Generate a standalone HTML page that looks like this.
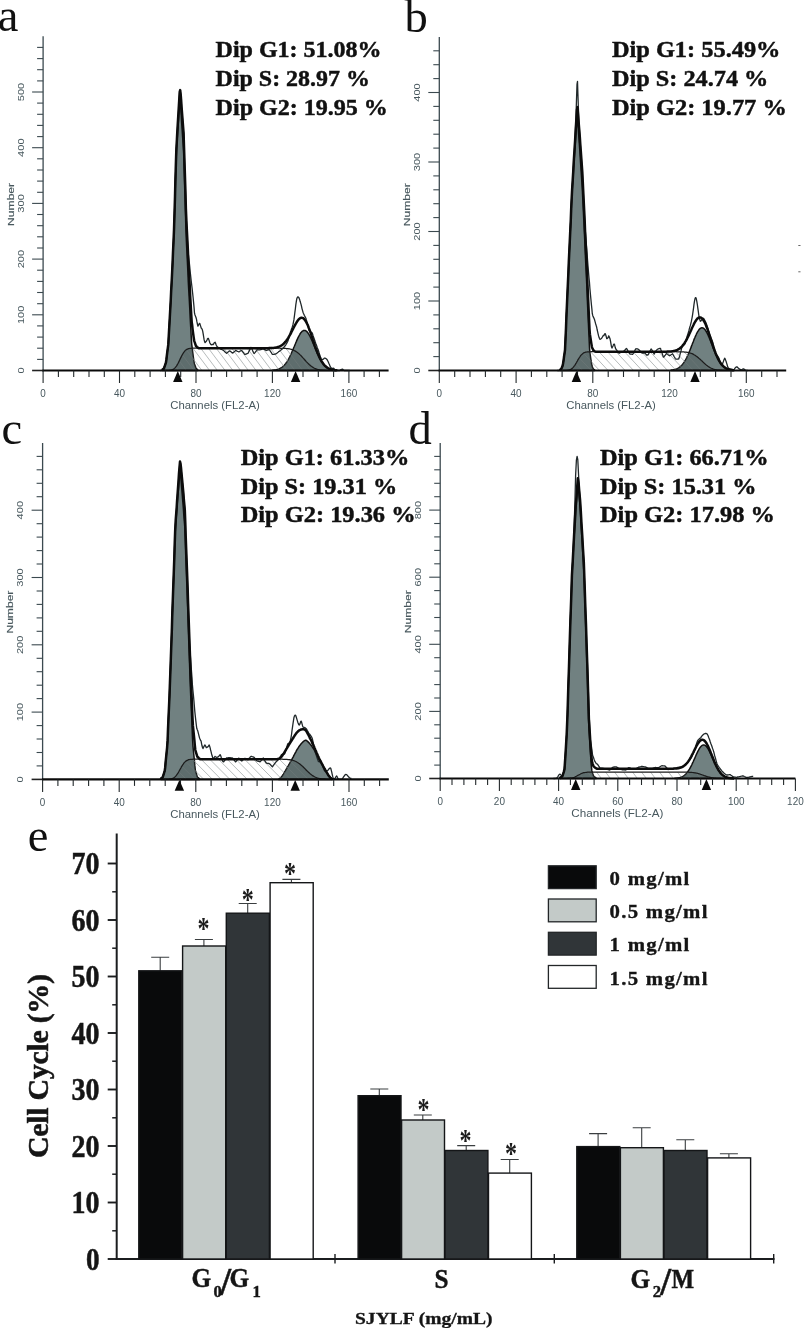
<!DOCTYPE html>
<html lang="en"><head><meta charset="utf-8"><title>Cell cycle figure</title>
<style>html,body{margin:0;padding:0;background:#fff}svg{display:block;will-change:transform}</style></head><body>
<svg width="805" height="1329" viewBox="0 0 805 1329">
<rect width="805" height="1329" fill="#fff"/>
<defs><filter id="soft" x="0" y="0" width="805" height="1329" filterUnits="userSpaceOnUse" color-interpolation-filters="sRGB"><feGaussianBlur stdDeviation="0.55"/></filter></defs>
<g filter="url(#soft)">
<rect width="805" height="1329" fill="#fff"/>
<g id="panel-a">
<line x1="43.1" y1="36.3" x2="43.1" y2="371.5" stroke="#3b494f" stroke-width="1.3"/>
<line x1="32.1" y1="370.5" x2="43.1" y2="370.5" stroke="#222" stroke-width="1.6"/>
<text transform="translate(23.8 370.5) rotate(-90)" text-anchor="middle" font-family='"Liberation Sans", "DejaVu Sans", sans-serif' font-size="9.3" fill="#48585e" textLength="6.2" lengthAdjust="spacingAndGlyphs">0</text>
<line x1="37.1" y1="359.4" x2="43.1" y2="359.4" stroke="#3b494f" stroke-width="1.1"/>
<line x1="37.1" y1="348.2" x2="43.1" y2="348.2" stroke="#3b494f" stroke-width="1.1"/>
<line x1="37.1" y1="337.1" x2="43.1" y2="337.1" stroke="#3b494f" stroke-width="1.1"/>
<line x1="37.1" y1="325.9" x2="43.1" y2="325.9" stroke="#3b494f" stroke-width="1.1"/>
<line x1="32.1" y1="314.8" x2="43.1" y2="314.8" stroke="#3b494f" stroke-width="1.1"/>
<text transform="translate(23.8 314.8) rotate(-90)" text-anchor="middle" font-family='"Liberation Sans", "DejaVu Sans", sans-serif' font-size="9.3" fill="#48585e" textLength="18.5" lengthAdjust="spacingAndGlyphs">100</text>
<line x1="37.1" y1="303.7" x2="43.1" y2="303.7" stroke="#3b494f" stroke-width="1.1"/>
<line x1="37.1" y1="292.5" x2="43.1" y2="292.5" stroke="#3b494f" stroke-width="1.1"/>
<line x1="37.1" y1="281.4" x2="43.1" y2="281.4" stroke="#3b494f" stroke-width="1.1"/>
<line x1="37.1" y1="270.2" x2="43.1" y2="270.2" stroke="#3b494f" stroke-width="1.1"/>
<line x1="32.1" y1="259.1" x2="43.1" y2="259.1" stroke="#3b494f" stroke-width="1.1"/>
<text transform="translate(23.8 259.1) rotate(-90)" text-anchor="middle" font-family='"Liberation Sans", "DejaVu Sans", sans-serif' font-size="9.3" fill="#48585e" textLength="18.5" lengthAdjust="spacingAndGlyphs">200</text>
<line x1="37.1" y1="248" x2="43.1" y2="248" stroke="#3b494f" stroke-width="1.1"/>
<line x1="37.1" y1="236.8" x2="43.1" y2="236.8" stroke="#3b494f" stroke-width="1.1"/>
<line x1="37.1" y1="225.7" x2="43.1" y2="225.7" stroke="#3b494f" stroke-width="1.1"/>
<line x1="37.1" y1="214.5" x2="43.1" y2="214.5" stroke="#3b494f" stroke-width="1.1"/>
<line x1="32.1" y1="203.4" x2="43.1" y2="203.4" stroke="#3b494f" stroke-width="1.1"/>
<text transform="translate(23.8 203.4) rotate(-90)" text-anchor="middle" font-family='"Liberation Sans", "DejaVu Sans", sans-serif' font-size="9.3" fill="#48585e" textLength="18.5" lengthAdjust="spacingAndGlyphs">300</text>
<line x1="37.1" y1="192.3" x2="43.1" y2="192.3" stroke="#3b494f" stroke-width="1.1"/>
<line x1="37.1" y1="181.1" x2="43.1" y2="181.1" stroke="#3b494f" stroke-width="1.1"/>
<line x1="37.1" y1="170" x2="43.1" y2="170" stroke="#3b494f" stroke-width="1.1"/>
<line x1="37.1" y1="158.8" x2="43.1" y2="158.8" stroke="#3b494f" stroke-width="1.1"/>
<line x1="32.1" y1="147.7" x2="43.1" y2="147.7" stroke="#3b494f" stroke-width="1.1"/>
<text transform="translate(23.8 147.7) rotate(-90)" text-anchor="middle" font-family='"Liberation Sans", "DejaVu Sans", sans-serif' font-size="9.3" fill="#48585e" textLength="18.5" lengthAdjust="spacingAndGlyphs">400</text>
<line x1="37.1" y1="136.6" x2="43.1" y2="136.6" stroke="#3b494f" stroke-width="1.1"/>
<line x1="37.1" y1="125.4" x2="43.1" y2="125.4" stroke="#3b494f" stroke-width="1.1"/>
<line x1="37.1" y1="114.3" x2="43.1" y2="114.3" stroke="#3b494f" stroke-width="1.1"/>
<line x1="37.1" y1="103.1" x2="43.1" y2="103.1" stroke="#3b494f" stroke-width="1.1"/>
<line x1="32.1" y1="92" x2="43.1" y2="92" stroke="#3b494f" stroke-width="1.1"/>
<text transform="translate(23.8 92) rotate(-90)" text-anchor="middle" font-family='"Liberation Sans", "DejaVu Sans", sans-serif' font-size="9.3" fill="#48585e" textLength="18.5" lengthAdjust="spacingAndGlyphs">500</text>
<line x1="37.1" y1="80.9" x2="43.1" y2="80.9" stroke="#3b494f" stroke-width="1.1"/>
<line x1="37.1" y1="69.7" x2="43.1" y2="69.7" stroke="#3b494f" stroke-width="1.1"/>
<line x1="37.1" y1="58.6" x2="43.1" y2="58.6" stroke="#3b494f" stroke-width="1.1"/>
<line x1="37.1" y1="47.4" x2="43.1" y2="47.4" stroke="#3b494f" stroke-width="1.1"/>
<text transform="translate(13.8 204.4) rotate(-90)" text-anchor="middle" font-family='"Liberation Sans", "DejaVu Sans", sans-serif' font-size="9.4" font-weight="normal" stroke="#48585e" stroke-width="0.18" fill="#48585e" textLength="43" lengthAdjust="spacingAndGlyphs">Number</text>
<clipPath id="clipa"><path d="M169.2 370.4 L169.7 370.3 L170.2 370.3 L170.7 370.2 L171.1 370.1 L171.6 370 L172.1 369.8 L172.6 369.6 L173 369.4 L173.5 369.1 L174 368.8 L174.5 368.4 L175 367.9 L175.4 367.4 L175.9 366.8 L176.4 366.2 L176.9 365.4 L177.3 364.6 L177.8 363.8 L178.3 362.9 L178.8 361.9 L179.3 360.9 L179.7 359.9 L180.2 358.9 L180.7 357.9 L181.2 356.9 L181.6 356 L182.1 355.1 L182.6 354.2 L183.1 353.4 L183.6 352.7 L184 352 L184.5 351.4 L185 350.8 L185.5 350.4 L185.9 350 L186.4 349.6 L186.9 349.3 L187.4 349.1 L187.9 348.9 L188.3 348.7 L188.8 348.6 L189.3 348.5 L189.8 348.4 L190.2 348.4 L190.7 348.3 L191.2 348.3 L191.7 348.3 L192.2 348.3 L192.6 348.2 L193.1 348.2 L193.6 348.2 L194.1 348.2 L194.5 348.2 L195 348.2 L195.5 348.2 L196 348.2 L196.5 348.2 L196.9 348.2 L197.4 348.2 L197.9 348.2 L198.4 348.2 L198.8 348.2 L199.3 348.2 L199.8 348.2 L200.3 348.2 L200.8 348.2 L201.2 348.2 L201.7 348.2 L202.2 348.2 L202.7 348.2 L203.1 348.2 L203.6 348.2 L204.1 348.2 L204.6 348.2 L205.1 348.2 L205.5 348.2 L206 348.2 L206.5 348.2 L207 348.2 L207.4 348.2 L207.9 348.2 L208.4 348.2 L208.9 348.2 L209.4 348.2 L209.8 348.2 L210.3 348.2 L210.8 348.2 L211.3 348.2 L211.7 348.2 L212.2 348.2 L212.7 348.2 L213.2 348.2 L213.7 348.2 L214.1 348.2 L214.6 348.2 L215.1 348.2 L215.6 348.2 L216 348.2 L216.5 348.2 L217 348.2 L217.5 348.2 L218 348.2 L218.4 348.2 L218.9 348.2 L219.4 348.2 L219.9 348.2 L220.3 348.2 L220.8 348.2 L221.3 348.2 L221.8 348.2 L222.3 348.2 L222.7 348.2 L223.2 348.2 L223.7 348.2 L224.2 348.2 L224.6 348.2 L225.1 348.2 L225.6 348.2 L226.1 348.2 L226.6 348.2 L227 348.2 L227.5 348.2 L228 348.2 L228.5 348.2 L228.9 348.2 L229.4 348.2 L229.9 348.2 L230.4 348.2 L230.9 348.2 L231.3 348.2 L231.8 348.2 L232.3 348.2 L232.8 348.2 L233.2 348.2 L233.7 348.2 L234.2 348.2 L234.7 348.2 L235.2 348.2 L235.6 348.2 L236.1 348.2 L236.6 348.2 L237.1 348.2 L237.5 348.2 L238 348.2 L238.5 348.2 L239 348.2 L239.5 348.2 L239.9 348.2 L240.4 348.2 L240.9 348.2 L241.4 348.2 L241.8 348.2 L242.3 348.2 L242.8 348.2 L243.3 348.2 L243.8 348.2 L244.2 348.2 L244.7 348.2 L245.2 348.2 L245.7 348.2 L246.1 348.2 L246.6 348.2 L247.1 348.2 L247.6 348.2 L248.1 348.2 L248.5 348.2 L249 348.2 L249.5 348.2 L250 348.2 L250.4 348.2 L250.9 348.2 L251.4 348.2 L251.9 348.2 L252.4 348.2 L252.8 348.2 L253.3 348.2 L253.8 348.2 L254.3 348.2 L254.7 348.2 L255.2 348.2 L255.7 348.2 L256.2 348.2 L256.7 348.2 L257.1 348.2 L257.6 348.2 L258.1 348.2 L258.6 348.2 L259 348.2 L259.5 348.2 L260 348.2 L260.5 348.2 L261 348.2 L261.4 348.2 L261.9 348.2 L262.4 348.2 L262.9 348.2 L263.3 348.2 L263.8 348.2 L264.3 348.2 L264.8 348.2 L265.3 348.2 L265.7 348.2 L266.2 348.2 L266.7 348.2 L267.2 348.2 L267.6 348.2 L268.1 348.2 L268.6 348.2 L269.1 348.2 L269.6 348.2 L270 348.2 L270.5 348.2 L271 348.2 L271.5 348.2 L271.9 348.2 L272.4 348.2 L272.9 348.2 L273.4 348.2 L273.9 348.2 L274.3 348.2 L274.8 348.2 L275.3 348.2 L275.8 348.2 L276.2 348.2 L276.7 348.2 L277.2 348.2 L277.7 348.2 L278.2 348.2 L278.6 348.2 L279.1 348.2 L279.6 348.2 L280.1 348.2 L280.5 348.3 L281 348.3 L281.5 348.3 L282 348.3 L282.5 348.3 L282.9 348.3 L283.4 348.3 L283.9 348.3 L284.4 348.4 L284.8 348.4 L285.3 348.4 L285.8 348.4 L286.3 348.5 L286.8 348.5 L287.2 348.6 L287.7 348.6 L288.2 348.7 L288.7 348.8 L289.1 348.8 L289.6 348.9 L290.1 349 L290.6 349.2 L291.1 349.3 L291.5 349.4 L292 349.6 L292.5 349.7 L293 349.9 L293.4 350.1 L293.9 350.3 L294.4 350.6 L294.9 350.8 L295.4 351.1 L295.8 351.4 L296.3 351.7 L296.8 352 L297.3 352.4 L297.7 352.8 L298.2 353.1 L298.7 353.5 L299.2 354 L299.7 354.4 L300.1 354.9 L300.6 355.3 L301.1 355.8 L301.6 356.3 L302 356.8 L302.5 357.3 L303 357.9 L303.5 358.4 L304 358.9 L304.4 359.5 L304.9 360 L305.4 360.5 L305.9 361.1 L306.3 361.6 L306.8 362.1 L307.3 362.6 L307.8 363.1 L308.3 363.6 L308.7 364 L309.2 364.5 L309.7 364.9 L310.2 365.3 L310.6 365.7 L311.1 366.1 L311.6 366.5 L312.1 366.8 L312.6 367.1 L313 367.4 L313.5 367.7 L314 368 L314.5 368.2 L314.9 368.5 L315.4 368.7 L315.9 368.9 L316.4 369.1 L316.9 369.2 L317.3 369.4 L317.8 369.5 L318.3 369.6 L318.8 369.7 L319.2 369.8 L319.7 369.9 L320.2 370 L320.7 370.1 L321.2 370.1 L321.6 370.2 L322.1 370.2 L322.6 370.3 L323.1 370.3 L323.5 370.3 L324 370.4 L324.5 370.4 L325 370.4 L325.5 370.4 L325.5 370.5 L169.2 370.5 Z"/></clipPath>
<path d="M162.1 370 L162.5 369.6 L163 369.2 L163.5 368.8 L164 368.4 L164.4 367 L164.9 365.6 L165.4 364.2 L165.9 362.7 L166.4 359.5 L166.8 355.8 L167.3 352 L167.8 348.2 L168.3 344.4 L168.7 337 L169.2 328 L169.7 319.1 L170.2 310.2 L170.7 301.3 L171.1 292.4 L171.6 283.5 L172.1 273.3 L172.6 263.2 L173 253 L173.5 242.9 L174 231.5 L174.5 215.3 L175 199.1 L175.4 182.9 L175.9 166.7 L176.4 152.1 L176.9 144.8 L177.3 137.4 L177.8 130.1 L178.3 122.8 L178.8 115.4 L179.3 108.1 L179.7 102.4 L180.2 101.7 L180.7 107.2 L181.2 114.5 L181.6 121.9 L182.1 129.2 L182.6 136.6 L183.1 143.9 L183.6 151.3 L184 164.8 L184.5 181 L185 197.2 L185.5 213.4 L185.9 229.6 L186.4 241.7 L186.9 251.8 L187.4 262 L187.9 272.1 L188.3 282.3 L188.8 291.3 L189.3 300.2 L189.8 309.2 L190.2 318.1 L190.7 327 L191.2 335.9 L191.7 344 L192.2 347.8 L192.6 351.5 L193.1 355.3 L193.6 359.1 L194.1 362.6 L194.5 364 L195 365.4 L195.5 366.8 L196 368.3 L196.5 368.7 L196.9 369.1 L197.4 369.6 L197.9 370 L197.9 370.5 L162.1 370.5 Z" fill="#718181" stroke="#111" stroke-width="1.5" stroke-linejoin="round"/>
<path d="M272.4 370.3 L272.9 370.2 L273.4 370.2 L273.9 370.1 L274.3 370.1 L274.8 370 L275.3 369.9 L275.8 369.9 L276.2 369.8 L276.7 369.7 L277.2 369.5 L277.7 369.4 L278.2 369.3 L278.6 369.1 L279.1 368.9 L279.6 368.7 L280.1 368.5 L280.5 368.2 L281 367.9 L281.5 367.6 L282 367.3 L282.5 366.9 L282.9 366.6 L283.4 366.1 L283.9 365.7 L284.4 365.2 L284.8 364.6 L285.3 364.1 L285.8 363.5 L286.3 362.8 L286.8 362.1 L287.2 361.4 L287.7 360.6 L288.2 359.8 L288.7 358.9 L289.1 358 L289.6 357.1 L290.1 356.1 L290.6 355.1 L291.1 354.1 L291.5 353 L292 351.9 L292.5 350.8 L293 349.7 L293.4 348.5 L293.9 347.3 L294.4 346.2 L294.9 345 L295.4 343.8 L295.8 342.7 L296.3 341.6 L296.8 340.4 L297.3 339.4 L297.7 338.3 L298.2 337.3 L298.7 336.4 L299.2 335.5 L299.7 334.6 L300.1 333.8 L300.6 333.1 L301.1 332.5 L301.6 331.9 L302 331.4 L302.5 331.1 L303 330.8 L303.5 330.5 L304 330.4 L304.4 330.4 L304.9 330.5 L305.4 330.6 L305.9 330.9 L306.3 331.2 L306.8 331.6 L307.3 332.1 L307.8 332.7 L308.3 333.4 L308.7 334.1 L309.2 334.9 L309.7 335.8 L310.2 336.7 L310.6 337.7 L311.1 338.7 L311.6 339.8 L312.1 340.9 L312.6 342 L313 343.2 L313.5 344.3 L314 345.5 L314.5 346.6 L314.9 347.8 L315.4 349 L315.9 350.1 L316.4 351.2 L316.9 352.4 L317.3 353.4 L317.8 354.5 L318.3 355.5 L318.8 356.5 L319.2 357.5 L319.7 358.4 L320.2 359.3 L320.7 360.1 L321.2 360.9 L321.6 361.7 L322.1 362.4 L322.6 363.1 L323.1 363.7 L323.5 364.3 L324 364.9 L324.5 365.4 L325 365.9 L325.5 366.3 L325.9 366.7 L326.4 367.1 L326.9 367.4 L327.4 367.8 L327.8 368.1 L328.3 368.3 L328.8 368.6 L329.3 368.8 L329.8 369 L330.2 369.2 L330.7 369.3 L331.2 369.5 L331.7 369.6 L332.1 369.7 L332.6 369.8 L333.1 369.9 L333.6 370 L334 370 L334.5 370.1 L335 370.2 L335.5 370.2 L336 370.2 L336 370.5 L272.4 370.5 Z" fill="#718181" stroke="#111" stroke-width="1.5" stroke-linejoin="round"/>
<path d="M144.9 346.2 l18.2 24.3 M152.7 346.2 l18.2 24.3 M160.4 346.2 l18.2 24.3 M168.2 346.2 l18.2 24.3 M175.9 346.2 l18.2 24.3 M183.7 346.2 l18.2 24.3 M191.4 346.2 l18.2 24.3 M199.2 346.2 l18.2 24.3 M206.9 346.2 l18.2 24.3 M214.7 346.2 l18.2 24.3 M222.4 346.2 l18.2 24.3 M230.2 346.2 l18.2 24.3 M237.9 346.2 l18.2 24.3 M245.7 346.2 l18.2 24.3 M253.4 346.2 l18.2 24.3 M261.2 346.2 l18.2 24.3 M268.9 346.2 l18.2 24.3 M276.7 346.2 l18.2 24.3 M284.4 346.2 l18.2 24.3 M292.2 346.2 l18.2 24.3 M299.9 346.2 l18.2 24.3 M307.7 346.2 l18.2 24.3 M315.4 346.2 l18.2 24.3 M323.2 346.2 l18.2 24.3" stroke="#8f9797" stroke-width="0.65" fill="none" clip-path="url(#clipa)"/>
<path d="M170.2 370.3 L170.7 370.2 L171.1 370.1 L171.6 370 L172.1 369.8 L172.6 369.6 L173 369.4 L173.5 369.1 L174 368.8 L174.5 368.4 L175 367.9 L175.4 367.4 L175.9 366.8 L176.4 366.2 L176.9 365.4 L177.3 364.6 L177.8 363.8 L178.3 362.9 L178.8 361.9 L179.3 360.9 L179.7 359.9 L180.2 358.9 L180.7 357.9 L181.2 356.9 L181.6 356 L182.1 355.1 L182.6 354.2 L183.1 353.4 L183.6 352.7 L184 352 L184.5 351.4 L185 350.8 L185.5 350.4 L185.9 350 L186.4 349.6 L186.9 349.3 L187.4 349.1 L187.9 348.9 L188.3 348.7 L188.8 348.6 L189.3 348.5 L189.8 348.4 L190.2 348.4 L190.7 348.3 L191.2 348.3 L191.7 348.3 L192.2 348.3 L192.6 351.5 L193.1 355.3 L193.6 359.1 L194.1 362.6 L194.5 364 L195 365.4 L195.5 366.8 L196 368.3 L196.5 368.7 L196.9 369.1 L197.4 369.6 L197.9 370 L197.9 370.5 L170.2 370.5 Z" fill="#465454" fill-opacity="0.45" stroke="none"/>
<path d="M271.5 370.3 L271.9 370.3 L272.4 370.3 L272.9 370.2 L273.4 370.2 L273.9 370.1 L274.3 370.1 L274.8 370 L275.3 369.9 L275.8 369.9 L276.2 369.8 L276.7 369.7 L277.2 369.5 L277.7 369.4 L278.2 369.3 L278.6 369.1 L279.1 368.9 L279.6 368.7 L280.1 368.5 L280.5 368.2 L281 367.9 L281.5 367.6 L282 367.3 L282.5 366.9 L282.9 366.6 L283.4 366.1 L283.9 365.7 L284.4 365.2 L284.8 364.6 L285.3 364.1 L285.8 363.5 L286.3 362.8 L286.8 362.1 L287.2 361.4 L287.7 360.6 L288.2 359.8 L288.7 358.9 L289.1 358 L289.6 357.1 L290.1 356.1 L290.6 355.1 L291.1 354.1 L291.5 353 L292 351.9 L292.5 350.8 L293 349.9 L293.4 350.1 L293.9 350.3 L294.4 350.6 L294.9 350.8 L295.4 351.1 L295.8 351.4 L296.3 351.7 L296.8 352 L297.3 352.4 L297.7 352.8 L298.2 353.1 L298.7 353.5 L299.2 354 L299.7 354.4 L300.1 354.9 L300.6 355.3 L301.1 355.8 L301.6 356.3 L302 356.8 L302.5 357.3 L303 357.9 L303.5 358.4 L304 358.9 L304.4 359.5 L304.9 360 L305.4 360.5 L305.9 361.1 L306.3 361.6 L306.8 362.1 L307.3 362.6 L307.8 363.1 L308.3 363.6 L308.7 364 L309.2 364.5 L309.7 364.9 L310.2 365.3 L310.6 365.7 L311.1 366.1 L311.6 366.5 L312.1 366.8 L312.6 367.1 L313 367.4 L313.5 367.7 L314 368 L314.5 368.2 L314.9 368.5 L315.4 368.7 L315.9 368.9 L316.4 369.1 L316.9 369.2 L317.3 369.4 L317.8 369.5 L318.3 369.6 L318.8 369.7 L319.2 369.8 L319.7 369.9 L320.2 370 L320.7 370.1 L321.2 370.1 L321.6 370.2 L322.1 370.2 L322.6 370.3 L323.1 370.3 L323.5 370.3 L323.5 370.5 L271.5 370.5 Z" fill="#465454" fill-opacity="0.45" stroke="none"/>
<path d="M169.2 370.4 L169.7 370.3 L170.2 370.3 L170.7 370.2 L171.1 370.1 L171.6 370 L172.1 369.8 L172.6 369.6 L173 369.4 L173.5 369.1 L174 368.8 L174.5 368.4 L175 367.9 L175.4 367.4 L175.9 366.8 L176.4 366.2 L176.9 365.4 L177.3 364.6 L177.8 363.8 L178.3 362.9 L178.8 361.9 L179.3 360.9 L179.7 359.9 L180.2 358.9 L180.7 357.9 L181.2 356.9 L181.6 356 L182.1 355.1 L182.6 354.2 L183.1 353.4 L183.6 352.7 L184 352 L184.5 351.4 L185 350.8 L185.5 350.4 L185.9 350 L186.4 349.6 L186.9 349.3 L187.4 349.1 L187.9 348.9 L188.3 348.7 L188.8 348.6 L189.3 348.5 L189.8 348.4 L190.2 348.4 L190.7 348.3 L191.2 348.3 L191.7 348.3 L192.2 348.3 L192.6 348.2 L193.1 348.2 L193.6 348.2 L194.1 348.2 L194.5 348.2 L195 348.2 L195.5 348.2 L196 348.2 L196.5 348.2 L196.9 348.2 L197.4 348.2 L197.9 348.2 L198.4 348.2 L198.8 348.2 L199.3 348.2 L199.8 348.2 L200.3 348.2 L200.8 348.2 L201.2 348.2 L201.7 348.2 L202.2 348.2 L202.7 348.2 L203.1 348.2 L203.6 348.2 L204.1 348.2 L204.6 348.2 L205.1 348.2 L205.5 348.2 L206 348.2 L206.5 348.2 L207 348.2 L207.4 348.2 L207.9 348.2 L208.4 348.2 L208.9 348.2 L209.4 348.2 L209.8 348.2 L210.3 348.2 L210.8 348.2 L211.3 348.2 L211.7 348.2 L212.2 348.2 L212.7 348.2 L213.2 348.2 L213.7 348.2 L214.1 348.2 L214.6 348.2 L215.1 348.2 L215.6 348.2 L216 348.2 L216.5 348.2 L217 348.2 L217.5 348.2 L218 348.2 L218.4 348.2 L218.9 348.2 L219.4 348.2 L219.9 348.2 L220.3 348.2 L220.8 348.2 L221.3 348.2 L221.8 348.2 L222.3 348.2 L222.7 348.2 L223.2 348.2 L223.7 348.2 L224.2 348.2 L224.6 348.2 L225.1 348.2 L225.6 348.2 L226.1 348.2 L226.6 348.2 L227 348.2 L227.5 348.2 L228 348.2 L228.5 348.2 L228.9 348.2 L229.4 348.2 L229.9 348.2 L230.4 348.2 L230.9 348.2 L231.3 348.2 L231.8 348.2 L232.3 348.2 L232.8 348.2 L233.2 348.2 L233.7 348.2 L234.2 348.2 L234.7 348.2 L235.2 348.2 L235.6 348.2 L236.1 348.2 L236.6 348.2 L237.1 348.2 L237.5 348.2 L238 348.2 L238.5 348.2 L239 348.2 L239.5 348.2 L239.9 348.2 L240.4 348.2 L240.9 348.2 L241.4 348.2 L241.8 348.2 L242.3 348.2 L242.8 348.2 L243.3 348.2 L243.8 348.2 L244.2 348.2 L244.7 348.2 L245.2 348.2 L245.7 348.2 L246.1 348.2 L246.6 348.2 L247.1 348.2 L247.6 348.2 L248.1 348.2 L248.5 348.2 L249 348.2 L249.5 348.2 L250 348.2 L250.4 348.2 L250.9 348.2 L251.4 348.2 L251.9 348.2 L252.4 348.2 L252.8 348.2 L253.3 348.2 L253.8 348.2 L254.3 348.2 L254.7 348.2 L255.2 348.2 L255.7 348.2 L256.2 348.2 L256.7 348.2 L257.1 348.2 L257.6 348.2 L258.1 348.2 L258.6 348.2 L259 348.2 L259.5 348.2 L260 348.2 L260.5 348.2 L261 348.2 L261.4 348.2 L261.9 348.2 L262.4 348.2 L262.9 348.2 L263.3 348.2 L263.8 348.2 L264.3 348.2 L264.8 348.2 L265.3 348.2 L265.7 348.2 L266.2 348.2 L266.7 348.2 L267.2 348.2 L267.6 348.2 L268.1 348.2 L268.6 348.2 L269.1 348.2 L269.6 348.2 L270 348.2 L270.5 348.2 L271 348.2 L271.5 348.2 L271.9 348.2 L272.4 348.2 L272.9 348.2 L273.4 348.2 L273.9 348.2 L274.3 348.2 L274.8 348.2 L275.3 348.2 L275.8 348.2 L276.2 348.2 L276.7 348.2 L277.2 348.2 L277.7 348.2 L278.2 348.2 L278.6 348.2 L279.1 348.2 L279.6 348.2 L280.1 348.2 L280.5 348.3 L281 348.3 L281.5 348.3 L282 348.3 L282.5 348.3 L282.9 348.3 L283.4 348.3 L283.9 348.3 L284.4 348.4 L284.8 348.4 L285.3 348.4 L285.8 348.4 L286.3 348.5 L286.8 348.5 L287.2 348.6 L287.7 348.6 L288.2 348.7 L288.7 348.8 L289.1 348.8 L289.6 348.9 L290.1 349 L290.6 349.2 L291.1 349.3 L291.5 349.4 L292 349.6 L292.5 349.7 L293 349.9 L293.4 350.1 L293.9 350.3 L294.4 350.6 L294.9 350.8 L295.4 351.1 L295.8 351.4 L296.3 351.7 L296.8 352 L297.3 352.4 L297.7 352.8 L298.2 353.1 L298.7 353.5 L299.2 354 L299.7 354.4 L300.1 354.9 L300.6 355.3 L301.1 355.8 L301.6 356.3 L302 356.8 L302.5 357.3 L303 357.9 L303.5 358.4 L304 358.9 L304.4 359.5 L304.9 360 L305.4 360.5 L305.9 361.1 L306.3 361.6 L306.8 362.1 L307.3 362.6 L307.8 363.1 L308.3 363.6 L308.7 364 L309.2 364.5 L309.7 364.9 L310.2 365.3 L310.6 365.7 L311.1 366.1 L311.6 366.5 L312.1 366.8 L312.6 367.1 L313 367.4 L313.5 367.7 L314 368 L314.5 368.2 L314.9 368.5 L315.4 368.7 L315.9 368.9 L316.4 369.1 L316.9 369.2 L317.3 369.4 L317.8 369.5 L318.3 369.6 L318.8 369.7 L319.2 369.8 L319.7 369.9 L320.2 370 L320.7 370.1 L321.2 370.1 L321.6 370.2 L322.1 370.2 L322.6 370.3 L323.1 370.3 L323.5 370.3 L324 370.4 L324.5 370.4 L325 370.4 L325.5 370.4" fill="none" stroke="#1c1c1c" stroke-width="1.25"/>
<path d="M160.1 370.5 L160.6 370.5 L161.1 370.5 L161.6 370.4 L162.1 370 L162.5 369.6 L163 369.2 L163.5 368.8 L164 368.4 L164.4 367 L164.9 365.6 L165.4 364.1 L165.9 362.7 L166.4 359.5 L166.8 355.8 L167.3 352 L167.8 348.2 L168.3 344.4 L168.7 336.9 L169.2 327.9 L169.7 319 L170.2 310 L170.7 301 L171.1 292 L171.6 283 L172.1 272.7 L172.6 262.3 L173 252 L173.5 241.5 L174 229.8 L174.5 213.2 L175 196.5 L175.4 179.8 L175.9 163 L176.4 147.8 L176.9 139.7 L177.3 131.6 L177.8 123.4 L178.3 115.1 L178.8 106.8 L179.3 98.5 L179.7 91.8 L180.2 90.1 L180.7 94.7 L181.2 101 L181.6 107.4 L182.1 113.8 L182.6 120.3 L183.1 126.8 L183.6 133.4 L184 146.2 L184.5 161.8 L185 177.5 L185.5 193.2 L185.9 209 L186.4 220.8 L186.9 230.7 L187.4 240.6 L187.9 249.2 L188.3 253.7 L188.8 258.2 L189.3 262.6 L189.8 267.2 L190.2 271.8 L190.7 276.3 L191.2 280.8 L191.7 285 L192.2 289 L192.6 292.9 L193.1 297.5 L193.6 302.6 L194.1 307.9 L194.5 313.2 L195 315 L195.5 316.2 L196 317.5 L196.5 319.4 L196.9 321.7 L197.4 324 L197.9 326.1 L198.4 325.3 L198.8 324.5 L199.3 323.5 L199.8 323.5 L200.3 325.1 L200.8 326.6 L201.2 328.1 L201.7 328.5 L202.2 329.4 L202.7 331.1 L203.1 333.3 L203.6 336.5 L204.1 339.7 L204.6 341.6 L205.1 342.6 L205.5 342.2 L206 341.6 L206.5 341 L207 340 L207.4 339 L207.9 338.3 L208.4 338.4 L208.9 339.9 L209.4 341.3 L209.8 342.7 L210.3 343.7 L210.8 344.4 L211.3 344.8 L211.7 344.6 L212.2 344.5 L212.7 344.5 L213.2 344.5 L213.7 343.9 L214.1 343 L214.6 342.5 L215.1 342.2 L215.6 343.3 L216 344.5 L216.5 345.6 L217 346.5 L217.5 347 L218 347.3 L218.4 347.6 L218.9 347.9 L219.4 348.2 L219.9 348.5 L220.3 348.8 L220.8 349.1 L221.3 349.3 L221.8 349.5 L222.3 349.8 L222.7 350 L223.2 350.2 L223.7 350.6 L224.2 351.1 L224.6 351.5 L225.1 352 L225.6 352.4 L226.1 352.9 L226.6 353.3 L227 352.9 L227.5 352.5 L228 352.1 L228.5 351.7 L228.9 351.3 L229.4 350.9 L229.9 351 L230.4 351.3 L230.9 351.7 L231.3 352.1 L231.8 352.5 L232.3 352.9 L232.8 353.1 L233.2 352.6 L233.7 352.2 L234.2 351.8 L234.7 351.3 L235.2 350.9 L235.6 350.5 L236.1 350.6 L236.6 350.8 L237.1 351.1 L237.5 351.3 L238 351.5 L238.5 351.8 L239 351.8 L239.5 351.6 L239.9 351.3 L240.4 351 L240.9 350.7 L241.4 350.7 L241.8 350.6 L242.3 351.2 L242.8 351.8 L243.3 352.4 L243.8 353 L244.2 353.6 L244.7 354.3 L245.2 354.4 L245.7 354.2 L246.1 354.1 L246.6 353.9 L247.1 353.7 L247.6 353.5 L248.1 353.2 L248.5 352.3 L249 351.3 L249.5 350.4 L250 349.4 L250.4 348.4 L250.9 347.4 L251.4 348 L251.9 349 L252.4 350.1 L252.8 351.1 L253.3 352.1 L253.8 353.2 L254.3 353.5 L254.7 352.9 L255.2 352.3 L255.7 351.6 L256.2 351 L256.7 350.3 L257.1 349.7 L257.6 349.8 L258.1 349.8 L258.6 349.8 L259 349.8 L259.5 349.8 L260 349.8 L260.5 349.7 L261 349.5 L261.4 349.4 L261.9 349.2 L262.4 349 L262.9 348.9 L263.3 348.8 L263.8 349.1 L264.3 349.3 L264.8 349.6 L265.3 349.9 L265.7 350.2 L266.2 350.5 L266.7 350.3 L267.2 350.2 L267.6 350 L268.1 349.9 L268.6 349.8 L269.1 349.6 L269.6 349.8 L270 350.6 L270.5 351.3 L271 352.1 L271.5 352.8 L271.9 353.6 L272.4 354.3 L272.9 354.3 L273.4 354.3 L273.9 354.3 L274.3 354.3 L274.8 354.2 L275.3 354.2 L275.8 353.9 L276.2 353.6 L276.7 353.3 L277.2 353 L277.7 352.6 L278.2 352.1 L278.6 351.6 L279.1 351.4 L279.6 351.1 L280.1 350.7 L280.5 350.4 L281 350 L281.5 349.6 L282 349.2 L282.5 348.8 L282.9 348.3 L283.4 347.8 L283.9 347.3 L284.4 346.8 L284.8 346.2 L285.3 345.5 L285.8 344.8 L286.3 344 L286.8 343.2 L287.2 342.4 L287.7 341.5 L288.2 340 L288.7 338.4 L289.1 336.8 L289.6 335.1 L290.1 333.4 L290.6 331.5 L291.1 330.2 L291.5 329 L292 327.7 L292.5 326.2 L293 324.4 L293.4 322.4 L293.9 319.9 L294.4 316.1 L294.9 312.2 L295.4 308.5 L295.8 304.9 L296.3 301.6 L296.8 298.7 L297.3 297.4 L297.7 296.9 L298.2 296.9 L298.7 297.4 L299.2 298.4 L299.7 299.7 L300.1 301.3 L300.6 302.9 L301.1 304.7 L301.6 306.7 L302 308.6 L302.5 310.4 L303 312.2 L303.5 313.4 L304 314.5 L304.4 315.5 L304.9 316.4 L305.4 317.3 L305.9 318.2 L306.3 319.7 L306.8 321.4 L307.3 323.2 L307.8 325.1 L308.3 327 L308.7 328.9 L309.2 330.6 L309.7 331.1 L310.2 331.4 L310.6 331.7 L311.1 332 L311.6 332.4 L312.1 332.8 L312.6 334 L313 335.4 L313.5 336.9 L314 338.3 L314.5 339.7 L314.9 341.1 L315.4 342.4 L315.9 343.8 L316.4 345.1 L316.9 346.4 L317.3 347.7 L317.8 348.9 L318.3 350.1 L318.8 351.7 L319.2 353.3 L319.7 354.8 L320.2 356.2 L320.7 357.6 L321.2 358.8 L321.6 359.4 L322.1 359.5 L322.6 359.5 L323.1 359.3 L323.5 359 L324 358.5 L324.5 358.1 L325 358.2 L325.5 358.3 L325.9 358.5 L326.4 358.9 L326.9 359.5 L327.4 360.2 L327.8 361 L328.3 362 L328.8 363.2 L329.3 364.3 L329.8 365.5 L330.2 366.6 L330.7 367.4 L331.2 367.9 L331.7 368.1 L332.1 368.3 L332.6 368.4 L333.1 368.3 L333.6 368.2 L334 368.7 L334.5 369.2 L335 369.6 L335.5 370 L336 370.2 L336.4 370.3 L336.9 370.4 L337.4 370.4 L337.9 370.5 L338.3 370.5 L338.8 370.5 L339.3 370.5 L339.8 370.5 L340.3 370.1 L340.7 369.7 L341.2 369.5 L341.7 369.3 L342.2 369.2 L342.6 369.2 L343.1 369.6 L343.6 370.1 L344.1 370.5 L344.6 370.5 L345 370.5 L345.5 370.5 L346 370.5 L346.5 370.5 L346.9 370.5 L347.4 370.5 L347.9 370.5 L348.4 370.5 L348.9 370.5 L349.3 370.5 L349.8 370.5" fill="none" stroke="#20282a" stroke-width="1.3" stroke-linejoin="round"/>
<path d="M162.1 370 L162.5 369.6 L163 369.2 L163.5 368.8 L164 368.4 L164.4 367 L164.9 365.6 L165.4 364.1 L165.9 362.7 L166.4 359.5 L166.8 355.8 L167.3 352 L167.8 348.2 L168.3 344.4 L168.7 336.9 L169.2 327.9 L169.7 319 L170.2 310 L170.7 301 L171.1 292 L171.6 283 L172.1 272.7 L172.6 262.3 L173 252 L173.5 241.5 L174 229.8 L174.5 213.2 L175 196.5 L175.4 179.8 L175.9 163 L176.4 147.8 L176.9 139.7 L177.3 131.6 L177.8 123.4 L178.3 115.1 L178.8 106.8 L179.3 98.5 L179.7 91.8 L180.2 90.1 L180.7 94.7 L181.2 101 L181.6 107.4 L182.1 113.8 L182.6 120.3 L183.1 126.8 L183.6 133.4 L184 146.2 L184.5 161.8 L185 177.5 L185.5 193.2 L185.9 209 L186.4 220.8 L186.9 230.7 L187.4 240.6 L187.9 250.5 L188.3 260.5 L188.8 269.5 L189.3 278.3 L189.8 287.1 L190.2 296 L190.7 304.8 L191.2 313.7 L191.7 321.8 L192.2 325.5 L192.6 329.3 L193.1 333.1 L193.6 336.8 L194.1 340.3 L194.5 341.7 L195 343.1 L195.5 344.6 L196 346 L196.5 346.4 L196.9 346.9 L197.4 347.3 L197.9 347.7 L198.4 348.1 L198.8 348.2 L199.3 348.2 L199.8 348.2 L200.3 348.2 L200.8 348.2 L201.2 348.2 L201.7 348.2 L202.2 348.2 L202.7 348.2 L203.1 348.2 L203.6 348.2 L204.1 348.2 L204.6 348.2 L205.1 348.2 L205.5 348.2 L206 348.2 L206.5 348.2 L207 348.2 L207.4 348.2 L207.9 348.2 L208.4 348.2 L208.9 348.2 L209.4 348.2 L209.8 348.2 L210.3 348.2 L210.8 348.2 L211.3 348.2 L211.7 348.2 L212.2 348.2 L212.7 348.2 L213.2 348.2 L213.7 348.2 L214.1 348.2 L214.6 348.2 L215.1 348.2 L215.6 348.2 L216 348.2 L216.5 348.2 L217 348.2 L217.5 348.2 L218 348.2 L218.4 348.2 L218.9 348.2 L219.4 348.2 L219.9 348.2 L220.3 348.2 L220.8 348.2 L221.3 348.2 L221.8 348.2 L222.3 348.2 L222.7 348.2 L223.2 348.2 L223.7 348.2 L224.2 348.2 L224.6 348.2 L225.1 348.2 L225.6 348.2 L226.1 348.2 L226.6 348.2 L227 348.2 L227.5 348.2 L228 348.2 L228.5 348.2 L228.9 348.2 L229.4 348.2 L229.9 348.2 L230.4 348.2 L230.9 348.2 L231.3 348.2 L231.8 348.2 L232.3 348.2 L232.8 348.2 L233.2 348.2 L233.7 348.2 L234.2 348.2 L234.7 348.2 L235.2 348.2 L235.6 348.2 L236.1 348.2 L236.6 348.2 L237.1 348.2 L237.5 348.2 L238 348.2 L238.5 348.2 L239 348.2 L239.5 348.2 L239.9 348.2 L240.4 348.2 L240.9 348.2 L241.4 348.2 L241.8 348.2 L242.3 348.2 L242.8 348.2 L243.3 348.2 L243.8 348.2 L244.2 348.2 L244.7 348.2 L245.2 348.2 L245.7 348.2 L246.1 348.2 L246.6 348.2 L247.1 348.2 L247.6 348.2 L248.1 348.2 L248.5 348.2 L249 348.2 L249.5 348.2 L250 348.2 L250.4 348.2 L250.9 348.2 L251.4 348.2 L251.9 348.2 L252.4 348.2 L252.8 348.2 L253.3 348.2 L253.8 348.2 L254.3 348.2 L254.7 348.2 L255.2 348.2 L255.7 348.2 L256.2 348.2 L256.7 348.2 L257.1 348.2 L257.6 348.2 L258.1 348.2 L258.6 348.2 L259 348.2 L259.5 348.2 L260 348.2 L260.5 348.2 L261 348.2 L261.4 348.2 L261.9 348.2 L262.4 348.2 L262.9 348.2 L263.3 348.2 L263.8 348.2 L264.3 348.2 L264.8 348.2 L265.3 348.2 L265.7 348.2 L266.2 348.2 L266.7 348.2 L267.2 348.2 L267.6 348.2 L268.1 348.2 L268.6 348.2 L269.1 348.1 L269.6 348.1 L270 348.1 L270.5 348.1 L271 348.1 L271.5 348.1 L271.9 348 L272.4 348 L272.9 348 L273.4 347.9 L273.9 347.9 L274.3 347.8 L274.8 347.7 L275.3 347.7 L275.8 347.6 L276.2 347.5 L276.7 347.4 L277.2 347.3 L277.7 347.1 L278.2 347 L278.6 346.8 L279.1 346.6 L279.6 346.4 L280.1 346.2 L280.5 346 L281 345.7 L281.5 345.4 L282 345.1 L282.5 344.7 L282.9 344.4 L283.4 343.9 L283.9 343.5 L284.4 343 L284.8 342.5 L285.3 342 L285.8 341.4 L286.3 340.8 L286.8 340.1 L287.2 339.5 L287.7 338.7 L288.2 338 L288.7 337.2 L289.1 336.4 L289.6 335.5 L290.1 334.7 L290.6 333.8 L291.1 332.9 L291.5 331.9 L292 331 L292.5 330 L293 329.1 L293.4 328.1 L293.9 327.2 L294.4 326.2 L294.9 325.3 L295.4 324.4 L295.8 323.6 L296.3 322.8 L296.8 322 L297.3 321.2 L297.7 320.6 L298.2 320 L298.7 319.4 L299.2 318.9 L299.7 318.5 L300.1 318.2 L300.6 318 L301.1 317.8 L301.6 317.7 L302 317.8 L302.5 317.9 L303 318.1 L303.5 318.4 L304 318.9 L304.4 319.4 L304.9 320 L305.4 320.7 L305.9 321.4 L306.3 322.3 L306.8 323.2 L307.3 324.2 L307.8 325.3 L308.3 326.5 L308.7 327.7 L309.2 328.9 L309.7 330.2 L310.2 331.6 L310.6 332.9 L311.1 334.3 L311.6 335.8 L312.1 337.2 L312.6 338.7 L313 340.1 L313.5 341.5 L314 343 L314.5 344.4 L314.9 345.8 L315.4 347.2 L315.9 348.5 L316.4 349.8 L316.9 351.1 L317.3 352.3 L317.8 353.5 L318.3 354.6 L318.8 355.7 L319.2 356.8 L319.7 357.8 L320.2 358.8 L320.7 359.7 L321.2 360.5 L321.6 361.4 L322.1 362.1 L322.6 362.8 L323.1 363.5 L323.5 364.1 L324 364.7 L324.5 365.3 L325 365.8 L325.5 366.2 L325.9 366.6 L326.4 367 L326.9 367.4 L327.4 367.7 L327.8 368 L328.3 368.3 L328.8 368.5 L329.3 368.8 L329.8 369 L330.2 369.1 L330.7 369.3 L331.2 369.4 L331.7 369.6 L332.1 369.7 L332.6 369.8 L333.1 369.9 L333.6 370 L334 370 L334.5 370.1 L335 370.2 L335.5 370.2 L336 370.2 L336.4 370.3 L336.9 370.3 L337.4 370.3" fill="none" stroke="#0c0c0c" stroke-width="2.5" stroke-linejoin="round"/>
<line x1="42.5" y1="370.5" x2="388.6" y2="370.5" stroke="#0a0a0a" stroke-width="2.2"/>
<line x1="43.1" y1="370.5" x2="43.1" y2="383" stroke="#23292b" stroke-width="1.1"/>
<text x="43.1" y="396.9" text-anchor="middle" font-family='"Liberation Sans", "DejaVu Sans", sans-serif' font-size="10.9" fill="#48585e" textLength="5.5" lengthAdjust="spacingAndGlyphs">0</text>
<line x1="58.4" y1="370.5" x2="58.4" y2="377" stroke="#23292b" stroke-width="1.1"/>
<line x1="73.7" y1="370.5" x2="73.7" y2="377" stroke="#23292b" stroke-width="1.1"/>
<line x1="89" y1="370.5" x2="89" y2="377" stroke="#23292b" stroke-width="1.1"/>
<line x1="104.3" y1="370.5" x2="104.3" y2="377" stroke="#23292b" stroke-width="1.1"/>
<line x1="119.5" y1="370.5" x2="119.5" y2="383" stroke="#23292b" stroke-width="1.1"/>
<text x="119.5" y="396.9" text-anchor="middle" font-family='"Liberation Sans", "DejaVu Sans", sans-serif' font-size="10.9" fill="#48585e" textLength="11.1" lengthAdjust="spacingAndGlyphs">40</text>
<line x1="134.8" y1="370.5" x2="134.8" y2="377" stroke="#23292b" stroke-width="1.1"/>
<line x1="150.1" y1="370.5" x2="150.1" y2="377" stroke="#23292b" stroke-width="1.1"/>
<line x1="165.4" y1="370.5" x2="165.4" y2="377" stroke="#23292b" stroke-width="1.1"/>
<line x1="180.7" y1="370.5" x2="180.7" y2="377" stroke="#23292b" stroke-width="1.1"/>
<line x1="196" y1="370.5" x2="196" y2="383" stroke="#23292b" stroke-width="1.1"/>
<text x="196" y="396.9" text-anchor="middle" font-family='"Liberation Sans", "DejaVu Sans", sans-serif' font-size="10.9" fill="#48585e" textLength="11.1" lengthAdjust="spacingAndGlyphs">80</text>
<line x1="211.3" y1="370.5" x2="211.3" y2="377" stroke="#23292b" stroke-width="1.1"/>
<line x1="226.6" y1="370.5" x2="226.6" y2="377" stroke="#23292b" stroke-width="1.1"/>
<line x1="241.8" y1="370.5" x2="241.8" y2="377" stroke="#23292b" stroke-width="1.1"/>
<line x1="257.1" y1="370.5" x2="257.1" y2="377" stroke="#23292b" stroke-width="1.1"/>
<line x1="272.4" y1="370.5" x2="272.4" y2="383" stroke="#23292b" stroke-width="1.1"/>
<text x="272.4" y="396.9" text-anchor="middle" font-family='"Liberation Sans", "DejaVu Sans", sans-serif' font-size="10.9" fill="#48585e" textLength="16.6" lengthAdjust="spacingAndGlyphs">120</text>
<line x1="287.7" y1="370.5" x2="287.7" y2="377" stroke="#23292b" stroke-width="1.1"/>
<line x1="303" y1="370.5" x2="303" y2="377" stroke="#23292b" stroke-width="1.1"/>
<line x1="318.3" y1="370.5" x2="318.3" y2="377" stroke="#23292b" stroke-width="1.1"/>
<line x1="333.6" y1="370.5" x2="333.6" y2="377" stroke="#23292b" stroke-width="1.1"/>
<line x1="348.9" y1="370.5" x2="348.9" y2="383" stroke="#23292b" stroke-width="1.1"/>
<text x="348.9" y="396.9" text-anchor="middle" font-family='"Liberation Sans", "DejaVu Sans", sans-serif' font-size="10.9" fill="#48585e" textLength="16.6" lengthAdjust="spacingAndGlyphs">160</text>
<line x1="364.1" y1="370.5" x2="364.1" y2="377" stroke="#23292b" stroke-width="1.1"/>
<line x1="379.4" y1="370.5" x2="379.4" y2="377" stroke="#23292b" stroke-width="1.1"/>
<text x="215" y="408.9" text-anchor="middle" font-family='"Liberation Sans", "DejaVu Sans", sans-serif' font-size="11.2" fill="#48585e" textLength="89.5" lengthAdjust="spacingAndGlyphs">Channels (FL2-A)</text>
<path d="M177.8 371.1 l4.7 10.8 h-9.4 z" fill="#0a0a0a"/>
<path d="M295.6 371.1 l4.7 10.8 h-9.4 z" fill="#0a0a0a"/>
<text x="215.6" y="57.3" font-family='"Liberation Serif", "DejaVu Serif", serif' font-weight="bold" font-size="22.6" fill="#111" stroke="#111" stroke-width="0.45" textLength="166" lengthAdjust="spacingAndGlyphs">Dip G1: 51.08%</text>
<text x="215.6" y="85.9" font-family='"Liberation Serif", "DejaVu Serif", serif' font-weight="bold" font-size="22.6" fill="#111" stroke="#111" stroke-width="0.45" textLength="154.3" lengthAdjust="spacingAndGlyphs">Dip S: 28.97 %</text>
<text x="215.6" y="114.5" font-family='"Liberation Serif", "DejaVu Serif", serif' font-weight="bold" font-size="22.6" fill="#111" stroke="#111" stroke-width="0.45" textLength="172.3" lengthAdjust="spacingAndGlyphs">Dip G2: 19.95 %</text>
</g>
<g id="panel-b">
<line x1="439.3" y1="36.9" x2="439.3" y2="371.5" stroke="#3b494f" stroke-width="1.3"/>
<line x1="428.3" y1="370.5" x2="439.3" y2="370.5" stroke="#222" stroke-width="1.6"/>
<text transform="translate(420 370.5) rotate(-90)" text-anchor="middle" font-family='"Liberation Sans", "DejaVu Sans", sans-serif' font-size="9.3" fill="#48585e" textLength="6.2" lengthAdjust="spacingAndGlyphs">0</text>
<line x1="433.3" y1="356.6" x2="439.3" y2="356.6" stroke="#3b494f" stroke-width="1.1"/>
<line x1="433.3" y1="342.7" x2="439.3" y2="342.7" stroke="#3b494f" stroke-width="1.1"/>
<line x1="433.3" y1="328.8" x2="439.3" y2="328.8" stroke="#3b494f" stroke-width="1.1"/>
<line x1="433.3" y1="314.9" x2="439.3" y2="314.9" stroke="#3b494f" stroke-width="1.1"/>
<line x1="428.3" y1="301" x2="439.3" y2="301" stroke="#3b494f" stroke-width="1.1"/>
<text transform="translate(420 301) rotate(-90)" text-anchor="middle" font-family='"Liberation Sans", "DejaVu Sans", sans-serif' font-size="9.3" fill="#48585e" textLength="18.5" lengthAdjust="spacingAndGlyphs">100</text>
<line x1="433.3" y1="287.1" x2="439.3" y2="287.1" stroke="#3b494f" stroke-width="1.1"/>
<line x1="433.3" y1="273.2" x2="439.3" y2="273.2" stroke="#3b494f" stroke-width="1.1"/>
<line x1="433.3" y1="259.3" x2="439.3" y2="259.3" stroke="#3b494f" stroke-width="1.1"/>
<line x1="433.3" y1="245.4" x2="439.3" y2="245.4" stroke="#3b494f" stroke-width="1.1"/>
<line x1="428.3" y1="231.5" x2="439.3" y2="231.5" stroke="#3b494f" stroke-width="1.1"/>
<text transform="translate(420 231.5) rotate(-90)" text-anchor="middle" font-family='"Liberation Sans", "DejaVu Sans", sans-serif' font-size="9.3" fill="#48585e" textLength="18.5" lengthAdjust="spacingAndGlyphs">200</text>
<line x1="433.3" y1="217.6" x2="439.3" y2="217.6" stroke="#3b494f" stroke-width="1.1"/>
<line x1="433.3" y1="203.7" x2="439.3" y2="203.7" stroke="#3b494f" stroke-width="1.1"/>
<line x1="433.3" y1="189.8" x2="439.3" y2="189.8" stroke="#3b494f" stroke-width="1.1"/>
<line x1="433.3" y1="175.9" x2="439.3" y2="175.9" stroke="#3b494f" stroke-width="1.1"/>
<line x1="428.3" y1="162" x2="439.3" y2="162" stroke="#3b494f" stroke-width="1.1"/>
<text transform="translate(420 162) rotate(-90)" text-anchor="middle" font-family='"Liberation Sans", "DejaVu Sans", sans-serif' font-size="9.3" fill="#48585e" textLength="18.5" lengthAdjust="spacingAndGlyphs">300</text>
<line x1="433.3" y1="148.1" x2="439.3" y2="148.1" stroke="#3b494f" stroke-width="1.1"/>
<line x1="433.3" y1="134.2" x2="439.3" y2="134.2" stroke="#3b494f" stroke-width="1.1"/>
<line x1="433.3" y1="120.3" x2="439.3" y2="120.3" stroke="#3b494f" stroke-width="1.1"/>
<line x1="433.3" y1="106.4" x2="439.3" y2="106.4" stroke="#3b494f" stroke-width="1.1"/>
<line x1="428.3" y1="92.5" x2="439.3" y2="92.5" stroke="#3b494f" stroke-width="1.1"/>
<text transform="translate(420 92.5) rotate(-90)" text-anchor="middle" font-family='"Liberation Sans", "DejaVu Sans", sans-serif' font-size="9.3" fill="#48585e" textLength="18.5" lengthAdjust="spacingAndGlyphs">400</text>
<line x1="433.3" y1="78.6" x2="439.3" y2="78.6" stroke="#3b494f" stroke-width="1.1"/>
<line x1="433.3" y1="64.7" x2="439.3" y2="64.7" stroke="#3b494f" stroke-width="1.1"/>
<line x1="433.3" y1="50.8" x2="439.3" y2="50.8" stroke="#3b494f" stroke-width="1.1"/>
<text transform="translate(410 204.7) rotate(-90)" text-anchor="middle" font-family='"Liberation Sans", "DejaVu Sans", sans-serif' font-size="9.4" font-weight="normal" stroke="#48585e" stroke-width="0.18" fill="#48585e" textLength="43" lengthAdjust="spacingAndGlyphs">Number</text>
<clipPath id="clipb"><path d="M566.9 370.4 L567.4 370.3 L567.9 370.3 L568.4 370.2 L568.8 370.1 L569.3 369.9 L569.8 369.8 L570.3 369.6 L570.8 369.4 L571.2 369.1 L571.7 368.7 L572.2 368.4 L572.7 367.9 L573.2 367.4 L573.6 366.9 L574.1 366.2 L574.6 365.6 L575.1 364.9 L575.5 364.1 L576 363.3 L576.5 362.5 L577 361.6 L577.5 360.8 L577.9 359.9 L578.4 359.1 L578.9 358.3 L579.4 357.5 L579.9 356.8 L580.3 356.1 L580.8 355.5 L581.3 354.9 L581.8 354.4 L582.3 354 L582.7 353.6 L583.2 353.2 L583.7 352.9 L584.2 352.7 L584.7 352.5 L585.1 352.3 L585.6 352.2 L586.1 352.1 L586.6 352 L587.1 351.9 L587.5 351.9 L588 351.8 L588.5 351.8 L589 351.8 L589.5 351.8 L589.9 351.8 L590.4 351.8 L590.9 351.7 L591.4 351.7 L591.9 351.7 L592.3 351.7 L592.8 351.7 L593.3 351.7 L593.8 351.7 L594.3 351.7 L594.7 351.7 L595.2 351.7 L595.7 351.7 L596.2 351.7 L596.7 351.7 L597.1 351.7 L597.6 351.7 L598.1 351.7 L598.6 351.7 L599.1 351.7 L599.5 351.7 L600 351.7 L600.5 351.7 L601 351.7 L601.5 351.7 L601.9 351.7 L602.4 351.7 L602.9 351.7 L603.4 351.7 L603.9 351.7 L604.3 351.7 L604.8 351.7 L605.3 351.7 L605.8 351.7 L606.3 351.7 L606.7 351.7 L607.2 351.7 L607.7 351.7 L608.2 351.7 L608.7 351.7 L609.1 351.7 L609.6 351.7 L610.1 351.7 L610.6 351.7 L611.1 351.7 L611.5 351.7 L612 351.7 L612.5 351.7 L613 351.7 L613.4 351.7 L613.9 351.7 L614.4 351.7 L614.9 351.7 L615.4 351.7 L615.8 351.7 L616.3 351.7 L616.8 351.7 L617.3 351.7 L617.8 351.7 L618.2 351.7 L618.7 351.7 L619.2 351.7 L619.7 351.7 L620.2 351.7 L620.6 351.7 L621.1 351.7 L621.6 351.7 L622.1 351.7 L622.6 351.7 L623 351.7 L623.5 351.7 L624 351.7 L624.5 351.7 L625 351.7 L625.4 351.7 L625.9 351.7 L626.4 351.7 L626.9 351.7 L627.4 351.7 L627.8 351.7 L628.3 351.7 L628.8 351.7 L629.3 351.7 L629.8 351.7 L630.2 351.7 L630.7 351.7 L631.2 351.7 L631.7 351.7 L632.2 351.7 L632.6 351.7 L633.1 351.7 L633.6 351.7 L634.1 351.7 L634.6 351.7 L635 351.7 L635.5 351.7 L636 351.7 L636.5 351.7 L637 351.7 L637.4 351.7 L637.9 351.7 L638.4 351.7 L638.9 351.7 L639.4 351.7 L639.8 351.7 L640.3 351.7 L640.8 351.7 L641.3 351.7 L641.8 351.7 L642.2 351.7 L642.7 351.7 L643.2 351.7 L643.7 351.7 L644.2 351.7 L644.6 351.7 L645.1 351.7 L645.6 351.7 L646.1 351.7 L646.6 351.7 L647 351.7 L647.5 351.7 L648 351.7 L648.5 351.7 L649 351.7 L649.4 351.7 L649.9 351.7 L650.4 351.7 L650.9 351.7 L651.3 351.7 L651.8 351.7 L652.3 351.7 L652.8 351.7 L653.3 351.7 L653.7 351.7 L654.2 351.7 L654.7 351.7 L655.2 351.7 L655.7 351.7 L656.1 351.7 L656.6 351.7 L657.1 351.7 L657.6 351.7 L658.1 351.7 L658.5 351.7 L659 351.7 L659.5 351.7 L660 351.7 L660.5 351.7 L660.9 351.7 L661.4 351.7 L661.9 351.7 L662.4 351.7 L662.9 351.7 L663.3 351.7 L663.8 351.7 L664.3 351.7 L664.8 351.7 L665.3 351.7 L665.7 351.7 L666.2 351.7 L666.7 351.7 L667.2 351.7 L667.7 351.7 L668.1 351.7 L668.6 351.7 L669.1 351.7 L669.6 351.7 L670.1 351.7 L670.5 351.7 L671 351.7 L671.5 351.7 L672 351.7 L672.5 351.7 L672.9 351.7 L673.4 351.7 L673.9 351.7 L674.4 351.7 L674.9 351.7 L675.3 351.7 L675.8 351.7 L676.3 351.7 L676.8 351.7 L677.3 351.8 L677.7 351.8 L678.2 351.8 L678.7 351.8 L679.2 351.8 L679.7 351.8 L680.1 351.8 L680.6 351.8 L681.1 351.8 L681.6 351.8 L682.1 351.8 L682.5 351.9 L683 351.9 L683.5 351.9 L684 351.9 L684.5 352 L684.9 352 L685.4 352.1 L685.9 352.1 L686.4 352.2 L686.9 352.3 L687.3 352.3 L687.8 352.4 L688.3 352.5 L688.8 352.6 L689.2 352.7 L689.7 352.9 L690.2 353 L690.7 353.2 L691.2 353.3 L691.6 353.5 L692.1 353.7 L692.6 353.9 L693.1 354.2 L693.6 354.4 L694 354.7 L694.5 355 L695 355.3 L695.5 355.6 L696 355.9 L696.4 356.3 L696.9 356.6 L697.4 357 L697.9 357.4 L698.4 357.8 L698.8 358.2 L699.3 358.6 L699.8 359.1 L700.3 359.5 L700.8 359.9 L701.2 360.4 L701.7 360.8 L702.2 361.3 L702.7 361.8 L703.2 362.2 L703.6 362.7 L704.1 363.1 L704.6 363.5 L705.1 364 L705.6 364.4 L706 364.8 L706.5 365.2 L707 365.5 L707.5 365.9 L708 366.3 L708.4 366.6 L708.9 366.9 L709.4 367.2 L709.9 367.5 L710.4 367.8 L710.8 368 L711.3 368.3 L711.8 368.5 L712.3 368.7 L712.8 368.9 L713.2 369 L713.7 369.2 L714.2 369.3 L714.7 369.5 L715.2 369.6 L715.6 369.7 L716.1 369.8 L716.6 369.9 L717.1 370 L717.6 370 L718 370.1 L718.5 370.2 L719 370.2 L719.5 370.2 L720 370.3 L720.4 370.3 L720.9 370.3 L721.4 370.4 L721.9 370.4 L721.9 370.5 L566.9 370.5 Z"/></clipPath>
<path d="M559.7 370.1 L560.2 369.7 L560.7 369.4 L561.2 369 L561.6 368.1 L562.1 367 L562.6 365.8 L563.1 363.3 L563.6 360.1 L564 356.9 L564.5 353.6 L565 350.1 L565.5 339 L566 327.8 L566.4 316.7 L566.9 305.6 L567.4 294.5 L567.9 283.4 L568.4 272.9 L568.8 262.4 L569.3 251.9 L569.8 241.4 L570.3 230.9 L570.8 220.4 L571.2 209.9 L571.7 199.3 L572.2 190.2 L572.7 182.7 L573.2 175.2 L573.6 167.7 L574.1 160.2 L574.6 153.1 L575.1 146.1 L575.5 139.1 L576 132.2 L576.5 125.2 L577 118.2 L577.5 116.8 L577.9 123.8 L578.4 130.8 L578.9 137.7 L579.4 144.7 L579.9 151.7 L580.3 158.7 L580.8 166.2 L581.3 173.7 L581.8 181.2 L582.3 188.7 L582.7 197.2 L583.2 207.8 L583.7 218.3 L584.2 228.8 L584.7 239.3 L585.1 249.8 L585.6 260.3 L586.1 270.8 L586.6 281.3 L587.1 292.3 L587.5 303.4 L588 314.5 L588.5 325.6 L589 336.7 L589.5 347.8 L589.9 353 L590.4 356.2 L590.9 359.5 L591.4 362.7 L591.9 365.6 L592.3 366.7 L592.8 367.9 L593.3 369 L593.8 369.3 L594.3 369.6 L594.7 370 L594.7 370.5 L559.7 370.5 Z" fill="#718181" stroke="#111" stroke-width="1.5" stroke-linejoin="round"/>
<path d="M671 370.2 L671.5 370.1 L672 370.1 L672.5 370 L672.9 369.9 L673.4 369.8 L673.9 369.8 L674.4 369.6 L674.9 369.5 L675.3 369.4 L675.8 369.2 L676.3 369.1 L676.8 368.9 L677.3 368.6 L677.7 368.4 L678.2 368.1 L678.7 367.9 L679.2 367.5 L679.7 367.2 L680.1 366.8 L680.6 366.4 L681.1 365.9 L681.6 365.5 L682.1 364.9 L682.5 364.4 L683 363.8 L683.5 363.1 L684 362.4 L684.5 361.7 L684.9 360.9 L685.4 360.1 L685.9 359.2 L686.4 358.3 L686.9 357.3 L687.3 356.3 L687.8 355.3 L688.3 354.2 L688.8 353.1 L689.2 351.9 L689.7 350.8 L690.2 349.5 L690.7 348.3 L691.2 347.1 L691.6 345.8 L692.1 344.6 L692.6 343.3 L693.1 342.1 L693.6 340.8 L694 339.6 L694.5 338.4 L695 337.3 L695.5 336.1 L696 335 L696.4 334 L696.9 333.1 L697.4 332.2 L697.9 331.3 L698.4 330.6 L698.8 329.9 L699.3 329.3 L699.8 328.8 L700.3 328.4 L700.8 328.1 L701.2 327.9 L701.7 327.8 L702.2 327.8 L702.7 327.9 L703.2 328 L703.6 328.3 L704.1 328.7 L704.6 329.2 L705.1 329.8 L705.6 330.4 L706 331.2 L706.5 332 L707 332.9 L707.5 333.8 L708 334.8 L708.4 335.9 L708.9 337 L709.4 338.2 L709.9 339.4 L710.4 340.6 L710.8 341.8 L711.3 343.1 L711.8 344.3 L712.3 345.6 L712.8 346.8 L713.2 348.1 L713.7 349.3 L714.2 350.5 L714.7 351.7 L715.2 352.9 L715.6 354 L716.1 355.1 L716.6 356.1 L717.1 357.1 L717.6 358.1 L718 359 L718.5 359.9 L719 360.7 L719.5 361.5 L720 362.3 L720.4 363 L720.9 363.6 L721.4 364.3 L721.9 364.8 L722.4 365.4 L722.8 365.9 L723.3 366.3 L723.8 366.7 L724.3 367.1 L724.8 367.5 L725.2 367.8 L725.7 368.1 L726.2 368.4 L726.7 368.6 L727.2 368.8 L727.6 369 L728.1 369.2 L728.6 369.4 L729.1 369.5 L729.5 369.6 L730 369.7 L730.5 369.8 L731 369.9 L731.5 370 L731.9 370.1 L732.4 370.1 L732.9 370.2 L732.9 370.5 L671 370.5 Z" fill="#718181" stroke="#111" stroke-width="1.5" stroke-linejoin="round"/>
<path d="M546.1 349.7 l19.5 20.8 M554.6 349.7 l19.5 20.8 M563.1 349.7 l19.5 20.8 M571.6 349.7 l19.5 20.8 M580.1 349.7 l19.5 20.8 M588.6 349.7 l19.5 20.8 M597.1 349.7 l19.5 20.8 M605.6 349.7 l19.5 20.8 M614.1 349.7 l19.5 20.8 M622.6 349.7 l19.5 20.8 M631.1 349.7 l19.5 20.8 M639.6 349.7 l19.5 20.8 M648.1 349.7 l19.5 20.8 M656.6 349.7 l19.5 20.8 M665.1 349.7 l19.5 20.8 M673.6 349.7 l19.5 20.8 M682.1 349.7 l19.5 20.8 M690.6 349.7 l19.5 20.8 M699.1 349.7 l19.5 20.8 M707.6 349.7 l19.5 20.8 M716.1 349.7 l19.5 20.8" stroke="#8f9797" stroke-width="0.65" fill="none" clip-path="url(#clipb)"/>
<path d="M567.9 370.3 L568.4 370.2 L568.8 370.1 L569.3 369.9 L569.8 369.8 L570.3 369.6 L570.8 369.4 L571.2 369.1 L571.7 368.7 L572.2 368.4 L572.7 367.9 L573.2 367.4 L573.6 366.9 L574.1 366.2 L574.6 365.6 L575.1 364.9 L575.5 364.1 L576 363.3 L576.5 362.5 L577 361.6 L577.5 360.8 L577.9 359.9 L578.4 359.1 L578.9 358.3 L579.4 357.5 L579.9 356.8 L580.3 356.1 L580.8 355.5 L581.3 354.9 L581.8 354.4 L582.3 354 L582.7 353.6 L583.2 353.2 L583.7 352.9 L584.2 352.7 L584.7 352.5 L585.1 352.3 L585.6 352.2 L586.1 352.1 L586.6 352 L587.1 351.9 L587.5 351.9 L588 351.8 L588.5 351.8 L589 351.8 L589.5 351.8 L589.9 353 L590.4 356.2 L590.9 359.5 L591.4 362.7 L591.9 365.6 L592.3 366.7 L592.8 367.9 L593.3 369 L593.8 369.3 L594.3 369.6 L594.7 370 L594.7 370.5 L567.9 370.5 Z" fill="#465454" fill-opacity="0.45" stroke="none"/>
<path d="M670.1 370.3 L670.5 370.2 L671 370.2 L671.5 370.1 L672 370.1 L672.5 370 L672.9 369.9 L673.4 369.8 L673.9 369.8 L674.4 369.6 L674.9 369.5 L675.3 369.4 L675.8 369.2 L676.3 369.1 L676.8 368.9 L677.3 368.6 L677.7 368.4 L678.2 368.1 L678.7 367.9 L679.2 367.5 L679.7 367.2 L680.1 366.8 L680.6 366.4 L681.1 365.9 L681.6 365.5 L682.1 364.9 L682.5 364.4 L683 363.8 L683.5 363.1 L684 362.4 L684.5 361.7 L684.9 360.9 L685.4 360.1 L685.9 359.2 L686.4 358.3 L686.9 357.3 L687.3 356.3 L687.8 355.3 L688.3 354.2 L688.8 353.1 L689.2 352.7 L689.7 352.9 L690.2 353 L690.7 353.2 L691.2 353.3 L691.6 353.5 L692.1 353.7 L692.6 353.9 L693.1 354.2 L693.6 354.4 L694 354.7 L694.5 355 L695 355.3 L695.5 355.6 L696 355.9 L696.4 356.3 L696.9 356.6 L697.4 357 L697.9 357.4 L698.4 357.8 L698.8 358.2 L699.3 358.6 L699.8 359.1 L700.3 359.5 L700.8 359.9 L701.2 360.4 L701.7 360.8 L702.2 361.3 L702.7 361.8 L703.2 362.2 L703.6 362.7 L704.1 363.1 L704.6 363.5 L705.1 364 L705.6 364.4 L706 364.8 L706.5 365.2 L707 365.5 L707.5 365.9 L708 366.3 L708.4 366.6 L708.9 366.9 L709.4 367.2 L709.9 367.5 L710.4 367.8 L710.8 368 L711.3 368.3 L711.8 368.5 L712.3 368.7 L712.8 368.9 L713.2 369 L713.7 369.2 L714.2 369.3 L714.7 369.5 L715.2 369.6 L715.6 369.7 L716.1 369.8 L716.6 369.9 L717.1 370 L717.6 370 L718 370.1 L718.5 370.2 L719 370.2 L719.5 370.2 L720 370.3 L720 370.5 L670.1 370.5 Z" fill="#465454" fill-opacity="0.45" stroke="none"/>
<path d="M566.9 370.4 L567.4 370.3 L567.9 370.3 L568.4 370.2 L568.8 370.1 L569.3 369.9 L569.8 369.8 L570.3 369.6 L570.8 369.4 L571.2 369.1 L571.7 368.7 L572.2 368.4 L572.7 367.9 L573.2 367.4 L573.6 366.9 L574.1 366.2 L574.6 365.6 L575.1 364.9 L575.5 364.1 L576 363.3 L576.5 362.5 L577 361.6 L577.5 360.8 L577.9 359.9 L578.4 359.1 L578.9 358.3 L579.4 357.5 L579.9 356.8 L580.3 356.1 L580.8 355.5 L581.3 354.9 L581.8 354.4 L582.3 354 L582.7 353.6 L583.2 353.2 L583.7 352.9 L584.2 352.7 L584.7 352.5 L585.1 352.3 L585.6 352.2 L586.1 352.1 L586.6 352 L587.1 351.9 L587.5 351.9 L588 351.8 L588.5 351.8 L589 351.8 L589.5 351.8 L589.9 351.8 L590.4 351.8 L590.9 351.7 L591.4 351.7 L591.9 351.7 L592.3 351.7 L592.8 351.7 L593.3 351.7 L593.8 351.7 L594.3 351.7 L594.7 351.7 L595.2 351.7 L595.7 351.7 L596.2 351.7 L596.7 351.7 L597.1 351.7 L597.6 351.7 L598.1 351.7 L598.6 351.7 L599.1 351.7 L599.5 351.7 L600 351.7 L600.5 351.7 L601 351.7 L601.5 351.7 L601.9 351.7 L602.4 351.7 L602.9 351.7 L603.4 351.7 L603.9 351.7 L604.3 351.7 L604.8 351.7 L605.3 351.7 L605.8 351.7 L606.3 351.7 L606.7 351.7 L607.2 351.7 L607.7 351.7 L608.2 351.7 L608.7 351.7 L609.1 351.7 L609.6 351.7 L610.1 351.7 L610.6 351.7 L611.1 351.7 L611.5 351.7 L612 351.7 L612.5 351.7 L613 351.7 L613.4 351.7 L613.9 351.7 L614.4 351.7 L614.9 351.7 L615.4 351.7 L615.8 351.7 L616.3 351.7 L616.8 351.7 L617.3 351.7 L617.8 351.7 L618.2 351.7 L618.7 351.7 L619.2 351.7 L619.7 351.7 L620.2 351.7 L620.6 351.7 L621.1 351.7 L621.6 351.7 L622.1 351.7 L622.6 351.7 L623 351.7 L623.5 351.7 L624 351.7 L624.5 351.7 L625 351.7 L625.4 351.7 L625.9 351.7 L626.4 351.7 L626.9 351.7 L627.4 351.7 L627.8 351.7 L628.3 351.7 L628.8 351.7 L629.3 351.7 L629.8 351.7 L630.2 351.7 L630.7 351.7 L631.2 351.7 L631.7 351.7 L632.2 351.7 L632.6 351.7 L633.1 351.7 L633.6 351.7 L634.1 351.7 L634.6 351.7 L635 351.7 L635.5 351.7 L636 351.7 L636.5 351.7 L637 351.7 L637.4 351.7 L637.9 351.7 L638.4 351.7 L638.9 351.7 L639.4 351.7 L639.8 351.7 L640.3 351.7 L640.8 351.7 L641.3 351.7 L641.8 351.7 L642.2 351.7 L642.7 351.7 L643.2 351.7 L643.7 351.7 L644.2 351.7 L644.6 351.7 L645.1 351.7 L645.6 351.7 L646.1 351.7 L646.6 351.7 L647 351.7 L647.5 351.7 L648 351.7 L648.5 351.7 L649 351.7 L649.4 351.7 L649.9 351.7 L650.4 351.7 L650.9 351.7 L651.3 351.7 L651.8 351.7 L652.3 351.7 L652.8 351.7 L653.3 351.7 L653.7 351.7 L654.2 351.7 L654.7 351.7 L655.2 351.7 L655.7 351.7 L656.1 351.7 L656.6 351.7 L657.1 351.7 L657.6 351.7 L658.1 351.7 L658.5 351.7 L659 351.7 L659.5 351.7 L660 351.7 L660.5 351.7 L660.9 351.7 L661.4 351.7 L661.9 351.7 L662.4 351.7 L662.9 351.7 L663.3 351.7 L663.8 351.7 L664.3 351.7 L664.8 351.7 L665.3 351.7 L665.7 351.7 L666.2 351.7 L666.7 351.7 L667.2 351.7 L667.7 351.7 L668.1 351.7 L668.6 351.7 L669.1 351.7 L669.6 351.7 L670.1 351.7 L670.5 351.7 L671 351.7 L671.5 351.7 L672 351.7 L672.5 351.7 L672.9 351.7 L673.4 351.7 L673.9 351.7 L674.4 351.7 L674.9 351.7 L675.3 351.7 L675.8 351.7 L676.3 351.7 L676.8 351.7 L677.3 351.8 L677.7 351.8 L678.2 351.8 L678.7 351.8 L679.2 351.8 L679.7 351.8 L680.1 351.8 L680.6 351.8 L681.1 351.8 L681.6 351.8 L682.1 351.8 L682.5 351.9 L683 351.9 L683.5 351.9 L684 351.9 L684.5 352 L684.9 352 L685.4 352.1 L685.9 352.1 L686.4 352.2 L686.9 352.3 L687.3 352.3 L687.8 352.4 L688.3 352.5 L688.8 352.6 L689.2 352.7 L689.7 352.9 L690.2 353 L690.7 353.2 L691.2 353.3 L691.6 353.5 L692.1 353.7 L692.6 353.9 L693.1 354.2 L693.6 354.4 L694 354.7 L694.5 355 L695 355.3 L695.5 355.6 L696 355.9 L696.4 356.3 L696.9 356.6 L697.4 357 L697.9 357.4 L698.4 357.8 L698.8 358.2 L699.3 358.6 L699.8 359.1 L700.3 359.5 L700.8 359.9 L701.2 360.4 L701.7 360.8 L702.2 361.3 L702.7 361.8 L703.2 362.2 L703.6 362.7 L704.1 363.1 L704.6 363.5 L705.1 364 L705.6 364.4 L706 364.8 L706.5 365.2 L707 365.5 L707.5 365.9 L708 366.3 L708.4 366.6 L708.9 366.9 L709.4 367.2 L709.9 367.5 L710.4 367.8 L710.8 368 L711.3 368.3 L711.8 368.5 L712.3 368.7 L712.8 368.9 L713.2 369 L713.7 369.2 L714.2 369.3 L714.7 369.5 L715.2 369.6 L715.6 369.7 L716.1 369.8 L716.6 369.9 L717.1 370 L717.6 370 L718 370.1 L718.5 370.2 L719 370.2 L719.5 370.2 L720 370.3 L720.4 370.3 L720.9 370.3 L721.4 370.4 L721.9 370.4" fill="none" stroke="#1c1c1c" stroke-width="1.25"/>
<path d="M557.3 370.5 L557.8 370.5 L558.3 370.5 L558.8 370.5 L559.2 370.4 L559.7 370.1 L560.2 369.7 L560.7 369.4 L561.2 369 L561.6 368.1 L562.1 366.9 L562.6 365.8 L563.1 363.3 L563.6 360.1 L564 356.8 L564.5 353.6 L565 350 L565.5 338.9 L566 327.8 L566.4 316.6 L566.9 305.5 L567.4 294.3 L567.9 283.1 L568.4 272.5 L568.8 261.9 L569.3 251.3 L569.8 240.6 L570.3 229.9 L570.8 219.2 L571.2 208.4 L571.7 197.6 L572.2 188.1 L572.7 180.1 L573.2 172.1 L573.6 164.1 L574.1 156 L574.6 148 L575.1 139.5 L575.5 129.2 L576 115.7 L576.5 99.4 L577 84.4 L577.5 81.3 L577.9 93.7 L578.4 108.5 L578.9 121.1 L579.4 130.4 L579.9 137.7 L580.3 144.3 L580.8 151.2 L581.3 158.1 L581.8 165.1 L582.3 172.2 L582.7 180.3 L583.2 190.5 L583.7 200.7 L584.2 210.9 L584.7 221.2 L585.1 228.4 L585.6 234.7 L586.1 241 L586.6 247.3 L587.1 253.5 L587.5 259.6 L588 265.8 L588.5 272 L589 277.7 L589.5 282.9 L589.9 288.6 L590.4 294.1 L590.9 299.3 L591.4 304.5 L591.9 309.1 L592.3 313.7 L592.8 315.7 L593.3 316.9 L593.8 317.9 L594.3 319 L594.7 320.3 L595.2 322.1 L595.7 324 L596.2 325.6 L596.7 327.3 L597.1 329.5 L597.6 331.7 L598.1 333.9 L598.6 335.9 L599.1 337.6 L599.5 338.5 L600 339.3 L600.5 339.2 L601 338.8 L601.5 338.5 L601.9 337.8 L602.4 337 L602.9 336.2 L603.4 335.3 L603.9 335.6 L604.3 334.8 L604.8 333.7 L605.3 333.7 L605.8 335.2 L606.3 336.8 L606.7 338.5 L607.2 338.5 L607.7 338 L608.2 337.5 L608.7 335.8 L609.1 336.5 L609.6 337.8 L610.1 339.1 L610.6 341.6 L611.1 344.7 L611.5 346.8 L612 348.1 L612.5 347 L613 346 L613.4 344.9 L613.9 344.1 L614.4 344.2 L614.9 346.1 L615.4 348.1 L615.8 349 L616.3 349.6 L616.8 350.2 L617.3 351.2 L617.8 352 L618.2 352.5 L618.7 352.9 L619.2 353.1 L619.7 353 L620.2 352.7 L620.6 352.5 L621.1 352.3 L621.6 352.1 L622.1 352 L622.6 351.8 L623 351.6 L623.5 351.5 L624 351 L624.5 350.5 L625 350 L625.4 349.5 L625.9 349 L626.4 348.5 L626.9 348.9 L627.4 349.8 L627.8 350.6 L628.3 351.4 L628.8 352.3 L629.3 353.1 L629.8 353.9 L630.2 354 L630.7 354.1 L631.2 354.1 L631.7 354.2 L632.2 354.3 L632.6 354.3 L633.1 353.6 L633.6 352.8 L634.1 351.9 L634.6 351 L635 350.1 L635.5 349.2 L636 348.7 L636.5 348.8 L637 348.8 L637.4 348.9 L637.9 349 L638.4 349.4 L638.9 349.8 L639.4 350.3 L639.8 350.8 L640.3 351.3 L640.8 351.8 L641.3 352.3 L641.8 352.9 L642.2 353.1 L642.7 353.1 L643.2 353 L643.7 353 L644.2 353 L644.6 353 L645.1 353.1 L645.6 353.8 L646.1 354.4 L646.6 355 L647 355 L647.5 355 L648 354.9 L648.5 354.1 L649 353.1 L649.4 352.2 L649.9 351.2 L650.4 350.2 L650.9 349.2 L651.3 349 L651.8 349.8 L652.3 350.7 L652.8 351.5 L653.3 352.4 L653.7 353.2 L654.2 354.1 L654.7 352.9 L655.2 351.8 L655.7 351.2 L656.1 350.6 L656.6 350.1 L657.1 349.5 L657.6 349.2 L658.1 349 L658.5 348.8 L659 348.6 L659.5 348.5 L660 348.3 L660.5 348.4 L660.9 349.8 L661.4 351.3 L661.9 352.7 L662.4 354.1 L662.9 355.6 L663.3 357 L663.8 357 L664.3 356.4 L664.8 355.7 L665.3 355.1 L665.7 354.5 L666.2 353.8 L666.7 353.6 L667.2 354 L667.7 354.3 L668.1 354.7 L668.6 355.1 L669.1 355.4 L669.6 355.8 L670.1 355.5 L670.5 355.2 L671 354.8 L671.5 354.5 L672 354.2 L672.5 353.8 L672.9 354.3 L673.4 355.2 L673.9 356.1 L674.4 357 L674.9 357.8 L675.3 358.6 L675.8 359.2 L676.3 359.2 L676.8 359.2 L677.3 359.2 L677.7 359.1 L678.2 359 L678.7 358.9 L679.2 357.6 L679.7 355.9 L680.1 354.1 L680.6 352.3 L681.1 350.5 L681.6 348.2 L682.1 346.6 L682.5 346.2 L683 345.8 L683.5 345.4 L684 344.9 L684.5 344.3 L684.9 343.7 L685.4 342.2 L685.9 340.6 L686.4 339 L686.9 337.4 L687.3 335.8 L687.8 334.2 L688.3 332.6 L688.8 331 L689.2 329.3 L689.7 327.5 L690.2 325.9 L690.7 324.1 L691.2 322 L691.6 320.1 L692.1 317.6 L692.6 314.6 L693.1 311.2 L693.6 307.7 L694 304.3 L694.5 301.1 L695 298.7 L695.5 297.6 L696 297.9 L696.4 299.3 L696.9 301.8 L697.4 305 L697.9 308.6 L698.4 312.1 L698.8 315.1 L699.3 317.6 L699.8 319.6 L700.3 321.3 L700.8 321 L701.2 320.5 L701.7 319.9 L702.2 319.3 L702.7 318.8 L703.2 318.2 L703.6 318.5 L704.1 319.2 L704.6 320.1 L705.1 321 L705.6 322 L706 323.1 L706.5 324.3 L707 325.8 L707.5 327.3 L708 328.8 L708.4 330.4 L708.9 332.1 L709.4 333.7 L709.9 335 L710.4 336.2 L710.8 337.4 L711.3 338.6 L711.8 339.8 L712.3 341 L712.8 342.4 L713.2 344.3 L713.7 346.1 L714.2 347.9 L714.7 349.7 L715.2 351.4 L715.6 353.1 L716.1 353.9 L716.6 354.7 L717.1 355.4 L717.6 356.1 L718 356.7 L718.5 357.3 L719 358.4 L719.5 359.9 L720 361.3 L720.4 362.7 L720.9 363.9 L721.4 365 L721.9 365.5 L722.4 364.3 L722.8 363 L723.3 361.7 L723.8 360.3 L724.3 359 L724.8 358.2 L725.2 359 L725.7 360.4 L726.2 361.8 L726.7 363.4 L727.2 365 L727.6 366.6 L728.1 367.8 L728.6 368.2 L729.1 368.6 L729.5 368.9 L730 369.1 L730.5 369.2 L731 369.1 L731.5 369.4 L731.9 369.6 L732.4 369.7 L732.9 369.7 L733.4 369.7 L733.9 369.6 L734.3 369.1 L734.8 368.4 L735.3 367.8 L735.8 367.3 L736.3 367 L736.7 366.9 L737.2 367 L737.7 367.5 L738.2 368 L738.7 368.4 L739.1 368.9 L739.6 369.2 L740.1 369.4 L740.6 369.6 L741.1 369.8 L741.5 369.8 L742 369.5 L742.5 369.2 L743 369 L743.5 368.9 L743.9 369.1 L744.4 369.4 L744.9 369.7 L745.4 370.1 L745.9 370.4 L746.3 370.5 L746.8 370.5 L747.3 370.5 L747.8 370.5" fill="none" stroke="#20282a" stroke-width="1.3" stroke-linejoin="round"/>
<path d="M559.7 370.1 L560.2 369.7 L560.7 369.4 L561.2 369 L561.6 368.1 L562.1 366.9 L562.6 365.8 L563.1 363.3 L563.6 360.1 L564 356.8 L564.5 353.6 L565 350 L565.5 338.9 L566 327.8 L566.4 316.6 L566.9 305.5 L567.4 294.3 L567.9 283.1 L568.4 272.5 L568.8 261.9 L569.3 251.3 L569.8 240.6 L570.3 229.9 L570.8 219.2 L571.2 208.4 L571.7 197.6 L572.2 188.1 L572.7 180.1 L573.2 172.1 L573.6 164.1 L574.1 156 L574.6 148.2 L575.1 140.5 L575.5 132.7 L576 125 L576.5 117.2 L577 109.4 L577.5 107.1 L577.9 113.2 L578.4 119.4 L578.9 125.5 L579.4 131.7 L579.9 138 L580.3 144.4 L580.8 151.2 L581.3 158.1 L581.8 165.1 L582.3 172.2 L582.7 180.3 L583.2 190.5 L583.7 200.7 L584.2 210.9 L584.7 221.2 L585.1 231.6 L585.6 242 L586.1 252.3 L586.6 262.8 L587.1 273.7 L587.5 284.8 L588 295.8 L588.5 306.9 L589 318 L589.5 329.1 L589.9 334.2 L590.4 337.5 L590.9 340.7 L591.4 343.9 L591.9 346.8 L592.3 348 L592.8 349.1 L593.3 350.2 L593.8 350.5 L594.3 350.9 L594.7 351.2 L595.2 351.6 L595.7 351.7 L596.2 351.7 L596.7 351.7 L597.1 351.7 L597.6 351.7 L598.1 351.7 L598.6 351.7 L599.1 351.7 L599.5 351.7 L600 351.7 L600.5 351.7 L601 351.7 L601.5 351.7 L601.9 351.7 L602.4 351.7 L602.9 351.7 L603.4 351.7 L603.9 351.7 L604.3 351.7 L604.8 351.7 L605.3 351.7 L605.8 351.7 L606.3 351.7 L606.7 351.7 L607.2 351.7 L607.7 351.7 L608.2 351.7 L608.7 351.7 L609.1 351.7 L609.6 351.7 L610.1 351.7 L610.6 351.7 L611.1 351.7 L611.5 351.7 L612 351.7 L612.5 351.7 L613 351.7 L613.4 351.7 L613.9 351.7 L614.4 351.7 L614.9 351.7 L615.4 351.7 L615.8 351.7 L616.3 351.7 L616.8 351.7 L617.3 351.7 L617.8 351.7 L618.2 351.7 L618.7 351.7 L619.2 351.7 L619.7 351.7 L620.2 351.7 L620.6 351.7 L621.1 351.7 L621.6 351.7 L622.1 351.7 L622.6 351.7 L623 351.7 L623.5 351.7 L624 351.7 L624.5 351.7 L625 351.7 L625.4 351.7 L625.9 351.7 L626.4 351.7 L626.9 351.7 L627.4 351.7 L627.8 351.7 L628.3 351.7 L628.8 351.7 L629.3 351.7 L629.8 351.7 L630.2 351.7 L630.7 351.7 L631.2 351.7 L631.7 351.7 L632.2 351.7 L632.6 351.7 L633.1 351.7 L633.6 351.7 L634.1 351.7 L634.6 351.7 L635 351.7 L635.5 351.7 L636 351.7 L636.5 351.7 L637 351.7 L637.4 351.7 L637.9 351.7 L638.4 351.7 L638.9 351.7 L639.4 351.7 L639.8 351.7 L640.3 351.7 L640.8 351.7 L641.3 351.7 L641.8 351.7 L642.2 351.7 L642.7 351.7 L643.2 351.7 L643.7 351.7 L644.2 351.7 L644.6 351.7 L645.1 351.7 L645.6 351.7 L646.1 351.7 L646.6 351.7 L647 351.7 L647.5 351.7 L648 351.7 L648.5 351.7 L649 351.7 L649.4 351.7 L649.9 351.7 L650.4 351.7 L650.9 351.7 L651.3 351.7 L651.8 351.7 L652.3 351.7 L652.8 351.7 L653.3 351.7 L653.7 351.7 L654.2 351.7 L654.7 351.7 L655.2 351.7 L655.7 351.7 L656.1 351.7 L656.6 351.7 L657.1 351.7 L657.6 351.7 L658.1 351.7 L658.5 351.7 L659 351.7 L659.5 351.7 L660 351.7 L660.5 351.7 L660.9 351.7 L661.4 351.7 L661.9 351.7 L662.4 351.7 L662.9 351.7 L663.3 351.7 L663.8 351.7 L664.3 351.7 L664.8 351.7 L665.3 351.7 L665.7 351.7 L666.2 351.7 L666.7 351.7 L667.2 351.6 L667.7 351.6 L668.1 351.6 L668.6 351.6 L669.1 351.6 L669.6 351.5 L670.1 351.5 L670.5 351.5 L671 351.4 L671.5 351.4 L672 351.3 L672.5 351.2 L672.9 351.2 L673.4 351.1 L673.9 351 L674.4 350.9 L674.9 350.8 L675.3 350.6 L675.8 350.5 L676.3 350.3 L676.8 350.1 L677.3 349.9 L677.7 349.7 L678.2 349.4 L678.7 349.1 L679.2 348.8 L679.7 348.5 L680.1 348.1 L680.6 347.7 L681.1 347.3 L681.6 346.8 L682.1 346.3 L682.5 345.7 L683 345.2 L683.5 344.5 L684 343.9 L684.5 343.2 L684.9 342.4 L685.4 341.6 L685.9 340.8 L686.4 340 L686.9 339.1 L687.3 338.1 L687.8 337.2 L688.3 336.2 L688.8 335.2 L689.2 334.2 L689.7 333.1 L690.2 332.1 L690.7 331 L691.2 329.9 L691.6 328.9 L692.1 327.8 L692.6 326.8 L693.1 325.7 L693.6 324.7 L694 323.8 L694.5 322.9 L695 322 L695.5 321.2 L696 320.5 L696.4 319.8 L696.9 319.2 L697.4 318.6 L697.9 318.2 L698.4 317.9 L698.8 317.6 L699.3 317.4 L699.8 317.4 L700.3 317.4 L700.8 317.5 L701.2 317.8 L701.7 318.1 L702.2 318.6 L702.7 319.1 L703.2 319.8 L703.6 320.5 L704.1 321.3 L704.6 322.2 L705.1 323.2 L705.6 324.3 L706 325.4 L706.5 326.7 L707 327.9 L707.5 329.2 L708 330.6 L708.4 332 L708.9 333.4 L709.4 334.9 L709.9 336.4 L710.4 337.9 L710.8 339.3 L711.3 340.8 L711.8 342.3 L712.3 343.8 L712.8 345.2 L713.2 346.6 L713.7 348 L714.2 349.4 L714.7 350.7 L715.2 351.9 L715.6 353.2 L716.1 354.4 L716.6 355.5 L717.1 356.6 L717.6 357.6 L718 358.6 L718.5 359.6 L719 360.4 L719.5 361.3 L720 362.1 L720.4 362.8 L720.9 363.5 L721.4 364.1 L721.9 364.7 L722.4 365.3 L722.8 365.8 L723.3 366.2 L723.8 366.7 L724.3 367.1 L724.8 367.4 L725.2 367.8 L725.7 368.1 L726.2 368.3 L726.7 368.6 L727.2 368.8 L727.6 369 L728.1 369.2 L728.6 369.3 L729.1 369.5 L729.5 369.6 L730 369.7 L730.5 369.8 L731 369.9 L731.5 370 L731.9 370.1 L732.4 370.1 L732.9 370.2 L733.4 370.2 L733.9 370.3 L734.3 370.3" fill="none" stroke="#0c0c0c" stroke-width="2.5" stroke-linejoin="round"/>
<line x1="438.7" y1="370.5" x2="786.2" y2="370.5" stroke="#0a0a0a" stroke-width="2.2"/>
<line x1="439.3" y1="370.5" x2="439.3" y2="383" stroke="#23292b" stroke-width="1.1"/>
<text x="439.3" y="396.9" text-anchor="middle" font-family='"Liberation Sans", "DejaVu Sans", sans-serif' font-size="10.9" fill="#48585e" textLength="5.5" lengthAdjust="spacingAndGlyphs">0</text>
<line x1="454.7" y1="370.5" x2="454.7" y2="377" stroke="#23292b" stroke-width="1.1"/>
<line x1="470" y1="370.5" x2="470" y2="377" stroke="#23292b" stroke-width="1.1"/>
<line x1="485.4" y1="370.5" x2="485.4" y2="377" stroke="#23292b" stroke-width="1.1"/>
<line x1="500.7" y1="370.5" x2="500.7" y2="377" stroke="#23292b" stroke-width="1.1"/>
<line x1="516.1" y1="370.5" x2="516.1" y2="383" stroke="#23292b" stroke-width="1.1"/>
<text x="516.1" y="396.9" text-anchor="middle" font-family='"Liberation Sans", "DejaVu Sans", sans-serif' font-size="10.9" fill="#48585e" textLength="11.1" lengthAdjust="spacingAndGlyphs">40</text>
<line x1="531.4" y1="370.5" x2="531.4" y2="377" stroke="#23292b" stroke-width="1.1"/>
<line x1="546.8" y1="370.5" x2="546.8" y2="377" stroke="#23292b" stroke-width="1.1"/>
<line x1="562.1" y1="370.5" x2="562.1" y2="377" stroke="#23292b" stroke-width="1.1"/>
<line x1="577.5" y1="370.5" x2="577.5" y2="377" stroke="#23292b" stroke-width="1.1"/>
<line x1="592.8" y1="370.5" x2="592.8" y2="383" stroke="#23292b" stroke-width="1.1"/>
<text x="592.8" y="396.9" text-anchor="middle" font-family='"Liberation Sans", "DejaVu Sans", sans-serif' font-size="10.9" fill="#48585e" textLength="11.1" lengthAdjust="spacingAndGlyphs">80</text>
<line x1="608.2" y1="370.5" x2="608.2" y2="377" stroke="#23292b" stroke-width="1.1"/>
<line x1="623.5" y1="370.5" x2="623.5" y2="377" stroke="#23292b" stroke-width="1.1"/>
<line x1="638.9" y1="370.5" x2="638.9" y2="377" stroke="#23292b" stroke-width="1.1"/>
<line x1="654.2" y1="370.5" x2="654.2" y2="377" stroke="#23292b" stroke-width="1.1"/>
<line x1="669.6" y1="370.5" x2="669.6" y2="383" stroke="#23292b" stroke-width="1.1"/>
<text x="669.6" y="396.9" text-anchor="middle" font-family='"Liberation Sans", "DejaVu Sans", sans-serif' font-size="10.9" fill="#48585e" textLength="16.6" lengthAdjust="spacingAndGlyphs">120</text>
<line x1="684.9" y1="370.5" x2="684.9" y2="377" stroke="#23292b" stroke-width="1.1"/>
<line x1="700.3" y1="370.5" x2="700.3" y2="377" stroke="#23292b" stroke-width="1.1"/>
<line x1="715.6" y1="370.5" x2="715.6" y2="377" stroke="#23292b" stroke-width="1.1"/>
<line x1="731" y1="370.5" x2="731" y2="377" stroke="#23292b" stroke-width="1.1"/>
<line x1="746.3" y1="370.5" x2="746.3" y2="383" stroke="#23292b" stroke-width="1.1"/>
<text x="746.3" y="396.9" text-anchor="middle" font-family='"Liberation Sans", "DejaVu Sans", sans-serif' font-size="10.9" fill="#48585e" textLength="16.6" lengthAdjust="spacingAndGlyphs">160</text>
<line x1="761.7" y1="370.5" x2="761.7" y2="377" stroke="#23292b" stroke-width="1.1"/>
<line x1="777" y1="370.5" x2="777" y2="377" stroke="#23292b" stroke-width="1.1"/>
<text x="611" y="408.9" text-anchor="middle" font-family='"Liberation Sans", "DejaVu Sans", sans-serif' font-size="11.2" fill="#48585e" textLength="89.5" lengthAdjust="spacingAndGlyphs">Channels (FL2-A)</text>
<path d="M576.4 371.1 l4.7 10.8 h-9.4 z" fill="#0a0a0a"/>
<path d="M695 371.1 l4.7 10.8 h-9.4 z" fill="#0a0a0a"/>
<text x="611.9" y="57.3" font-family='"Liberation Serif", "DejaVu Serif", serif' font-weight="bold" font-size="22.6" fill="#111" stroke="#111" stroke-width="0.45" textLength="168.6" lengthAdjust="spacingAndGlyphs">Dip G1: 55.49%</text>
<text x="611.9" y="85.9" font-family='"Liberation Serif", "DejaVu Serif", serif' font-weight="bold" font-size="22.6" fill="#111" stroke="#111" stroke-width="0.45" textLength="156.5" lengthAdjust="spacingAndGlyphs">Dip S: 24.74 %</text>
<text x="611.9" y="114.5" font-family='"Liberation Serif", "DejaVu Serif", serif' font-weight="bold" font-size="22.6" fill="#111" stroke="#111" stroke-width="0.45" textLength="174.9" lengthAdjust="spacingAndGlyphs">Dip G2: 19.77 %</text>
</g>
<g id="panel-c">
<line x1="42.6" y1="442.9" x2="42.6" y2="780.4" stroke="#3b494f" stroke-width="1.3"/>
<line x1="31.6" y1="779.4" x2="42.6" y2="779.4" stroke="#222" stroke-width="1.6"/>
<text transform="translate(23.3 779.4) rotate(-90)" text-anchor="middle" font-family='"Liberation Sans", "DejaVu Sans", sans-serif' font-size="9.3" fill="#48585e" textLength="6.2" lengthAdjust="spacingAndGlyphs">0</text>
<line x1="36.6" y1="765.9" x2="42.6" y2="765.9" stroke="#3b494f" stroke-width="1.1"/>
<line x1="36.6" y1="752.5" x2="42.6" y2="752.5" stroke="#3b494f" stroke-width="1.1"/>
<line x1="36.6" y1="739" x2="42.6" y2="739" stroke="#3b494f" stroke-width="1.1"/>
<line x1="36.6" y1="725.6" x2="42.6" y2="725.6" stroke="#3b494f" stroke-width="1.1"/>
<line x1="31.6" y1="712.1" x2="42.6" y2="712.1" stroke="#3b494f" stroke-width="1.1"/>
<text transform="translate(23.3 712.1) rotate(-90)" text-anchor="middle" font-family='"Liberation Sans", "DejaVu Sans", sans-serif' font-size="9.3" fill="#48585e" textLength="18.5" lengthAdjust="spacingAndGlyphs">100</text>
<line x1="36.6" y1="698.6" x2="42.6" y2="698.6" stroke="#3b494f" stroke-width="1.1"/>
<line x1="36.6" y1="685.2" x2="42.6" y2="685.2" stroke="#3b494f" stroke-width="1.1"/>
<line x1="36.6" y1="671.7" x2="42.6" y2="671.7" stroke="#3b494f" stroke-width="1.1"/>
<line x1="36.6" y1="658.3" x2="42.6" y2="658.3" stroke="#3b494f" stroke-width="1.1"/>
<line x1="31.6" y1="644.8" x2="42.6" y2="644.8" stroke="#3b494f" stroke-width="1.1"/>
<text transform="translate(23.3 644.8) rotate(-90)" text-anchor="middle" font-family='"Liberation Sans", "DejaVu Sans", sans-serif' font-size="9.3" fill="#48585e" textLength="18.5" lengthAdjust="spacingAndGlyphs">200</text>
<line x1="36.6" y1="631.3" x2="42.6" y2="631.3" stroke="#3b494f" stroke-width="1.1"/>
<line x1="36.6" y1="617.9" x2="42.6" y2="617.9" stroke="#3b494f" stroke-width="1.1"/>
<line x1="36.6" y1="604.4" x2="42.6" y2="604.4" stroke="#3b494f" stroke-width="1.1"/>
<line x1="36.6" y1="591" x2="42.6" y2="591" stroke="#3b494f" stroke-width="1.1"/>
<line x1="31.6" y1="577.5" x2="42.6" y2="577.5" stroke="#3b494f" stroke-width="1.1"/>
<text transform="translate(23.3 577.5) rotate(-90)" text-anchor="middle" font-family='"Liberation Sans", "DejaVu Sans", sans-serif' font-size="9.3" fill="#48585e" textLength="18.5" lengthAdjust="spacingAndGlyphs">300</text>
<line x1="36.6" y1="564" x2="42.6" y2="564" stroke="#3b494f" stroke-width="1.1"/>
<line x1="36.6" y1="550.6" x2="42.6" y2="550.6" stroke="#3b494f" stroke-width="1.1"/>
<line x1="36.6" y1="537.1" x2="42.6" y2="537.1" stroke="#3b494f" stroke-width="1.1"/>
<line x1="36.6" y1="523.7" x2="42.6" y2="523.7" stroke="#3b494f" stroke-width="1.1"/>
<line x1="31.6" y1="510.2" x2="42.6" y2="510.2" stroke="#3b494f" stroke-width="1.1"/>
<text transform="translate(23.3 510.2) rotate(-90)" text-anchor="middle" font-family='"Liberation Sans", "DejaVu Sans", sans-serif' font-size="9.3" fill="#48585e" textLength="18.5" lengthAdjust="spacingAndGlyphs">400</text>
<line x1="36.6" y1="496.7" x2="42.6" y2="496.7" stroke="#3b494f" stroke-width="1.1"/>
<line x1="36.6" y1="483.3" x2="42.6" y2="483.3" stroke="#3b494f" stroke-width="1.1"/>
<line x1="36.6" y1="469.8" x2="42.6" y2="469.8" stroke="#3b494f" stroke-width="1.1"/>
<line x1="36.6" y1="456.4" x2="42.6" y2="456.4" stroke="#3b494f" stroke-width="1.1"/>
<text transform="translate(13.3 612.1) rotate(-90)" text-anchor="middle" font-family='"Liberation Sans", "DejaVu Sans", sans-serif' font-size="9.4" font-weight="normal" stroke="#48585e" stroke-width="0.18" fill="#48585e" textLength="43" lengthAdjust="spacingAndGlyphs">Number</text>
<clipPath id="clipc"><path d="M169 779.3 L169.5 779.2 L169.9 779.2 L170.4 779.1 L170.9 779 L171.4 778.9 L171.9 778.8 L172.3 778.6 L172.8 778.4 L173.3 778.2 L173.8 777.9 L174.3 777.5 L174.7 777.1 L175.2 776.7 L175.7 776.2 L176.2 775.6 L176.7 775 L177.1 774.3 L177.6 773.6 L178.1 772.9 L178.6 772.1 L179 771.2 L179.5 770.4 L180 769.5 L180.5 768.6 L181 767.7 L181.4 766.9 L181.9 766.1 L182.4 765.3 L182.9 764.5 L183.4 763.9 L183.8 763.2 L184.3 762.6 L184.8 762.1 L185.3 761.6 L185.7 761.2 L186.2 760.9 L186.7 760.6 L187.2 760.3 L187.7 760.1 L188.1 759.9 L188.6 759.7 L189.1 759.6 L189.6 759.5 L190.1 759.4 L190.5 759.4 L191 759.3 L191.5 759.3 L192 759.3 L192.4 759.3 L192.9 759.2 L193.4 759.2 L193.9 759.2 L194.4 759.2 L194.8 759.2 L195.3 759.2 L195.8 759.2 L196.3 759.2 L196.8 759.2 L197.2 759.2 L197.7 759.2 L198.2 759.2 L198.7 759.2 L199.2 759.2 L199.6 759.2 L200.1 759.2 L200.6 759.2 L201.1 759.2 L201.5 759.2 L202 759.2 L202.5 759.2 L203 759.2 L203.5 759.2 L203.9 759.2 L204.4 759.2 L204.9 759.2 L205.4 759.2 L205.9 759.2 L206.3 759.2 L206.8 759.2 L207.3 759.2 L207.8 759.2 L208.2 759.2 L208.7 759.2 L209.2 759.2 L209.7 759.2 L210.2 759.2 L210.6 759.2 L211.1 759.2 L211.6 759.2 L212.1 759.2 L212.6 759.2 L213 759.2 L213.5 759.2 L214 759.2 L214.5 759.2 L214.9 759.2 L215.4 759.2 L215.9 759.2 L216.4 759.2 L216.9 759.2 L217.3 759.2 L217.8 759.2 L218.3 759.2 L218.8 759.2 L219.3 759.2 L219.7 759.2 L220.2 759.2 L220.7 759.2 L221.2 759.2 L221.7 759.2 L222.1 759.2 L222.6 759.2 L223.1 759.2 L223.6 759.2 L224 759.2 L224.5 759.2 L225 759.2 L225.5 759.2 L226 759.2 L226.4 759.2 L226.9 759.2 L227.4 759.2 L227.9 759.2 L228.4 759.2 L228.8 759.2 L229.3 759.2 L229.8 759.2 L230.3 759.2 L230.7 759.2 L231.2 759.2 L231.7 759.2 L232.2 759.2 L232.7 759.2 L233.1 759.2 L233.6 759.2 L234.1 759.2 L234.6 759.2 L235.1 759.2 L235.5 759.2 L236 759.2 L236.5 759.2 L237 759.2 L237.5 759.2 L237.9 759.2 L238.4 759.2 L238.9 759.2 L239.4 759.2 L239.8 759.2 L240.3 759.2 L240.8 759.2 L241.3 759.2 L241.8 759.2 L242.2 759.2 L242.7 759.2 L243.2 759.2 L243.7 759.2 L244.2 759.2 L244.6 759.2 L245.1 759.2 L245.6 759.2 L246.1 759.2 L246.5 759.2 L247 759.2 L247.5 759.2 L248 759.2 L248.5 759.2 L248.9 759.2 L249.4 759.2 L249.9 759.2 L250.4 759.2 L250.9 759.2 L251.3 759.2 L251.8 759.2 L252.3 759.2 L252.8 759.2 L253.2 759.2 L253.7 759.2 L254.2 759.2 L254.7 759.2 L255.2 759.2 L255.6 759.2 L256.1 759.2 L256.6 759.2 L257.1 759.2 L257.6 759.2 L258 759.2 L258.5 759.2 L259 759.2 L259.5 759.2 L260 759.2 L260.4 759.2 L260.9 759.2 L261.4 759.2 L261.9 759.2 L262.3 759.2 L262.8 759.2 L263.3 759.2 L263.8 759.2 L264.3 759.2 L264.7 759.2 L265.2 759.2 L265.7 759.2 L266.2 759.2 L266.7 759.2 L267.1 759.2 L267.6 759.2 L268.1 759.2 L268.6 759.2 L269 759.2 L269.5 759.2 L270 759.2 L270.5 759.2 L271 759.2 L271.4 759.2 L271.9 759.2 L272.4 759.2 L272.9 759.2 L273.4 759.2 L273.8 759.2 L274.3 759.2 L274.8 759.2 L275.3 759.2 L275.8 759.2 L276.2 759.2 L276.7 759.2 L277.2 759.2 L277.7 759.2 L278.1 759.2 L278.6 759.2 L279.1 759.2 L279.6 759.2 L280.1 759.2 L280.5 759.2 L281 759.2 L281.5 759.2 L282 759.2 L282.5 759.2 L282.9 759.3 L283.4 759.3 L283.9 759.3 L284.4 759.3 L284.8 759.3 L285.3 759.3 L285.8 759.3 L286.3 759.4 L286.8 759.4 L287.2 759.4 L287.7 759.5 L288.2 759.5 L288.7 759.6 L289.2 759.6 L289.6 759.7 L290.1 759.7 L290.6 759.8 L291.1 759.9 L291.6 760 L292 760.1 L292.5 760.2 L293 760.4 L293.5 760.5 L293.9 760.7 L294.4 760.9 L294.9 761 L295.4 761.3 L295.9 761.5 L296.3 761.7 L296.8 762 L297.3 762.3 L297.8 762.5 L298.3 762.9 L298.7 763.2 L299.2 763.5 L299.7 763.9 L300.2 764.3 L300.6 764.7 L301.1 765.1 L301.6 765.5 L302.1 765.9 L302.6 766.4 L303 766.8 L303.5 767.3 L304 767.8 L304.5 768.2 L305 768.7 L305.4 769.2 L305.9 769.7 L306.4 770.2 L306.9 770.7 L307.3 771.1 L307.8 771.6 L308.3 772.1 L308.8 772.5 L309.3 772.9 L309.7 773.4 L310.2 773.8 L310.7 774.2 L311.2 774.6 L311.7 774.9 L312.1 775.3 L312.6 775.6 L313.1 775.9 L313.6 776.2 L314.1 776.5 L314.5 776.8 L315 777 L315.5 777.3 L316 777.5 L316.4 777.7 L316.9 777.9 L317.4 778 L317.9 778.2 L318.4 778.3 L318.8 778.4 L319.3 778.6 L319.8 778.7 L320.3 778.8 L320.8 778.8 L321.2 778.9 L321.7 779 L322.2 779 L322.7 779.1 L323.1 779.1 L323.6 779.2 L324.1 779.2 L324.6 779.2 L325.1 779.3 L325.5 779.3 L326 779.3 L326 779.4 L169 779.4 Z"/></clipPath>
<path d="M160.9 778.7 L161.3 778.3 L161.8 777.9 L162.3 777.5 L162.8 777 L163.2 775.7 L163.7 774.1 L164.2 772.5 L164.7 770.9 L165.2 767.4 L165.6 762.4 L166.1 757.5 L166.6 752.5 L167.1 747.5 L167.6 740.5 L168 729.2 L168.5 717.9 L169 706.6 L169.5 695.4 L169.9 684.1 L170.4 670.8 L170.9 656.7 L171.4 642.6 L171.9 628.5 L172.3 614.4 L172.8 600.5 L173.3 586.9 L173.8 573.3 L174.3 559.7 L174.7 546.1 L175.2 532.5 L175.7 523.6 L176.2 517.5 L176.7 511.4 L177.1 505.3 L177.6 499.2 L178.1 493.2 L178.6 487.1 L179 481.3 L179.5 476.4 L180 471.5 L180.5 474.4 L181 479.4 L181.4 484.6 L181.9 490.7 L182.4 496.8 L182.9 502.9 L183.4 509 L183.8 515.1 L184.3 521.1 L184.8 527.2 L185.3 540.7 L185.7 554.3 L186.2 567.8 L186.7 581.4 L187.2 595 L187.7 608.8 L188.1 622.9 L188.6 637 L189.1 651.1 L189.6 665.2 L190.1 679.3 L190.5 690.8 L191 702.1 L191.5 713.4 L192 724.7 L192.4 736 L192.9 745.5 L193.4 750.5 L193.9 755.5 L194.4 760.4 L194.8 765.4 L195.3 770.2 L195.8 771.8 L196.3 773.5 L196.8 775.1 L197.2 776.7 L197.7 777.3 L198.2 777.7 L198.7 778.1 L199.2 778.6 L199.6 779 L199.6 779.4 L160.9 779.4 Z" fill="#718181" stroke="#111" stroke-width="1.5" stroke-linejoin="round"/>
<path d="M278.6 779.1 L279.1 778.9 L279.6 778.6 L280.1 778.2 L280.5 777.8 L281 777.3 L281.5 776.8 L282 776.2 L282.5 775.5 L282.9 774.8 L283.4 774.1 L283.9 773.3 L284.4 772.5 L284.8 771.7 L285.3 770.9 L285.8 770 L286.3 769.2 L286.8 768.4 L287.2 767.6 L287.7 766.7 L288.2 765.9 L288.7 765 L289.2 764.2 L289.6 763.4 L290.1 762.5 L290.6 761.7 L291.1 760.8 L291.6 760 L292 759.1 L292.5 758.2 L293 757.3 L293.5 756.4 L293.9 755.4 L294.4 754.5 L294.9 753.6 L295.4 752.7 L295.9 751.8 L296.3 750.9 L296.8 750 L297.3 749.2 L297.8 748.5 L298.3 747.7 L298.7 747 L299.2 746.3 L299.7 745.6 L300.2 745 L300.6 744.4 L301.1 743.8 L301.6 743.3 L302.1 742.8 L302.6 742.3 L303 741.8 L303.5 741.4 L304 741 L304.5 740.6 L305 740.4 L305.4 740.3 L305.9 740.3 L306.4 740.5 L306.9 740.8 L307.3 741.2 L307.8 741.6 L308.3 742.1 L308.8 742.6 L309.3 743.1 L309.7 743.6 L310.2 744.2 L310.7 744.8 L311.2 745.4 L311.7 746 L312.1 746.7 L312.6 747.4 L313.1 748.2 L313.6 748.9 L314.1 749.7 L314.5 750.5 L315 751.4 L315.5 752.3 L316 753.2 L316.4 754.1 L316.9 755.1 L317.4 756 L317.9 756.9 L318.4 757.8 L318.8 758.7 L319.3 759.6 L319.8 760.5 L320.3 761.3 L320.8 762.2 L321.2 763 L321.7 763.9 L322.2 764.7 L322.7 765.5 L323.1 766.4 L323.6 767.2 L324.1 768 L324.6 768.9 L325.1 769.7 L325.5 770.5 L326 771.3 L326.5 772.2 L327 773 L327.5 773.8 L327.9 774.5 L328.4 775.2 L328.9 775.9 L329.4 776.6 L329.9 777.1 L330.3 777.6 L330.8 778.1 L331.3 778.5 L331.8 778.8 L332.2 779 L332.2 779.4 L278.6 779.4 Z" fill="#718181" stroke="#111" stroke-width="1.5" stroke-linejoin="round"/>
<path d="M146.8 757.2 l22.2 22.2 M155.5 757.2 l22.2 22.2 M164.2 757.2 l22.2 22.2 M172.9 757.2 l22.2 22.2 M181.6 757.2 l22.2 22.2 M190.3 757.2 l22.2 22.2 M199 757.2 l22.2 22.2 M207.7 757.2 l22.2 22.2 M216.4 757.2 l22.2 22.2 M225.1 757.2 l22.2 22.2 M233.8 757.2 l22.2 22.2 M242.5 757.2 l22.2 22.2 M251.2 757.2 l22.2 22.2 M259.9 757.2 l22.2 22.2 M268.6 757.2 l22.2 22.2 M277.3 757.2 l22.2 22.2 M286 757.2 l22.2 22.2 M294.7 757.2 l22.2 22.2 M303.4 757.2 l22.2 22.2 M312.1 757.2 l22.2 22.2 M320.8 757.2 l22.2 22.2" stroke="#8f9797" stroke-width="0.65" fill="none" clip-path="url(#clipc)"/>
<path d="M169.9 779.2 L170.4 779.1 L170.9 779 L171.4 778.9 L171.9 778.8 L172.3 778.6 L172.8 778.4 L173.3 778.2 L173.8 777.9 L174.3 777.5 L174.7 777.1 L175.2 776.7 L175.7 776.2 L176.2 775.6 L176.7 775 L177.1 774.3 L177.6 773.6 L178.1 772.9 L178.6 772.1 L179 771.2 L179.5 770.4 L180 769.5 L180.5 768.6 L181 767.7 L181.4 766.9 L181.9 766.1 L182.4 765.3 L182.9 764.5 L183.4 763.9 L183.8 763.2 L184.3 762.6 L184.8 762.1 L185.3 761.6 L185.7 761.2 L186.2 760.9 L186.7 760.6 L187.2 760.3 L187.7 760.1 L188.1 759.9 L188.6 759.7 L189.1 759.6 L189.6 759.5 L190.1 759.4 L190.5 759.4 L191 759.3 L191.5 759.3 L192 759.3 L192.4 759.3 L192.9 759.2 L193.4 759.2 L193.9 759.2 L194.4 760.4 L194.8 765.4 L195.3 770.2 L195.8 771.8 L196.3 773.5 L196.8 775.1 L197.2 776.7 L197.7 777.3 L198.2 777.7 L198.7 778.1 L199.2 778.6 L199.6 779 L199.6 779.4 L169.9 779.4 Z" fill="#465454" fill-opacity="0.45" stroke="none"/>
<path d="M278.6 779.1 L279.1 778.9 L279.6 778.6 L280.1 778.2 L280.5 777.8 L281 777.3 L281.5 776.8 L282 776.2 L282.5 775.5 L282.9 774.8 L283.4 774.1 L283.9 773.3 L284.4 772.5 L284.8 771.7 L285.3 770.9 L285.8 770 L286.3 769.2 L286.8 768.4 L287.2 767.6 L287.7 766.7 L288.2 765.9 L288.7 765 L289.2 764.2 L289.6 763.4 L290.1 762.5 L290.6 761.7 L291.1 760.8 L291.6 760 L292 760.1 L292.5 760.2 L293 760.4 L293.5 760.5 L293.9 760.7 L294.4 760.9 L294.9 761 L295.4 761.3 L295.9 761.5 L296.3 761.7 L296.8 762 L297.3 762.3 L297.8 762.5 L298.3 762.9 L298.7 763.2 L299.2 763.5 L299.7 763.9 L300.2 764.3 L300.6 764.7 L301.1 765.1 L301.6 765.5 L302.1 765.9 L302.6 766.4 L303 766.8 L303.5 767.3 L304 767.8 L304.5 768.2 L305 768.7 L305.4 769.2 L305.9 769.7 L306.4 770.2 L306.9 770.7 L307.3 771.1 L307.8 771.6 L308.3 772.1 L308.8 772.5 L309.3 772.9 L309.7 773.4 L310.2 773.8 L310.7 774.2 L311.2 774.6 L311.7 774.9 L312.1 775.3 L312.6 775.6 L313.1 775.9 L313.6 776.2 L314.1 776.5 L314.5 776.8 L315 777 L315.5 777.3 L316 777.5 L316.4 777.7 L316.9 777.9 L317.4 778 L317.9 778.2 L318.4 778.3 L318.8 778.4 L319.3 778.6 L319.8 778.7 L320.3 778.8 L320.8 778.8 L321.2 778.9 L321.7 779 L322.2 779 L322.7 779.1 L323.1 779.1 L323.6 779.2 L323.6 779.4 L278.6 779.4 Z" fill="#465454" fill-opacity="0.45" stroke="none"/>
<path d="M169 779.3 L169.5 779.2 L169.9 779.2 L170.4 779.1 L170.9 779 L171.4 778.9 L171.9 778.8 L172.3 778.6 L172.8 778.4 L173.3 778.2 L173.8 777.9 L174.3 777.5 L174.7 777.1 L175.2 776.7 L175.7 776.2 L176.2 775.6 L176.7 775 L177.1 774.3 L177.6 773.6 L178.1 772.9 L178.6 772.1 L179 771.2 L179.5 770.4 L180 769.5 L180.5 768.6 L181 767.7 L181.4 766.9 L181.9 766.1 L182.4 765.3 L182.9 764.5 L183.4 763.9 L183.8 763.2 L184.3 762.6 L184.8 762.1 L185.3 761.6 L185.7 761.2 L186.2 760.9 L186.7 760.6 L187.2 760.3 L187.7 760.1 L188.1 759.9 L188.6 759.7 L189.1 759.6 L189.6 759.5 L190.1 759.4 L190.5 759.4 L191 759.3 L191.5 759.3 L192 759.3 L192.4 759.3 L192.9 759.2 L193.4 759.2 L193.9 759.2 L194.4 759.2 L194.8 759.2 L195.3 759.2 L195.8 759.2 L196.3 759.2 L196.8 759.2 L197.2 759.2 L197.7 759.2 L198.2 759.2 L198.7 759.2 L199.2 759.2 L199.6 759.2 L200.1 759.2 L200.6 759.2 L201.1 759.2 L201.5 759.2 L202 759.2 L202.5 759.2 L203 759.2 L203.5 759.2 L203.9 759.2 L204.4 759.2 L204.9 759.2 L205.4 759.2 L205.9 759.2 L206.3 759.2 L206.8 759.2 L207.3 759.2 L207.8 759.2 L208.2 759.2 L208.7 759.2 L209.2 759.2 L209.7 759.2 L210.2 759.2 L210.6 759.2 L211.1 759.2 L211.6 759.2 L212.1 759.2 L212.6 759.2 L213 759.2 L213.5 759.2 L214 759.2 L214.5 759.2 L214.9 759.2 L215.4 759.2 L215.9 759.2 L216.4 759.2 L216.9 759.2 L217.3 759.2 L217.8 759.2 L218.3 759.2 L218.8 759.2 L219.3 759.2 L219.7 759.2 L220.2 759.2 L220.7 759.2 L221.2 759.2 L221.7 759.2 L222.1 759.2 L222.6 759.2 L223.1 759.2 L223.6 759.2 L224 759.2 L224.5 759.2 L225 759.2 L225.5 759.2 L226 759.2 L226.4 759.2 L226.9 759.2 L227.4 759.2 L227.9 759.2 L228.4 759.2 L228.8 759.2 L229.3 759.2 L229.8 759.2 L230.3 759.2 L230.7 759.2 L231.2 759.2 L231.7 759.2 L232.2 759.2 L232.7 759.2 L233.1 759.2 L233.6 759.2 L234.1 759.2 L234.6 759.2 L235.1 759.2 L235.5 759.2 L236 759.2 L236.5 759.2 L237 759.2 L237.5 759.2 L237.9 759.2 L238.4 759.2 L238.9 759.2 L239.4 759.2 L239.8 759.2 L240.3 759.2 L240.8 759.2 L241.3 759.2 L241.8 759.2 L242.2 759.2 L242.7 759.2 L243.2 759.2 L243.7 759.2 L244.2 759.2 L244.6 759.2 L245.1 759.2 L245.6 759.2 L246.1 759.2 L246.5 759.2 L247 759.2 L247.5 759.2 L248 759.2 L248.5 759.2 L248.9 759.2 L249.4 759.2 L249.9 759.2 L250.4 759.2 L250.9 759.2 L251.3 759.2 L251.8 759.2 L252.3 759.2 L252.8 759.2 L253.2 759.2 L253.7 759.2 L254.2 759.2 L254.7 759.2 L255.2 759.2 L255.6 759.2 L256.1 759.2 L256.6 759.2 L257.1 759.2 L257.6 759.2 L258 759.2 L258.5 759.2 L259 759.2 L259.5 759.2 L260 759.2 L260.4 759.2 L260.9 759.2 L261.4 759.2 L261.9 759.2 L262.3 759.2 L262.8 759.2 L263.3 759.2 L263.8 759.2 L264.3 759.2 L264.7 759.2 L265.2 759.2 L265.7 759.2 L266.2 759.2 L266.7 759.2 L267.1 759.2 L267.6 759.2 L268.1 759.2 L268.6 759.2 L269 759.2 L269.5 759.2 L270 759.2 L270.5 759.2 L271 759.2 L271.4 759.2 L271.9 759.2 L272.4 759.2 L272.9 759.2 L273.4 759.2 L273.8 759.2 L274.3 759.2 L274.8 759.2 L275.3 759.2 L275.8 759.2 L276.2 759.2 L276.7 759.2 L277.2 759.2 L277.7 759.2 L278.1 759.2 L278.6 759.2 L279.1 759.2 L279.6 759.2 L280.1 759.2 L280.5 759.2 L281 759.2 L281.5 759.2 L282 759.2 L282.5 759.2 L282.9 759.3 L283.4 759.3 L283.9 759.3 L284.4 759.3 L284.8 759.3 L285.3 759.3 L285.8 759.3 L286.3 759.4 L286.8 759.4 L287.2 759.4 L287.7 759.5 L288.2 759.5 L288.7 759.6 L289.2 759.6 L289.6 759.7 L290.1 759.7 L290.6 759.8 L291.1 759.9 L291.6 760 L292 760.1 L292.5 760.2 L293 760.4 L293.5 760.5 L293.9 760.7 L294.4 760.9 L294.9 761 L295.4 761.3 L295.9 761.5 L296.3 761.7 L296.8 762 L297.3 762.3 L297.8 762.5 L298.3 762.9 L298.7 763.2 L299.2 763.5 L299.7 763.9 L300.2 764.3 L300.6 764.7 L301.1 765.1 L301.6 765.5 L302.1 765.9 L302.6 766.4 L303 766.8 L303.5 767.3 L304 767.8 L304.5 768.2 L305 768.7 L305.4 769.2 L305.9 769.7 L306.4 770.2 L306.9 770.7 L307.3 771.1 L307.8 771.6 L308.3 772.1 L308.8 772.5 L309.3 772.9 L309.7 773.4 L310.2 773.8 L310.7 774.2 L311.2 774.6 L311.7 774.9 L312.1 775.3 L312.6 775.6 L313.1 775.9 L313.6 776.2 L314.1 776.5 L314.5 776.8 L315 777 L315.5 777.3 L316 777.5 L316.4 777.7 L316.9 777.9 L317.4 778 L317.9 778.2 L318.4 778.3 L318.8 778.4 L319.3 778.6 L319.8 778.7 L320.3 778.8 L320.8 778.8 L321.2 778.9 L321.7 779 L322.2 779 L322.7 779.1 L323.1 779.1 L323.6 779.2 L324.1 779.2 L324.6 779.2 L325.1 779.3 L325.5 779.3 L326 779.3" fill="none" stroke="#1c1c1c" stroke-width="1.25"/>
<path d="M160.4 779.2 L160.9 778.7 L161.3 778.3 L161.8 777.9 L162.3 777.5 L162.8 777 L163.2 775.7 L163.7 774.1 L164.2 772.5 L164.7 770.9 L165.2 767.4 L165.6 762.4 L166.1 757.4 L166.6 752.5 L167.1 747.5 L167.6 740.4 L168 729.1 L168.5 717.8 L169 706.5 L169.5 695.2 L169.9 683.9 L170.4 670.6 L170.9 656.4 L171.4 642.2 L171.9 627.9 L172.3 613.6 L172.8 599.5 L173.3 585.6 L173.8 571.8 L174.3 557.8 L174.7 543.9 L175.2 529.8 L175.7 520.4 L176.2 513.7 L176.7 507 L177.1 500.3 L177.6 493.5 L178.1 486.6 L178.6 479.7 L179 473.2 L179.5 467.4 L180 461.6 L180.5 463.6 L181 467.7 L181.4 472.1 L181.9 477.4 L182.4 482.7 L182.9 488 L183.4 493.4 L183.8 498.9 L184.3 504.4 L184.8 509.9 L185.3 522.9 L185.7 536.1 L186.2 549.3 L186.7 562.6 L187.2 575.9 L187.7 589.5 L188.1 603.4 L188.6 617.3 L189.1 631.3 L189.6 643.9 L190.1 650.7 L190.5 657.6 L191 664.4 L191.5 671.2 L192 677.9 L192.4 684.7 L192.9 690.3 L193.4 695 L193.9 700.6 L194.4 706.6 L194.8 711.4 L195.3 716.1 L195.8 720.6 L196.3 724.8 L196.8 728.6 L197.2 729.6 L197.7 730.7 L198.2 732.7 L198.7 734.6 L199.2 736.6 L199.6 738.2 L200.1 739.3 L200.6 740.5 L201.1 741 L201.5 743.3 L202 745.8 L202.5 747.5 L203 748.6 L203.5 747.5 L203.9 746.6 L204.4 745.7 L204.9 745 L205.4 745.7 L205.9 746.6 L206.3 747.7 L206.8 747.4 L207.3 747.2 L207.8 746.9 L208.2 746.5 L208.7 745.7 L209.2 745 L209.7 746.4 L210.2 748.2 L210.6 750 L211.1 751.8 L211.6 754 L212.1 755.8 L212.6 757.4 L213 758.1 L213.5 758.2 L214 757.9 L214.5 757.3 L214.9 756.4 L215.4 756.7 L215.9 757 L216.4 757.3 L216.9 757.3 L217.3 757.1 L217.8 757 L218.3 756.8 L218.8 756.3 L219.3 755.7 L219.7 755.1 L220.2 754.7 L220.7 755.8 L221.2 757.2 L221.7 758.5 L222.1 759.8 L222.6 761 L223.1 761.7 L223.6 761.9 L224 761.3 L224.5 760.6 L225 760 L225.5 759.3 L226 758.6 L226.4 758 L226.9 757.9 L227.4 757.9 L227.9 757.8 L228.4 757.7 L228.8 757.7 L229.3 757.6 L229.8 757.7 L230.3 757.7 L230.7 757.8 L231.2 757.8 L231.7 757.9 L232.2 757.9 L232.7 758.2 L233.1 758.8 L233.6 759.4 L234.1 760.1 L234.6 760.7 L235.1 761.3 L235.5 761.9 L236 761.5 L236.5 760.9 L237 760.2 L237.5 759.6 L237.9 759 L238.4 758.3 L238.9 758.1 L239.4 758.7 L239.8 759.2 L240.3 759.7 L240.8 760.3 L241.3 760.6 L241.8 761 L242.2 760.5 L242.7 760.1 L243.2 759.7 L243.7 759.3 L244.2 758.8 L244.6 758.4 L245.1 758.4 L245.6 758.7 L246.1 758.9 L246.5 759.2 L247 759.5 L247.5 759.7 L248 759.8 L248.5 759.2 L248.9 758.6 L249.4 758 L249.9 757.5 L250.4 756.9 L250.9 756.4 L251.3 756.4 L251.8 756.5 L252.3 756.7 L252.8 756.8 L253.2 757 L253.7 757.1 L254.2 757.5 L254.7 758.1 L255.2 758.7 L255.6 759.3 L256.1 760 L256.6 760.6 L257.1 761.2 L257.6 761.1 L258 761.1 L258.5 761.3 L259 761.5 L259.5 761.7 L260 761.9 L260.4 761.5 L260.9 760.9 L261.4 760.3 L261.9 759.6 L262.3 759 L262.8 758.4 L263.3 758 L263.8 758.8 L264.3 759.7 L264.7 760.5 L265.2 761.3 L265.7 762.1 L266.2 762.9 L266.7 763.2 L267.1 763.3 L267.6 763.4 L268.1 763.4 L268.6 763.5 L269 763.5 L269.5 763.8 L270 764.3 L270.5 764.8 L271 765.3 L271.4 765.8 L271.9 766.3 L272.4 766.8 L272.9 766.1 L273.4 765.4 L273.8 764.8 L274.3 764.1 L274.8 763.4 L275.3 762.8 L275.8 762.1 L276.2 761.7 L276.7 761.3 L277.2 760.8 L277.7 760.3 L278.1 759.8 L278.6 759.3 L279.1 758.7 L279.6 758 L280.1 757.2 L280.5 756.4 L281 755.5 L281.5 754.5 L282 754.3 L282.5 754.2 L282.9 754.1 L283.4 753.9 L283.9 753.8 L284.4 754 L284.8 753.5 L285.3 751.9 L285.8 750.4 L286.3 748.8 L286.8 747.2 L287.2 745.6 L287.7 743.9 L288.2 743.7 L288.7 743.4 L289.2 742.9 L289.6 742.1 L290.1 741 L290.6 739.5 L291.1 737.1 L291.6 734 L292 730.6 L292.5 727.2 L293 723.6 L293.5 720.4 L293.9 717.8 L294.4 716.1 L294.9 715.2 L295.4 715.2 L295.9 715.9 L296.3 717.2 L296.8 718.9 L297.3 720.6 L297.8 722.2 L298.3 723.6 L298.7 724.6 L299.2 725.1 L299.7 724.6 L300.2 723.3 L300.6 721.7 L301.1 721.1 L301.6 722.1 L302.1 724.1 L302.6 725.9 L303 727 L303.5 727.3 L304 727.4 L304.5 727.5 L305 727.7 L305.4 728 L305.9 728.4 L306.4 729 L306.9 729.7 L307.3 730.5 L307.8 731.3 L308.3 732.2 L308.8 733.1 L309.3 733.9 L309.7 734.2 L310.2 735 L310.7 735.7 L311.2 736.4 L311.7 737.2 L312.1 738 L312.6 739.9 L313.1 742.1 L313.6 744.3 L314.1 746.6 L314.5 748.8 L315 751 L315.5 753 L316 754.4 L316.4 755.9 L316.9 757.3 L317.4 758.7 L317.9 760.1 L318.4 761.5 L318.8 761.7 L319.3 761.8 L319.8 761.9 L320.3 761.9 L320.8 762 L321.2 762 L321.7 762.9 L322.2 764.3 L322.7 765.7 L323.1 767.1 L323.6 768.5 L324.1 769.9 L324.6 771 L325.1 771.2 L325.5 771.4 L326 771.4 L326.5 771.4 L327 771.1 L327.5 770.7 L327.9 770.2 L328.4 769.7 L328.9 769 L329.4 768.4 L329.9 768 L330.3 767.8 L330.8 768.5 L331.3 770.3 L331.8 772.3 L332.2 774.3 L332.7 776.4 L333.2 778.3 L333.7 779.4 L334.2 779.4 L334.6 778.9 L335.1 778.1 L335.6 777.2 L336.1 776.6 L336.6 776 L337 776.4 L337.5 777.6 L338 778.7 L338.5 779.4 L338.9 779.4 L339.4 779.4 L339.9 779.4 L340.4 779.4 L340.9 779.4 L341.3 779.4 L341.8 779.4 L342.3 779.1 L342.8 778 L343.3 777.3 L343.7 776.6 L344.2 776 L344.7 775.3 L345.2 774.7 L345.6 774.5 L346.1 774.5 L346.6 774.7 L347.1 775.1 L347.6 775.6 L348 776.2 L348.5 776.7 L349 777.2 L349.5 777.7 L350 778 L350.4 778.2 L350.9 778.4 L351.4 778.5" fill="none" stroke="#20282a" stroke-width="1.3" stroke-linejoin="round"/>
<path d="M160.4 779.2 L160.9 778.7 L161.3 778.3 L161.8 777.9 L162.3 777.5 L162.8 777 L163.2 775.7 L163.7 774.1 L164.2 772.5 L164.7 770.9 L165.2 767.4 L165.6 762.4 L166.1 757.4 L166.6 752.5 L167.1 747.5 L167.6 740.4 L168 729.1 L168.5 717.8 L169 706.5 L169.5 695.2 L169.9 683.9 L170.4 670.6 L170.9 656.4 L171.4 642.2 L171.9 627.9 L172.3 613.6 L172.8 599.5 L173.3 585.6 L173.8 571.8 L174.3 557.8 L174.7 543.9 L175.2 529.8 L175.7 520.4 L176.2 513.7 L176.7 507 L177.1 500.3 L177.6 493.5 L178.1 486.6 L178.6 479.7 L179 473.2 L179.5 467.4 L180 461.6 L180.5 463.6 L181 467.7 L181.4 472.1 L181.9 477.4 L182.4 482.7 L182.9 488 L183.4 493.4 L183.8 498.9 L184.3 504.4 L184.8 509.9 L185.3 522.9 L185.7 536.1 L186.2 549.3 L186.7 562.6 L187.2 575.9 L187.7 589.5 L188.1 603.4 L188.6 617.3 L189.1 631.3 L189.6 645.3 L190.1 659.4 L190.5 670.8 L191 682.1 L191.5 693.3 L192 704.6 L192.4 715.8 L192.9 725.4 L193.4 730.3 L193.9 735.3 L194.4 740.3 L194.8 745.2 L195.3 750 L195.8 751.7 L196.3 753.3 L196.8 754.9 L197.2 756.5 L197.7 757.1 L198.2 757.5 L198.7 758 L199.2 758.4 L199.6 758.8 L200.1 759.2 L200.6 759.2 L201.1 759.2 L201.5 759.2 L202 759.2 L202.5 759.2 L203 759.2 L203.5 759.2 L203.9 759.2 L204.4 759.2 L204.9 759.2 L205.4 759.2 L205.9 759.2 L206.3 759.2 L206.8 759.2 L207.3 759.2 L207.8 759.2 L208.2 759.2 L208.7 759.2 L209.2 759.2 L209.7 759.2 L210.2 759.2 L210.6 759.2 L211.1 759.2 L211.6 759.2 L212.1 759.2 L212.6 759.2 L213 759.2 L213.5 759.2 L214 759.2 L214.5 759.2 L214.9 759.2 L215.4 759.2 L215.9 759.2 L216.4 759.2 L216.9 759.2 L217.3 759.2 L217.8 759.2 L218.3 759.2 L218.8 759.2 L219.3 759.2 L219.7 759.2 L220.2 759.2 L220.7 759.2 L221.2 759.2 L221.7 759.2 L222.1 759.2 L222.6 759.2 L223.1 759.2 L223.6 759.2 L224 759.2 L224.5 759.2 L225 759.2 L225.5 759.2 L226 759.2 L226.4 759.2 L226.9 759.2 L227.4 759.2 L227.9 759.2 L228.4 759.2 L228.8 759.2 L229.3 759.2 L229.8 759.2 L230.3 759.2 L230.7 759.2 L231.2 759.2 L231.7 759.2 L232.2 759.2 L232.7 759.2 L233.1 759.2 L233.6 759.2 L234.1 759.2 L234.6 759.2 L235.1 759.2 L235.5 759.2 L236 759.2 L236.5 759.2 L237 759.2 L237.5 759.2 L237.9 759.2 L238.4 759.2 L238.9 759.2 L239.4 759.2 L239.8 759.2 L240.3 759.2 L240.8 759.2 L241.3 759.2 L241.8 759.2 L242.2 759.2 L242.7 759.2 L243.2 759.2 L243.7 759.2 L244.2 759.2 L244.6 759.2 L245.1 759.2 L245.6 759.2 L246.1 759.2 L246.5 759.2 L247 759.2 L247.5 759.2 L248 759.2 L248.5 759.2 L248.9 759.2 L249.4 759.2 L249.9 759.2 L250.4 759.2 L250.9 759.2 L251.3 759.2 L251.8 759.2 L252.3 759.2 L252.8 759.2 L253.2 759.2 L253.7 759.2 L254.2 759.2 L254.7 759.2 L255.2 759.2 L255.6 759.2 L256.1 759.2 L256.6 759.2 L257.1 759.2 L257.6 759.2 L258 759.2 L258.5 759.2 L259 759.2 L259.5 759.2 L260 759.2 L260.4 759.2 L260.9 759.2 L261.4 759.2 L261.9 759.2 L262.3 759.2 L262.8 759.2 L263.3 759.2 L263.8 759.2 L264.3 759.2 L264.7 759.2 L265.2 759.2 L265.7 759.2 L266.2 759.2 L266.7 759.2 L267.1 759.2 L267.6 759.2 L268.1 759.2 L268.6 759.2 L269 759.2 L269.5 759.2 L270 759.2 L270.5 759.2 L271 759.2 L271.4 759.2 L271.9 759.2 L272.4 759.2 L272.9 759.2 L273.4 759.2 L273.8 759.2 L274.3 759.2 L274.8 759.2 L275.3 759.2 L275.8 759.2 L276.2 759.2 L276.7 759.2 L277.2 759.2 L277.7 759.1 L278.1 759.1 L278.6 758.9 L279.1 758.7 L279.6 758.4 L280.1 758.1 L280.5 757.7 L281 757.2 L281.5 756.6 L282 756 L282.5 755.4 L282.9 754.7 L283.4 753.9 L283.9 753.2 L284.4 752.4 L284.8 751.6 L285.3 750.8 L285.8 750 L286.3 749.2 L286.8 748.4 L287.2 747.6 L287.7 746.8 L288.2 746 L288.7 745.2 L289.2 744.4 L289.6 743.6 L290.1 742.9 L290.6 742.1 L291.1 741.3 L291.6 740.6 L292 739.8 L292.5 739 L293 738.3 L293.5 737.5 L293.9 736.7 L294.4 736 L294.9 735.2 L295.4 734.5 L295.9 733.8 L296.3 733.2 L296.8 732.6 L297.3 732.1 L297.8 731.6 L298.3 731.2 L298.7 730.7 L299.2 730.4 L299.7 730.1 L300.2 729.9 L300.6 729.7 L301.1 729.5 L301.6 729.4 L302.1 729.3 L302.6 729.2 L303 729.2 L303.5 729.3 L304 729.3 L304.5 729.5 L305 729.7 L305.4 730.1 L305.9 730.6 L306.4 731.3 L306.9 732.1 L307.3 732.9 L307.8 733.8 L308.3 734.7 L308.8 735.7 L309.3 736.6 L309.7 737.6 L310.2 738.6 L310.7 739.5 L311.2 740.5 L311.7 741.5 L312.1 742.6 L312.6 743.6 L313.1 744.7 L313.6 745.8 L314.1 746.8 L314.5 747.9 L315 749 L315.5 750.2 L316 751.3 L316.4 752.4 L316.9 753.5 L317.4 754.6 L317.9 755.7 L318.4 756.7 L318.8 757.8 L319.3 758.8 L319.8 759.7 L320.3 760.7 L320.8 761.6 L321.2 762.5 L321.7 763.4 L322.2 764.3 L322.7 765.2 L323.1 766.1 L323.6 767 L324.1 767.9 L324.6 768.7 L325.1 769.6 L325.5 770.4 L326 771.2 L326.5 772.1 L327 772.9 L327.5 773.7 L327.9 774.5 L328.4 775.2 L328.9 775.9 L329.4 776.5 L329.9 777.1 L330.3 777.6 L330.8 778.1 L331.3 778.5 L331.8 778.8 L332.2 779 L332.7 779.2" fill="none" stroke="#0c0c0c" stroke-width="2.5" stroke-linejoin="round"/>
<line x1="42" y1="779.4" x2="388.8" y2="779.4" stroke="#0a0a0a" stroke-width="2.2"/>
<line x1="42.6" y1="779.4" x2="42.6" y2="791.9" stroke="#23292b" stroke-width="1.1"/>
<text x="42.6" y="805.8" text-anchor="middle" font-family='"Liberation Sans", "DejaVu Sans", sans-serif' font-size="10.9" fill="#48585e" textLength="5.5" lengthAdjust="spacingAndGlyphs">0</text>
<line x1="57.9" y1="779.4" x2="57.9" y2="785.9" stroke="#23292b" stroke-width="1.1"/>
<line x1="73.2" y1="779.4" x2="73.2" y2="785.9" stroke="#23292b" stroke-width="1.1"/>
<line x1="88.6" y1="779.4" x2="88.6" y2="785.9" stroke="#23292b" stroke-width="1.1"/>
<line x1="103.9" y1="779.4" x2="103.9" y2="785.9" stroke="#23292b" stroke-width="1.1"/>
<line x1="119.2" y1="779.4" x2="119.2" y2="791.9" stroke="#23292b" stroke-width="1.1"/>
<text x="119.2" y="805.8" text-anchor="middle" font-family='"Liberation Sans", "DejaVu Sans", sans-serif' font-size="10.9" fill="#48585e" textLength="11.1" lengthAdjust="spacingAndGlyphs">40</text>
<line x1="134.5" y1="779.4" x2="134.5" y2="785.9" stroke="#23292b" stroke-width="1.1"/>
<line x1="149.8" y1="779.4" x2="149.8" y2="785.9" stroke="#23292b" stroke-width="1.1"/>
<line x1="165.2" y1="779.4" x2="165.2" y2="785.9" stroke="#23292b" stroke-width="1.1"/>
<line x1="180.5" y1="779.4" x2="180.5" y2="785.9" stroke="#23292b" stroke-width="1.1"/>
<line x1="195.8" y1="779.4" x2="195.8" y2="791.9" stroke="#23292b" stroke-width="1.1"/>
<text x="195.8" y="805.8" text-anchor="middle" font-family='"Liberation Sans", "DejaVu Sans", sans-serif' font-size="10.9" fill="#48585e" textLength="11.1" lengthAdjust="spacingAndGlyphs">80</text>
<line x1="211.1" y1="779.4" x2="211.1" y2="785.9" stroke="#23292b" stroke-width="1.1"/>
<line x1="226.4" y1="779.4" x2="226.4" y2="785.9" stroke="#23292b" stroke-width="1.1"/>
<line x1="241.8" y1="779.4" x2="241.8" y2="785.9" stroke="#23292b" stroke-width="1.1"/>
<line x1="257.1" y1="779.4" x2="257.1" y2="785.9" stroke="#23292b" stroke-width="1.1"/>
<line x1="272.4" y1="779.4" x2="272.4" y2="791.9" stroke="#23292b" stroke-width="1.1"/>
<text x="272.4" y="805.8" text-anchor="middle" font-family='"Liberation Sans", "DejaVu Sans", sans-serif' font-size="10.9" fill="#48585e" textLength="16.6" lengthAdjust="spacingAndGlyphs">120</text>
<line x1="287.7" y1="779.4" x2="287.7" y2="785.9" stroke="#23292b" stroke-width="1.1"/>
<line x1="303" y1="779.4" x2="303" y2="785.9" stroke="#23292b" stroke-width="1.1"/>
<line x1="318.4" y1="779.4" x2="318.4" y2="785.9" stroke="#23292b" stroke-width="1.1"/>
<line x1="333.7" y1="779.4" x2="333.7" y2="785.9" stroke="#23292b" stroke-width="1.1"/>
<line x1="349" y1="779.4" x2="349" y2="791.9" stroke="#23292b" stroke-width="1.1"/>
<text x="349" y="805.8" text-anchor="middle" font-family='"Liberation Sans", "DejaVu Sans", sans-serif' font-size="10.9" fill="#48585e" textLength="16.6" lengthAdjust="spacingAndGlyphs">160</text>
<line x1="364.3" y1="779.4" x2="364.3" y2="785.9" stroke="#23292b" stroke-width="1.1"/>
<line x1="379.6" y1="779.4" x2="379.6" y2="785.9" stroke="#23292b" stroke-width="1.1"/>
<text x="215" y="817.8" text-anchor="middle" font-family='"Liberation Sans", "DejaVu Sans", sans-serif' font-size="11.2" fill="#48585e" textLength="89.5" lengthAdjust="spacingAndGlyphs">Channels (FL2-A)</text>
<path d="M179.4 780 l4.7 10.8 h-9.4 z" fill="#0a0a0a"/>
<path d="M295.2 780 l4.7 10.8 h-9.4 z" fill="#0a0a0a"/>
<text x="240.7" y="464.9" font-family='"Liberation Serif", "DejaVu Serif", serif' font-weight="bold" font-size="22.6" fill="#111" stroke="#111" stroke-width="0.45" textLength="168.6" lengthAdjust="spacingAndGlyphs">Dip G1: 61.33%</text>
<text x="240.7" y="493.5" font-family='"Liberation Serif", "DejaVu Serif", serif' font-weight="bold" font-size="22.6" fill="#111" stroke="#111" stroke-width="0.45" textLength="156.5" lengthAdjust="spacingAndGlyphs">Dip S: 19.31 %</text>
<text x="240.7" y="522.1" font-family='"Liberation Serif", "DejaVu Serif", serif' font-weight="bold" font-size="22.6" fill="#111" stroke="#111" stroke-width="0.45" textLength="174.9" lengthAdjust="spacingAndGlyphs">Dip G2: 19.36 %</text>
</g>
<g id="panel-d">
<line x1="440.2" y1="443" x2="440.2" y2="779.5" stroke="#3b494f" stroke-width="1.3"/>
<line x1="429.2" y1="778.5" x2="440.2" y2="778.5" stroke="#222" stroke-width="1.6"/>
<text transform="translate(420.9 778.5) rotate(-90)" text-anchor="middle" font-family='"Liberation Sans", "DejaVu Sans", sans-serif' font-size="9.3" fill="#48585e" textLength="6.2" lengthAdjust="spacingAndGlyphs">0</text>
<line x1="434.2" y1="765.1" x2="440.2" y2="765.1" stroke="#3b494f" stroke-width="1.1"/>
<line x1="434.2" y1="751.7" x2="440.2" y2="751.7" stroke="#3b494f" stroke-width="1.1"/>
<line x1="434.2" y1="738.2" x2="440.2" y2="738.2" stroke="#3b494f" stroke-width="1.1"/>
<line x1="434.2" y1="724.8" x2="440.2" y2="724.8" stroke="#3b494f" stroke-width="1.1"/>
<line x1="429.2" y1="711.4" x2="440.2" y2="711.4" stroke="#3b494f" stroke-width="1.1"/>
<text transform="translate(420.9 711.4) rotate(-90)" text-anchor="middle" font-family='"Liberation Sans", "DejaVu Sans", sans-serif' font-size="9.3" fill="#48585e" textLength="18.5" lengthAdjust="spacingAndGlyphs">200</text>
<line x1="434.2" y1="698" x2="440.2" y2="698" stroke="#3b494f" stroke-width="1.1"/>
<line x1="434.2" y1="684.6" x2="440.2" y2="684.6" stroke="#3b494f" stroke-width="1.1"/>
<line x1="434.2" y1="671.1" x2="440.2" y2="671.1" stroke="#3b494f" stroke-width="1.1"/>
<line x1="434.2" y1="657.7" x2="440.2" y2="657.7" stroke="#3b494f" stroke-width="1.1"/>
<line x1="429.2" y1="644.3" x2="440.2" y2="644.3" stroke="#3b494f" stroke-width="1.1"/>
<text transform="translate(420.9 644.3) rotate(-90)" text-anchor="middle" font-family='"Liberation Sans", "DejaVu Sans", sans-serif' font-size="9.3" fill="#48585e" textLength="18.5" lengthAdjust="spacingAndGlyphs">400</text>
<line x1="434.2" y1="630.9" x2="440.2" y2="630.9" stroke="#3b494f" stroke-width="1.1"/>
<line x1="434.2" y1="617.5" x2="440.2" y2="617.5" stroke="#3b494f" stroke-width="1.1"/>
<line x1="434.2" y1="604" x2="440.2" y2="604" stroke="#3b494f" stroke-width="1.1"/>
<line x1="434.2" y1="590.6" x2="440.2" y2="590.6" stroke="#3b494f" stroke-width="1.1"/>
<line x1="429.2" y1="577.2" x2="440.2" y2="577.2" stroke="#3b494f" stroke-width="1.1"/>
<text transform="translate(420.9 577.2) rotate(-90)" text-anchor="middle" font-family='"Liberation Sans", "DejaVu Sans", sans-serif' font-size="9.3" fill="#48585e" textLength="18.5" lengthAdjust="spacingAndGlyphs">600</text>
<line x1="434.2" y1="563.8" x2="440.2" y2="563.8" stroke="#3b494f" stroke-width="1.1"/>
<line x1="434.2" y1="550.4" x2="440.2" y2="550.4" stroke="#3b494f" stroke-width="1.1"/>
<line x1="434.2" y1="536.9" x2="440.2" y2="536.9" stroke="#3b494f" stroke-width="1.1"/>
<line x1="434.2" y1="523.5" x2="440.2" y2="523.5" stroke="#3b494f" stroke-width="1.1"/>
<line x1="429.2" y1="510.1" x2="440.2" y2="510.1" stroke="#3b494f" stroke-width="1.1"/>
<text transform="translate(420.9 510.1) rotate(-90)" text-anchor="middle" font-family='"Liberation Sans", "DejaVu Sans", sans-serif' font-size="9.3" fill="#48585e" textLength="18.5" lengthAdjust="spacingAndGlyphs">800</text>
<line x1="434.2" y1="496.7" x2="440.2" y2="496.7" stroke="#3b494f" stroke-width="1.1"/>
<line x1="434.2" y1="483.3" x2="440.2" y2="483.3" stroke="#3b494f" stroke-width="1.1"/>
<line x1="434.2" y1="469.8" x2="440.2" y2="469.8" stroke="#3b494f" stroke-width="1.1"/>
<line x1="434.2" y1="456.4" x2="440.2" y2="456.4" stroke="#3b494f" stroke-width="1.1"/>
<text transform="translate(410.9 611.8) rotate(-90)" text-anchor="middle" font-family='"Liberation Sans", "DejaVu Sans", sans-serif' font-size="9.4" font-weight="normal" stroke="#48585e" stroke-width="0.18" fill="#48585e" textLength="43" lengthAdjust="spacingAndGlyphs">Number</text>
<clipPath id="clipd"><path d="M567.5 778.4 L568.2 778.4 L569 778.4 L569.7 778.3 L570.4 778.2 L571.2 778.1 L571.9 778 L572.7 777.8 L573.4 777.5 L574.1 777.3 L574.9 777 L575.6 776.6 L576.4 776.2 L577.1 775.8 L577.8 775.4 L578.6 775 L579.3 774.6 L580.1 774.2 L580.8 773.8 L581.5 773.5 L582.3 773.2 L583 772.9 L583.8 772.7 L584.5 772.6 L585.2 772.5 L586 772.4 L586.7 772.3 L587.5 772.2 L588.2 772.2 L588.9 772.2 L589.7 772.2 L590.4 772.1 L591.2 772.1 L591.9 772.1 L592.6 772.1 L593.4 772.1 L594.1 772.1 L594.9 772.1 L595.6 772.1 L596.3 772.1 L597.1 772.1 L597.8 772.1 L598.6 772.1 L599.3 772.1 L600 772.1 L600.8 772.1 L601.5 772.1 L602.3 772.1 L603 772.1 L603.7 772.1 L604.5 772.1 L605.2 772.1 L606 772.1 L606.7 772.1 L607.4 772.1 L608.2 772.1 L608.9 772.1 L609.7 772.1 L610.4 772.1 L611.1 772.1 L611.9 772.1 L612.6 772.1 L613.4 772.1 L614.1 772.1 L614.8 772.1 L615.6 772.1 L616.3 772.1 L617.1 772.1 L617.8 772.1 L618.5 772.1 L619.3 772.1 L620 772.1 L620.8 772.1 L621.5 772.1 L622.2 772.1 L623 772.1 L623.7 772.1 L624.5 772.1 L625.2 772.1 L625.9 772.1 L626.7 772.1 L627.4 772.1 L628.2 772.1 L628.9 772.1 L629.6 772.1 L630.4 772.1 L631.1 772.1 L631.9 772.1 L632.6 772.1 L633.3 772.1 L634.1 772.1 L634.8 772.1 L635.6 772.1 L636.3 772.1 L637 772.1 L637.8 772.1 L638.5 772.1 L639.3 772.1 L640 772.1 L640.7 772.1 L641.5 772.1 L642.2 772.1 L643 772.1 L643.7 772.1 L644.4 772.1 L645.2 772.1 L645.9 772.1 L646.7 772.1 L647.4 772.1 L648.1 772.1 L648.9 772.1 L649.6 772.1 L650.4 772.1 L651.1 772.1 L651.8 772.1 L652.6 772.1 L653.3 772.1 L654.1 772.1 L654.8 772.1 L655.5 772.1 L656.3 772.1 L657 772.1 L657.8 772.1 L658.5 772.1 L659.2 772.1 L660 772.1 L660.7 772.1 L661.5 772.1 L662.2 772.1 L662.9 772.1 L663.7 772.1 L664.4 772.1 L665.2 772.1 L665.9 772.1 L666.6 772.1 L667.4 772.1 L668.1 772.1 L668.9 772.1 L669.6 772.1 L670.3 772.1 L671.1 772.1 L671.8 772.1 L672.6 772.1 L673.3 772.1 L674 772.1 L674.8 772.1 L675.5 772.1 L676.3 772.1 L677 772.1 L677.7 772.1 L678.5 772.1 L679.2 772.1 L680 772.1 L680.7 772.1 L681.4 772.1 L682.2 772.1 L682.9 772.1 L683.7 772.1 L684.4 772.1 L685.1 772.2 L685.9 772.2 L686.6 772.2 L687.4 772.2 L688.1 772.2 L688.8 772.2 L689.6 772.3 L690.3 772.3 L691.1 772.4 L691.8 772.4 L692.5 772.5 L693.3 772.6 L694 772.7 L694.8 772.8 L695.5 772.9 L696.2 773.1 L697 773.2 L697.7 773.4 L698.5 773.6 L699.2 773.8 L699.9 774 L700.7 774.3 L701.4 774.5 L702.2 774.8 L702.9 775 L703.6 775.3 L704.4 775.6 L705.1 775.8 L705.9 776.1 L706.6 776.3 L707.3 776.6 L708.1 776.8 L708.8 777 L709.6 777.2 L710.3 777.4 L711 777.6 L711.8 777.7 L712.5 777.8 L713.3 777.9 L714 778 L714.7 778.1 L715.5 778.2 L716.2 778.3 L717 778.3 L717.7 778.3 L718.4 778.4 L719.2 778.4 L719.9 778.4 L720.7 778.4 L720.7 778.5 L567.5 778.5 Z"/></clipPath>
<path d="M560.1 777.9 L560.8 777.3 L561.6 776.8 L562.3 776.3 L563 774.3 L563.8 771.9 L564.5 769.1 L565.3 757.5 L566 745.9 L566.7 734.2 L567.5 714.4 L568.2 690.4 L569 666.4 L569.7 643.1 L570.4 621 L571.2 598.8 L571.9 576.6 L572.7 562.7 L573.4 549.6 L574.1 536.6 L574.9 523.5 L575.6 510.6 L576.4 501.4 L577.1 492.2 L577.8 483.1 L578.6 488.6 L579.3 497.7 L580.1 506.9 L580.8 518.3 L581.5 531.3 L582.3 544.4 L583 557.5 L583.8 570.6 L584.5 589.9 L585.2 612.1 L586 634.3 L586.7 656.7 L587.5 680.8 L588.2 704.8 L588.9 728.8 L589.7 741.2 L590.4 752.8 L591.2 764.4 L591.9 770.9 L592.6 773.3 L593.4 775.8 L594.1 776.6 L594.9 777.1 L595.6 777.6 L596.3 778.2 L596.3 778.5 L560.1 778.5 Z" fill="#718181" stroke="#111" stroke-width="1.5" stroke-linejoin="round"/>
<path d="M674.8 778.3 L675.5 778.3 L676.3 778.2 L677 778.1 L677.7 778 L678.5 777.9 L679.2 777.7 L680 777.5 L680.7 777.3 L681.4 777 L682.2 776.7 L682.9 776.3 L683.7 775.8 L684.4 775.3 L685.1 774.7 L685.9 774 L686.6 773.2 L687.4 772.3 L688.1 771.2 L688.8 770.1 L689.6 768.9 L690.3 767.6 L691.1 766.2 L691.8 764.7 L692.5 763.1 L693.3 761.5 L694 759.8 L694.8 758.2 L695.5 756.5 L696.2 754.8 L697 753.2 L697.7 751.6 L698.5 750.2 L699.2 748.9 L699.9 747.7 L700.7 746.8 L701.4 746 L702.2 745.4 L702.9 745.1 L703.6 745 L704.4 745.1 L705.1 745.4 L705.9 746 L706.6 746.8 L707.3 747.7 L708.1 748.9 L708.8 750.2 L709.6 751.6 L710.3 753.2 L711 754.8 L711.8 756.5 L712.5 758.2 L713.3 759.8 L714 761.5 L714.7 763.1 L715.5 764.7 L716.2 766.2 L717 767.6 L717.7 768.9 L718.4 770.1 L719.2 771.2 L719.9 772.3 L720.7 773.2 L721.4 774 L722.1 774.7 L722.9 775.3 L723.6 775.8 L724.4 776.3 L725.1 776.7 L725.8 777 L726.6 777.3 L727.3 777.5 L728.1 777.7 L728.8 777.9 L729.5 778 L730.3 778.1 L731 778.2 L731.8 778.3 L732.5 778.3 L732.5 778.5 L674.8 778.5 Z" fill="#718181" stroke="#111" stroke-width="1.5" stroke-linejoin="round"/>
<path d="M559.1 770.1 l6.3 8.4 M568.1 770.1 l6.3 8.4 M577.1 770.1 l6.3 8.4 M586.1 770.1 l6.3 8.4 M595.1 770.1 l6.3 8.4 M604.1 770.1 l6.3 8.4 M613.1 770.1 l6.3 8.4 M622.1 770.1 l6.3 8.4 M631.1 770.1 l6.3 8.4 M640.1 770.1 l6.3 8.4 M649.1 770.1 l6.3 8.4 M658.1 770.1 l6.3 8.4 M667.1 770.1 l6.3 8.4 M676.1 770.1 l6.3 8.4 M685.1 770.1 l6.3 8.4 M694.1 770.1 l6.3 8.4 M703.1 770.1 l6.3 8.4 M712.1 770.1 l6.3 8.4 M721.1 770.1 l6.3 8.4" stroke="#8f9797" stroke-width="0.65" fill="none" clip-path="url(#clipd)"/>
<path d="M569 778.4 L569.7 778.3 L570.4 778.2 L571.2 778.1 L571.9 778 L572.7 777.8 L573.4 777.5 L574.1 777.3 L574.9 777 L575.6 776.6 L576.4 776.2 L577.1 775.8 L577.8 775.4 L578.6 775 L579.3 774.6 L580.1 774.2 L580.8 773.8 L581.5 773.5 L582.3 773.2 L583 772.9 L583.8 772.7 L584.5 772.6 L585.2 772.5 L586 772.4 L586.7 772.3 L587.5 772.2 L588.2 772.2 L588.9 772.2 L589.7 772.2 L590.4 772.1 L591.2 772.1 L591.9 772.1 L592.6 773.3 L593.4 775.8 L594.1 776.6 L594.9 777.1 L595.6 777.6 L596.3 778.2 L596.3 778.5 L569 778.5 Z" fill="#465454" fill-opacity="0.45" stroke="none"/>
<path d="M674 778.4 L674.8 778.3 L675.5 778.3 L676.3 778.2 L677 778.1 L677.7 778 L678.5 777.9 L679.2 777.7 L680 777.5 L680.7 777.3 L681.4 777 L682.2 776.7 L682.9 776.3 L683.7 775.8 L684.4 775.3 L685.1 774.7 L685.9 774 L686.6 773.2 L687.4 772.3 L688.1 772.2 L688.8 772.2 L689.6 772.3 L690.3 772.3 L691.1 772.4 L691.8 772.4 L692.5 772.5 L693.3 772.6 L694 772.7 L694.8 772.8 L695.5 772.9 L696.2 773.1 L697 773.2 L697.7 773.4 L698.5 773.6 L699.2 773.8 L699.9 774 L700.7 774.3 L701.4 774.5 L702.2 774.8 L702.9 775 L703.6 775.3 L704.4 775.6 L705.1 775.8 L705.9 776.1 L706.6 776.3 L707.3 776.6 L708.1 776.8 L708.8 777 L709.6 777.2 L710.3 777.4 L711 777.6 L711.8 777.7 L712.5 777.8 L713.3 777.9 L714 778 L714.7 778.1 L715.5 778.2 L716.2 778.3 L717 778.3 L717.7 778.3 L718.4 778.4 L718.4 778.5 L674 778.5 Z" fill="#465454" fill-opacity="0.45" stroke="none"/>
<path d="M567.5 778.4 L568.2 778.4 L569 778.4 L569.7 778.3 L570.4 778.2 L571.2 778.1 L571.9 778 L572.7 777.8 L573.4 777.5 L574.1 777.3 L574.9 777 L575.6 776.6 L576.4 776.2 L577.1 775.8 L577.8 775.4 L578.6 775 L579.3 774.6 L580.1 774.2 L580.8 773.8 L581.5 773.5 L582.3 773.2 L583 772.9 L583.8 772.7 L584.5 772.6 L585.2 772.5 L586 772.4 L586.7 772.3 L587.5 772.2 L588.2 772.2 L588.9 772.2 L589.7 772.2 L590.4 772.1 L591.2 772.1 L591.9 772.1 L592.6 772.1 L593.4 772.1 L594.1 772.1 L594.9 772.1 L595.6 772.1 L596.3 772.1 L597.1 772.1 L597.8 772.1 L598.6 772.1 L599.3 772.1 L600 772.1 L600.8 772.1 L601.5 772.1 L602.3 772.1 L603 772.1 L603.7 772.1 L604.5 772.1 L605.2 772.1 L606 772.1 L606.7 772.1 L607.4 772.1 L608.2 772.1 L608.9 772.1 L609.7 772.1 L610.4 772.1 L611.1 772.1 L611.9 772.1 L612.6 772.1 L613.4 772.1 L614.1 772.1 L614.8 772.1 L615.6 772.1 L616.3 772.1 L617.1 772.1 L617.8 772.1 L618.5 772.1 L619.3 772.1 L620 772.1 L620.8 772.1 L621.5 772.1 L622.2 772.1 L623 772.1 L623.7 772.1 L624.5 772.1 L625.2 772.1 L625.9 772.1 L626.7 772.1 L627.4 772.1 L628.2 772.1 L628.9 772.1 L629.6 772.1 L630.4 772.1 L631.1 772.1 L631.9 772.1 L632.6 772.1 L633.3 772.1 L634.1 772.1 L634.8 772.1 L635.6 772.1 L636.3 772.1 L637 772.1 L637.8 772.1 L638.5 772.1 L639.3 772.1 L640 772.1 L640.7 772.1 L641.5 772.1 L642.2 772.1 L643 772.1 L643.7 772.1 L644.4 772.1 L645.2 772.1 L645.9 772.1 L646.7 772.1 L647.4 772.1 L648.1 772.1 L648.9 772.1 L649.6 772.1 L650.4 772.1 L651.1 772.1 L651.8 772.1 L652.6 772.1 L653.3 772.1 L654.1 772.1 L654.8 772.1 L655.5 772.1 L656.3 772.1 L657 772.1 L657.8 772.1 L658.5 772.1 L659.2 772.1 L660 772.1 L660.7 772.1 L661.5 772.1 L662.2 772.1 L662.9 772.1 L663.7 772.1 L664.4 772.1 L665.2 772.1 L665.9 772.1 L666.6 772.1 L667.4 772.1 L668.1 772.1 L668.9 772.1 L669.6 772.1 L670.3 772.1 L671.1 772.1 L671.8 772.1 L672.6 772.1 L673.3 772.1 L674 772.1 L674.8 772.1 L675.5 772.1 L676.3 772.1 L677 772.1 L677.7 772.1 L678.5 772.1 L679.2 772.1 L680 772.1 L680.7 772.1 L681.4 772.1 L682.2 772.1 L682.9 772.1 L683.7 772.1 L684.4 772.1 L685.1 772.2 L685.9 772.2 L686.6 772.2 L687.4 772.2 L688.1 772.2 L688.8 772.2 L689.6 772.3 L690.3 772.3 L691.1 772.4 L691.8 772.4 L692.5 772.5 L693.3 772.6 L694 772.7 L694.8 772.8 L695.5 772.9 L696.2 773.1 L697 773.2 L697.7 773.4 L698.5 773.6 L699.2 773.8 L699.9 774 L700.7 774.3 L701.4 774.5 L702.2 774.8 L702.9 775 L703.6 775.3 L704.4 775.6 L705.1 775.8 L705.9 776.1 L706.6 776.3 L707.3 776.6 L708.1 776.8 L708.8 777 L709.6 777.2 L710.3 777.4 L711 777.6 L711.8 777.7 L712.5 777.8 L713.3 777.9 L714 778 L714.7 778.1 L715.5 778.2 L716.2 778.3 L717 778.3 L717.7 778.3 L718.4 778.4 L719.2 778.4 L719.9 778.4 L720.7 778.4" fill="none" stroke="#1c1c1c" stroke-width="1.25"/>
<path d="M553.4 778.5 L554.2 778.5 L554.9 778.5 L555.6 778.4 L556.4 778.2 L557.1 777.7 L557.9 776.6 L558.6 775.3 L559.3 774.4 L560.1 774.2 L560.8 774.9 L561.6 775.6 L562.3 775.8 L563 774.2 L563.8 771.9 L564.5 769.1 L565.3 757.4 L566 745.8 L566.7 734.2 L567.5 714.3 L568.2 690.2 L569 666.1 L569.7 642.8 L570.4 620.5 L571.2 598.2 L571.9 575.7 L572.7 561.1 L573.4 545.9 L574.1 527 L574.9 502.5 L575.6 475.9 L576.4 460 L577.1 456.4 L577.8 459.7 L578.6 475.5 L579.3 489.5 L580.1 499.8 L580.8 511 L581.5 523.7 L582.3 536.3 L583 549 L583.8 561.8 L584.5 580.9 L585.2 602.5 L586 623.5 L586.7 644.5 L587.5 665.5 L588.2 686.5 L588.9 707.5 L589.7 728.5 L590.4 739.9 L591.2 744.9 L591.9 749.8 L592.6 755.3 L593.4 757.2 L594.1 759.4 L594.9 761.4 L595.6 762.5 L596.3 763.6 L597.1 763.9 L597.8 764.7 L598.6 765.9 L599.3 766.9 L600 768 L600.8 768.2 L601.5 768.2 L602.3 768.2 L603 768.3 L603.7 768.4 L604.5 768.6 L605.2 769.1 L606 769.1 L606.7 769.2 L607.4 769.4 L608.2 769.7 L608.9 769.9 L609.7 770 L610.4 769.4 L611.1 768.7 L611.9 768.1 L612.6 767.4 L613.4 767.1 L614.1 767 L614.8 766.9 L615.6 766.8 L616.3 766.9 L617.1 767.3 L617.8 767.7 L618.5 768.1 L619.3 768.5 L620 768.8 L620.8 769.1 L621.5 769.5 L622.2 769.8 L623 769.9 L623.7 769.9 L624.5 769.9 L625.2 770 L625.9 769.9 L626.7 769.3 L627.4 768.7 L628.2 768.1 L628.9 767.6 L629.6 767.8 L630.4 768.2 L631.1 768.6 L631.9 769 L632.6 769.2 L633.3 769.2 L634.1 769.1 L634.8 769 L635.6 768.9 L636.3 768.5 L637 768.1 L637.8 767.7 L638.5 767.2 L639.3 767 L640 766.8 L640.7 766.7 L641.5 766.5 L642.2 766.4 L643 766.6 L643.7 766.7 L644.4 766.8 L645.2 766.9 L645.9 767.2 L646.7 767.6 L647.4 767.9 L648.1 768.3 L648.9 768.5 L649.6 768.5 L650.4 768.4 L651.1 768.4 L651.8 768.3 L652.6 768.2 L653.3 768 L654.1 767.8 L654.8 767.6 L655.5 767.5 L656.3 767.6 L657 767.7 L657.8 767.7 L658.5 767.7 L659.2 767.2 L660 766.7 L660.7 766.3 L661.5 765.8 L662.2 765.7 L662.9 765.8 L663.7 765.8 L664.4 765.8 L665.2 766.2 L665.9 767 L666.6 767.8 L667.4 768.7 L668.1 769.5 L668.9 769.3 L669.6 769.1 L670.3 769 L671.1 768.8 L671.8 768.6 L672.6 768.6 L673.3 768.5 L674 768.5 L674.8 768.4 L675.5 768.1 L676.3 767.9 L677 767.6 L677.7 767.3 L678.5 767.3 L679.2 767.2 L680 767.1 L680.7 766.9 L681.4 766.6 L682.2 766.3 L682.9 766 L683.7 765.6 L684.4 765.2 L685.1 764.7 L685.9 764.1 L686.6 763.4 L687.4 762.6 L688.1 761.9 L688.8 761.1 L689.6 760.2 L690.3 759.2 L691.1 758 L691.8 756.6 L692.5 755 L693.3 753.4 L694 751.8 L694.8 749.5 L695.5 747.1 L696.2 744.7 L697 742.3 L697.7 740.5 L698.5 739.7 L699.2 739 L699.9 738.3 L700.7 737.9 L701.4 736.7 L702.2 735.7 L702.9 734.9 L703.6 734.3 L704.4 733.8 L705.1 733.5 L705.9 733.4 L706.6 733.6 L707.3 734.2 L708.1 735.8 L708.8 737.7 L709.6 739.7 L710.3 742 L711 744 L711.8 746 L712.5 748.2 L713.3 750.4 L714 752.8 L714.7 755.7 L715.5 758.4 L716.2 761.1 L717 763.7 L717.7 765.1 L718.4 766.3 L719.2 767.4 L719.9 768.3 L720.7 769.3 L721.4 770.4 L722.1 771.2 L722.9 772 L723.6 772.7 L724.4 773.4 L725.1 774 L725.8 774.5 L726.6 775 L727.3 775 L728.1 774.9 L728.8 774.8 L729.5 774.6 L730.3 774.7 L731 775.3 L731.8 775.8 L732.5 776.4 L733.2 776.9 L734 777 L734.7 777.1 L735.5 777.2 L736.2 777.3 L736.9 777.2 L737.7 777 L738.4 776.9 L739.2 776.7 L739.9 776.5 L740.6 776.3 L741.4 776.2 L742.1 776 L742.9 775.8 L743.6 776.1 L744.3 776.5 L745.1 776.9 L745.8 777.3 L746.6 777.4 L747.3 777.4 L748 777.3 L748.8 777.2 L749.5 777 L750.3 776.9 L751 776.7 L751.7 776.5 L752.5 776.4 L753.2 776.4" fill="none" stroke="#20282a" stroke-width="1.3" stroke-linejoin="round"/>
<path d="M559.3 778.4 L560.1 777.9 L560.8 777.3 L561.6 776.8 L562.3 776.3 L563 774.3 L563.8 771.9 L564.5 769.1 L565.3 757.4 L566 745.8 L566.7 734.2 L567.5 714.3 L568.2 690.2 L569 666.1 L569.7 642.8 L570.4 620.5 L571.2 598.2 L571.9 575.8 L572.7 561.6 L573.4 548.2 L574.1 534.7 L574.9 521.1 L575.6 507.7 L576.4 497.9 L577.1 488.2 L577.8 478.3 L578.6 483.2 L579.3 491.7 L580.1 500.3 L580.8 511.1 L581.5 523.7 L582.3 536.3 L583 549 L583.8 561.8 L584.5 580.9 L585.2 602.9 L586 624.9 L586.7 647.3 L587.5 671.2 L588.2 695.1 L588.9 719.1 L589.7 731.5 L590.4 743.1 L591.2 754.7 L591.9 761.2 L592.6 763.6 L593.4 766 L594.1 766.8 L594.9 767.4 L595.6 767.9 L596.3 768.4 L597.1 768.8 L597.8 768.8 L598.6 768.8 L599.3 768.8 L600 768.8 L600.8 768.8 L601.5 768.8 L602.3 768.8 L603 768.8 L603.7 768.8 L604.5 768.8 L605.2 768.8 L606 768.8 L606.7 768.8 L607.4 768.8 L608.2 768.8 L608.9 768.8 L609.7 768.8 L610.4 768.8 L611.1 768.8 L611.9 768.8 L612.6 768.8 L613.4 768.8 L614.1 768.8 L614.8 768.8 L615.6 768.8 L616.3 768.8 L617.1 768.8 L617.8 768.8 L618.5 768.8 L619.3 768.8 L620 768.8 L620.8 768.8 L621.5 768.8 L622.2 768.8 L623 768.8 L623.7 768.8 L624.5 768.8 L625.2 768.8 L625.9 768.8 L626.7 768.8 L627.4 768.8 L628.2 768.8 L628.9 768.8 L629.6 768.8 L630.4 768.8 L631.1 768.8 L631.9 768.8 L632.6 768.8 L633.3 768.8 L634.1 768.8 L634.8 768.8 L635.6 768.8 L636.3 768.8 L637 768.8 L637.8 768.8 L638.5 768.8 L639.3 768.8 L640 768.8 L640.7 768.8 L641.5 768.8 L642.2 768.8 L643 768.8 L643.7 768.8 L644.4 768.8 L645.2 768.8 L645.9 768.8 L646.7 768.8 L647.4 768.8 L648.1 768.8 L648.9 768.8 L649.6 768.8 L650.4 768.8 L651.1 768.8 L651.8 768.8 L652.6 768.8 L653.3 768.8 L654.1 768.8 L654.8 768.8 L655.5 768.8 L656.3 768.8 L657 768.8 L657.8 768.8 L658.5 768.8 L659.2 768.8 L660 768.8 L660.7 768.8 L661.5 768.8 L662.2 768.8 L662.9 768.8 L663.7 768.8 L664.4 768.8 L665.2 768.8 L665.9 768.8 L666.6 768.8 L667.4 768.8 L668.1 768.8 L668.9 768.8 L669.6 768.7 L670.3 768.7 L671.1 768.7 L671.8 768.7 L672.6 768.7 L673.3 768.7 L674 768.6 L674.8 768.6 L675.5 768.5 L676.3 768.5 L677 768.4 L677.7 768.3 L678.5 768.2 L679.2 768 L680 767.8 L680.7 767.6 L681.4 767.3 L682.2 767 L682.9 766.6 L683.7 766.1 L684.4 765.6 L685.1 765 L685.9 764.3 L686.6 763.5 L687.4 762.6 L688.1 761.7 L688.8 760.6 L689.6 759.4 L690.3 758.2 L691.1 756.8 L691.8 755.4 L692.5 754 L693.3 752.5 L694 751 L694.8 749.4 L695.5 748 L696.2 746.5 L697 745.1 L697.7 743.9 L698.5 742.7 L699.2 741.8 L699.9 740.9 L700.7 740.3 L701.4 739.9 L702.2 739.7 L702.9 739.8 L703.6 740.1 L704.4 740.6 L705.1 741.4 L705.9 742.3 L706.6 743.5 L707.3 744.8 L708.1 746.3 L708.8 747.9 L709.6 749.7 L710.3 751.5 L711 753.3 L711.8 755.2 L712.5 757.1 L713.3 759 L714 760.8 L714.7 762.6 L715.5 764.2 L716.2 765.8 L717 767.3 L717.7 768.7 L718.4 770 L719.2 771.1 L719.9 772.1 L720.7 773.1 L721.4 773.9 L722.1 774.6 L722.9 775.3 L723.6 775.8 L724.4 776.3 L725.1 776.7 L725.8 777 L726.6 777.3 L727.3 777.5 L728.1 777.7 L728.8 777.9 L729.5 778 L730.3 778.1 L731 778.2 L731.8 778.3 L732.5 778.3 L733.2 778.4 L734 778.4" fill="none" stroke="#0c0c0c" stroke-width="2.5" stroke-linejoin="round"/>
<line x1="439.6" y1="778.5" x2="795.4" y2="778.5" stroke="#0a0a0a" stroke-width="2.2"/>
<line x1="440.2" y1="778.5" x2="440.2" y2="791" stroke="#23292b" stroke-width="1.1"/>
<text x="440.2" y="804.9" text-anchor="middle" font-family='"Liberation Sans", "DejaVu Sans", sans-serif' font-size="10.9" fill="#48585e" textLength="5.5" lengthAdjust="spacingAndGlyphs">0</text>
<line x1="452" y1="778.5" x2="452" y2="785" stroke="#23292b" stroke-width="1.1"/>
<line x1="463.9" y1="778.5" x2="463.9" y2="785" stroke="#23292b" stroke-width="1.1"/>
<line x1="475.7" y1="778.5" x2="475.7" y2="785" stroke="#23292b" stroke-width="1.1"/>
<line x1="487.6" y1="778.5" x2="487.6" y2="785" stroke="#23292b" stroke-width="1.1"/>
<line x1="499.4" y1="778.5" x2="499.4" y2="791" stroke="#23292b" stroke-width="1.1"/>
<text x="499.4" y="804.9" text-anchor="middle" font-family='"Liberation Sans", "DejaVu Sans", sans-serif' font-size="10.9" fill="#48585e" textLength="11.1" lengthAdjust="spacingAndGlyphs">20</text>
<line x1="511.2" y1="778.5" x2="511.2" y2="785" stroke="#23292b" stroke-width="1.1"/>
<line x1="523.1" y1="778.5" x2="523.1" y2="785" stroke="#23292b" stroke-width="1.1"/>
<line x1="534.9" y1="778.5" x2="534.9" y2="785" stroke="#23292b" stroke-width="1.1"/>
<line x1="546.8" y1="778.5" x2="546.8" y2="785" stroke="#23292b" stroke-width="1.1"/>
<line x1="558.6" y1="778.5" x2="558.6" y2="791" stroke="#23292b" stroke-width="1.1"/>
<text x="558.6" y="804.9" text-anchor="middle" font-family='"Liberation Sans", "DejaVu Sans", sans-serif' font-size="10.9" fill="#48585e" textLength="11.1" lengthAdjust="spacingAndGlyphs">40</text>
<line x1="570.4" y1="778.5" x2="570.4" y2="785" stroke="#23292b" stroke-width="1.1"/>
<line x1="582.3" y1="778.5" x2="582.3" y2="785" stroke="#23292b" stroke-width="1.1"/>
<line x1="594.1" y1="778.5" x2="594.1" y2="785" stroke="#23292b" stroke-width="1.1"/>
<line x1="606" y1="778.5" x2="606" y2="785" stroke="#23292b" stroke-width="1.1"/>
<line x1="617.8" y1="778.5" x2="617.8" y2="791" stroke="#23292b" stroke-width="1.1"/>
<text x="617.8" y="804.9" text-anchor="middle" font-family='"Liberation Sans", "DejaVu Sans", sans-serif' font-size="10.9" fill="#48585e" textLength="11.1" lengthAdjust="spacingAndGlyphs">60</text>
<line x1="629.6" y1="778.5" x2="629.6" y2="785" stroke="#23292b" stroke-width="1.1"/>
<line x1="641.5" y1="778.5" x2="641.5" y2="785" stroke="#23292b" stroke-width="1.1"/>
<line x1="653.3" y1="778.5" x2="653.3" y2="785" stroke="#23292b" stroke-width="1.1"/>
<line x1="665.2" y1="778.5" x2="665.2" y2="785" stroke="#23292b" stroke-width="1.1"/>
<line x1="677" y1="778.5" x2="677" y2="791" stroke="#23292b" stroke-width="1.1"/>
<text x="677" y="804.9" text-anchor="middle" font-family='"Liberation Sans", "DejaVu Sans", sans-serif' font-size="10.9" fill="#48585e" textLength="11.1" lengthAdjust="spacingAndGlyphs">80</text>
<line x1="688.8" y1="778.5" x2="688.8" y2="785" stroke="#23292b" stroke-width="1.1"/>
<line x1="700.7" y1="778.5" x2="700.7" y2="785" stroke="#23292b" stroke-width="1.1"/>
<line x1="712.5" y1="778.5" x2="712.5" y2="785" stroke="#23292b" stroke-width="1.1"/>
<line x1="724.4" y1="778.5" x2="724.4" y2="785" stroke="#23292b" stroke-width="1.1"/>
<line x1="736.2" y1="778.5" x2="736.2" y2="791" stroke="#23292b" stroke-width="1.1"/>
<text x="736.2" y="804.9" text-anchor="middle" font-family='"Liberation Sans", "DejaVu Sans", sans-serif' font-size="10.9" fill="#48585e" textLength="16.6" lengthAdjust="spacingAndGlyphs">100</text>
<line x1="748" y1="778.5" x2="748" y2="785" stroke="#23292b" stroke-width="1.1"/>
<line x1="759.9" y1="778.5" x2="759.9" y2="785" stroke="#23292b" stroke-width="1.1"/>
<line x1="771.7" y1="778.5" x2="771.7" y2="785" stroke="#23292b" stroke-width="1.1"/>
<line x1="783.6" y1="778.5" x2="783.6" y2="785" stroke="#23292b" stroke-width="1.1"/>
<line x1="795.4" y1="778.5" x2="795.4" y2="791" stroke="#23292b" stroke-width="1.1"/>
<text x="795.4" y="804.9" text-anchor="middle" font-family='"Liberation Sans", "DejaVu Sans", sans-serif' font-size="10.9" fill="#48585e" textLength="16.6" lengthAdjust="spacingAndGlyphs">120</text>
<text x="617.3" y="816.9" text-anchor="middle" font-family='"Liberation Sans", "DejaVu Sans", sans-serif' font-size="11.2" fill="#48585e" textLength="92" lengthAdjust="spacingAndGlyphs">Channels (FL2-A)</text>
<path d="M575.7 779.1 l4.7 10.8 h-9.4 z" fill="#0a0a0a"/>
<path d="M706.4 779.1 l4.7 10.8 h-9.4 z" fill="#0a0a0a"/>
<text x="600" y="464.9" font-family='"Liberation Serif", "DejaVu Serif", serif' font-weight="bold" font-size="22.6" fill="#111" stroke="#111" stroke-width="0.45" textLength="168.6" lengthAdjust="spacingAndGlyphs">Dip G1: 66.71%</text>
<text x="600" y="493.5" font-family='"Liberation Serif", "DejaVu Serif", serif' font-weight="bold" font-size="22.6" fill="#111" stroke="#111" stroke-width="0.45" textLength="156.5" lengthAdjust="spacingAndGlyphs">Dip S: 15.31 %</text>
<text x="600" y="522.1" font-family='"Liberation Serif", "DejaVu Serif", serif' font-weight="bold" font-size="22.6" fill="#111" stroke="#111" stroke-width="0.45" textLength="174.9" lengthAdjust="spacingAndGlyphs">Dip G2: 17.98 %</text>
</g>
<text x="-2.2" y="31.2" font-family='"Liberation Serif", "DejaVu Serif", serif' font-size="46.5" fill="#111">a</text>
<text x="404.6" y="31.6" font-family='"Liberation Serif", "DejaVu Serif", serif' font-size="46.5" fill="#111">b</text>
<text x="1.6" y="443.7" font-family='"Liberation Serif", "DejaVu Serif", serif' font-size="46.5" fill="#111">c</text>
<text x="408.5" y="444.1" font-family='"Liberation Serif", "DejaVu Serif", serif' font-size="46.5" fill="#111">d</text>
<text x="27.7" y="850.5" font-family='"Liberation Serif", "DejaVu Serif", serif' font-size="46.5" fill="#111">e</text>
<rect x="798.3" y="245" width="2.2" height="1" fill="#666"/><rect x="798.3" y="271.3" width="2.2" height="1" fill="#666"/>
<g id="panel-e">
<line x1="116.7" y1="833.5" x2="116.7" y2="1260" stroke="#1b1d1f" stroke-width="2"/>
<line x1="115.7" y1="1259" x2="774.5" y2="1259" stroke="#1b1d1f" stroke-width="1.9"/>
<line x1="107.7" y1="1259" x2="116.7" y2="1259" stroke="#1b1d1f" stroke-width="1.9"/>
<text x="99.6" y="1269.7" text-anchor="end" font-family='"Liberation Serif", "DejaVu Serif", serif' font-weight="bold" font-size="30.6" fill="#151515" stroke="#151515" stroke-width="0.5" textLength="13.6" lengthAdjust="spacingAndGlyphs">0</text>
<line x1="112.2" y1="1230.8" x2="116.7" y2="1230.8" stroke="#1b1d1f" stroke-width="1.5"/>
<line x1="107.7" y1="1202.5" x2="116.7" y2="1202.5" stroke="#1b1d1f" stroke-width="1.9"/>
<text x="99.6" y="1213.2" text-anchor="end" font-family='"Liberation Serif", "DejaVu Serif", serif' font-weight="bold" font-size="30.6" fill="#151515" stroke="#151515" stroke-width="0.5" textLength="28" lengthAdjust="spacingAndGlyphs">10</text>
<line x1="112.2" y1="1174.2" x2="116.7" y2="1174.2" stroke="#1b1d1f" stroke-width="1.5"/>
<line x1="107.7" y1="1146" x2="116.7" y2="1146" stroke="#1b1d1f" stroke-width="1.9"/>
<text x="99.6" y="1156.7" text-anchor="end" font-family='"Liberation Serif", "DejaVu Serif", serif' font-weight="bold" font-size="30.6" fill="#151515" stroke="#151515" stroke-width="0.5" textLength="28" lengthAdjust="spacingAndGlyphs">20</text>
<line x1="112.2" y1="1117.8" x2="116.7" y2="1117.8" stroke="#1b1d1f" stroke-width="1.5"/>
<line x1="107.7" y1="1089.5" x2="116.7" y2="1089.5" stroke="#1b1d1f" stroke-width="1.9"/>
<text x="99.6" y="1100.2" text-anchor="end" font-family='"Liberation Serif", "DejaVu Serif", serif' font-weight="bold" font-size="30.6" fill="#151515" stroke="#151515" stroke-width="0.5" textLength="28" lengthAdjust="spacingAndGlyphs">30</text>
<line x1="112.2" y1="1061.2" x2="116.7" y2="1061.2" stroke="#1b1d1f" stroke-width="1.5"/>
<line x1="107.7" y1="1033" x2="116.7" y2="1033" stroke="#1b1d1f" stroke-width="1.9"/>
<text x="99.6" y="1043.7" text-anchor="end" font-family='"Liberation Serif", "DejaVu Serif", serif' font-weight="bold" font-size="30.6" fill="#151515" stroke="#151515" stroke-width="0.5" textLength="28" lengthAdjust="spacingAndGlyphs">40</text>
<line x1="112.2" y1="1004.8" x2="116.7" y2="1004.8" stroke="#1b1d1f" stroke-width="1.5"/>
<line x1="107.7" y1="976.5" x2="116.7" y2="976.5" stroke="#1b1d1f" stroke-width="1.9"/>
<text x="99.6" y="987.2" text-anchor="end" font-family='"Liberation Serif", "DejaVu Serif", serif' font-weight="bold" font-size="30.6" fill="#151515" stroke="#151515" stroke-width="0.5" textLength="28" lengthAdjust="spacingAndGlyphs">50</text>
<line x1="112.2" y1="948.2" x2="116.7" y2="948.2" stroke="#1b1d1f" stroke-width="1.5"/>
<line x1="107.7" y1="920" x2="116.7" y2="920" stroke="#1b1d1f" stroke-width="1.9"/>
<text x="99.6" y="930.7" text-anchor="end" font-family='"Liberation Serif", "DejaVu Serif", serif' font-weight="bold" font-size="30.6" fill="#151515" stroke="#151515" stroke-width="0.5" textLength="28" lengthAdjust="spacingAndGlyphs">60</text>
<line x1="112.2" y1="891.8" x2="116.7" y2="891.8" stroke="#1b1d1f" stroke-width="1.5"/>
<line x1="107.7" y1="863.5" x2="116.7" y2="863.5" stroke="#1b1d1f" stroke-width="1.9"/>
<text x="99.6" y="874.2" text-anchor="end" font-family='"Liberation Serif", "DejaVu Serif", serif' font-weight="bold" font-size="30.6" fill="#151515" stroke="#151515" stroke-width="0.5" textLength="28" lengthAdjust="spacingAndGlyphs">70</text>
<line x1="335" y1="1254" x2="335" y2="1263.5" stroke="#1b1d1f" stroke-width="1.4"/>
<line x1="554.3" y1="1254" x2="554.3" y2="1263.5" stroke="#1b1d1f" stroke-width="1.4"/>
<line x1="773.7" y1="1254" x2="773.7" y2="1263.5" stroke="#1b1d1f" stroke-width="1.4"/>
<path d="M160.2 970.8 V957.3 M151.2 957.3 h18" stroke="#3a3e40" stroke-width="1.1" fill="none"/>
<rect x="138.8" y="970.8" width="43.1" height="288.2" fill="#090a0b" stroke="#141618" stroke-width="1.4"/>
<path d="M203.9 946 V939.5 M194.9 939.5 h18" stroke="#3a3e40" stroke-width="1.1" fill="none"/>
<rect x="182.6" y="946" width="43.1" height="313" fill="#c3cac8" stroke="#141618" stroke-width="1.4"/>
<text transform="translate(203.5 938.8) scale(1 1.3)" text-anchor="middle" font-family='"Liberation Serif", "DejaVu Serif", serif' font-weight="bold" font-size="24" fill="#1c1c1c">*</text>
<path d="M247.7 913.2 V903.5 M238.7 903.5 h18" stroke="#3a3e40" stroke-width="1.1" fill="none"/>
<rect x="226.3" y="913.2" width="43.1" height="345.8" fill="#303538" stroke="#141618" stroke-width="1.4"/>
<text transform="translate(247.7 909.9) scale(1 1.3)" text-anchor="middle" font-family='"Liberation Serif", "DejaVu Serif", serif' font-weight="bold" font-size="24" fill="#1c1c1c">*</text>
<path d="M291.4 882.7 V879.4 M282.4 879.4 h18" stroke="#3a3e40" stroke-width="1.1" fill="none"/>
<rect x="270.1" y="882.7" width="43.1" height="376.3" fill="#ffffff" stroke="#141618" stroke-width="1.4"/>
<text transform="translate(289.9 883.7) scale(1 1.3)" text-anchor="middle" font-family='"Liberation Serif", "DejaVu Serif", serif' font-weight="bold" font-size="24" fill="#1c1c1c">*</text>
<path d="M379.3 1095.7 V1089 M370.3 1089 h18" stroke="#3a3e40" stroke-width="1.1" fill="none"/>
<rect x="358.1" y="1095.7" width="42.9" height="163.3" fill="#090a0b" stroke="#141618" stroke-width="1.4"/>
<path d="M422.8 1120 V1115 M413.8 1115 h18" stroke="#3a3e40" stroke-width="1.1" fill="none"/>
<rect x="401.6" y="1120" width="42.9" height="139" fill="#c3cac8" stroke="#141618" stroke-width="1.4"/>
<text transform="translate(423.4 1119.6) scale(1 1.3)" text-anchor="middle" font-family='"Liberation Serif", "DejaVu Serif", serif' font-weight="bold" font-size="24" fill="#1c1c1c">*</text>
<path d="M466.2 1150.5 V1145.6 M457.2 1145.6 h18" stroke="#3a3e40" stroke-width="1.1" fill="none"/>
<rect x="445" y="1150.5" width="42.9" height="108.5" fill="#303538" stroke="#141618" stroke-width="1.4"/>
<text transform="translate(465.4 1150.6) scale(1 1.3)" text-anchor="middle" font-family='"Liberation Serif", "DejaVu Serif", serif' font-weight="bold" font-size="24" fill="#1c1c1c">*</text>
<path d="M509.7 1173.1 V1159.5 M500.7 1159.5 h18" stroke="#3a3e40" stroke-width="1.1" fill="none"/>
<rect x="488.5" y="1173.1" width="42.9" height="85.9" fill="#ffffff" stroke="#141618" stroke-width="1.4"/>
<text transform="translate(511 1164.4) scale(1 1.3)" text-anchor="middle" font-family='"Liberation Serif", "DejaVu Serif", serif' font-weight="bold" font-size="24" fill="#1c1c1c">*</text>
<path d="M598.1 1146.6 V1133.6 M589.1 1133.6 h18" stroke="#3a3e40" stroke-width="1.1" fill="none"/>
<rect x="576.8" y="1146.6" width="43" height="112.4" fill="#090a0b" stroke="#141618" stroke-width="1.4"/>
<path d="M641.7 1147.7 V1127.8 M632.7 1127.8 h18" stroke="#3a3e40" stroke-width="1.1" fill="none"/>
<rect x="620.4" y="1147.7" width="43" height="111.3" fill="#c3cac8" stroke="#141618" stroke-width="1.4"/>
<path d="M685.3 1150.5 V1139.8 M676.3 1139.8 h18" stroke="#3a3e40" stroke-width="1.1" fill="none"/>
<rect x="664" y="1150.5" width="43" height="108.5" fill="#303538" stroke="#141618" stroke-width="1.4"/>
<path d="M728.9 1157.9 V1153.7 M719.9 1153.7 h18" stroke="#3a3e40" stroke-width="1.1" fill="none"/>
<rect x="707.6" y="1157.9" width="43" height="101.1" fill="#ffffff" stroke="#141618" stroke-width="1.4"/>
<text transform="translate(191.4 1287.2) scale(0.93 1)" font-family='"Liberation Serif", "DejaVu Serif", serif' font-weight="bold" font-size="27.2" fill="#151515" stroke="#151515" stroke-width="0.45">G</text>
<text transform="translate(213.6 1297.2) scale(0.95 1)" font-family='"Liberation Serif", "DejaVu Serif", serif' font-weight="bold" font-size="17.5" fill="#151515" stroke="#151515" stroke-width="0.45">0</text>
<text transform="translate(220.2 1294.9) scale(1.0 1)" font-family='"Liberation Serif", "DejaVu Serif", serif' font-weight="bold" font-size="39" fill="#151515" stroke="#151515" stroke-width="0.45">/</text>
<text transform="translate(229.4 1287.2) scale(0.93 1)" font-family='"Liberation Serif", "DejaVu Serif", serif' font-weight="bold" font-size="27.2" fill="#151515" stroke="#151515" stroke-width="0.45">G</text>
<text transform="translate(252.6 1297.2) scale(0.95 1)" font-family='"Liberation Serif", "DejaVu Serif", serif' font-weight="bold" font-size="17.5" fill="#151515" stroke="#151515" stroke-width="0.45">1</text>
<text transform="translate(434.6 1288.2) scale(0.9 1)" font-family='"Liberation Serif", "DejaVu Serif", serif' font-weight="bold" font-size="28" fill="#151515" stroke="#151515" stroke-width="0.45">S</text>
<text transform="translate(630.6 1287.6) scale(0.93 1)" font-family='"Liberation Serif", "DejaVu Serif", serif' font-weight="bold" font-size="27.2" fill="#151515" stroke="#151515" stroke-width="0.45">G</text>
<text transform="translate(652.8 1297.4) scale(0.95 1)" font-family='"Liberation Serif", "DejaVu Serif", serif' font-weight="bold" font-size="17.5" fill="#151515" stroke="#151515" stroke-width="0.45">2</text>
<text transform="translate(660.2 1295.1) scale(1.0 1)" font-family='"Liberation Serif", "DejaVu Serif", serif' font-weight="bold" font-size="39" fill="#151515" stroke="#151515" stroke-width="0.45">/</text>
<text transform="translate(671.5 1287.6) scale(0.88 1)" font-family='"Liberation Serif", "DejaVu Serif", serif' font-weight="bold" font-size="27.2" fill="#151515" stroke="#151515" stroke-width="0.45">M</text>
<text x="355" y="1323.6" font-family='"Liberation Serif", "DejaVu Serif", serif' font-weight="bold" font-size="16.3" fill="#151515" stroke="#151515" stroke-width="0.3" textLength="137.6" lengthAdjust="spacingAndGlyphs">SJYLF (mg/mL)</text>
<text transform="translate(47.6 1158) rotate(-90)" font-family='"Liberation Serif", "DejaVu Serif", serif' font-weight="bold" font-size="30" fill="#151515" stroke="#151515" stroke-width="0.5" textLength="184" lengthAdjust="spacing">Cell Cycle (%)</text>
<rect x="548.4" y="865.8" width="47.8" height="22.8" fill="#090a0b" stroke="#232628" stroke-width="1.3"/>
<text transform="translate(609.6 884.9) scale(1.06 1)" font-family='"Liberation Serif", "DejaVu Serif", serif' font-weight="bold" font-size="19.6" fill="#151515" stroke="#151515" stroke-width="0.35" letter-spacing="1.2">0 mg/ml</text>
<rect x="548.4" y="899" width="47.8" height="22.8" fill="#c3cac8" stroke="#232628" stroke-width="1.3"/>
<text transform="translate(609.6 918.1) scale(1.06 1)" font-family='"Liberation Serif", "DejaVu Serif", serif' font-weight="bold" font-size="19.6" fill="#151515" stroke="#151515" stroke-width="0.35" letter-spacing="1.2">0.5 mg/ml</text>
<rect x="548.4" y="932.3" width="47.8" height="22.8" fill="#303538" stroke="#232628" stroke-width="1.3"/>
<text transform="translate(609.6 951.4) scale(1.06 1)" font-family='"Liberation Serif", "DejaVu Serif", serif' font-weight="bold" font-size="19.6" fill="#151515" stroke="#151515" stroke-width="0.35" letter-spacing="1.2">1 mg/ml</text>
<rect x="548.4" y="965.5" width="47.8" height="22.8" fill="#ffffff" stroke="#232628" stroke-width="1.3"/>
<text transform="translate(609.6 984.6) scale(1.06 1)" font-family='"Liberation Serif", "DejaVu Serif", serif' font-weight="bold" font-size="19.6" fill="#151515" stroke="#151515" stroke-width="0.35" letter-spacing="1.2">1.5 mg/ml</text>
</g>
</g>
</svg></body></html>
